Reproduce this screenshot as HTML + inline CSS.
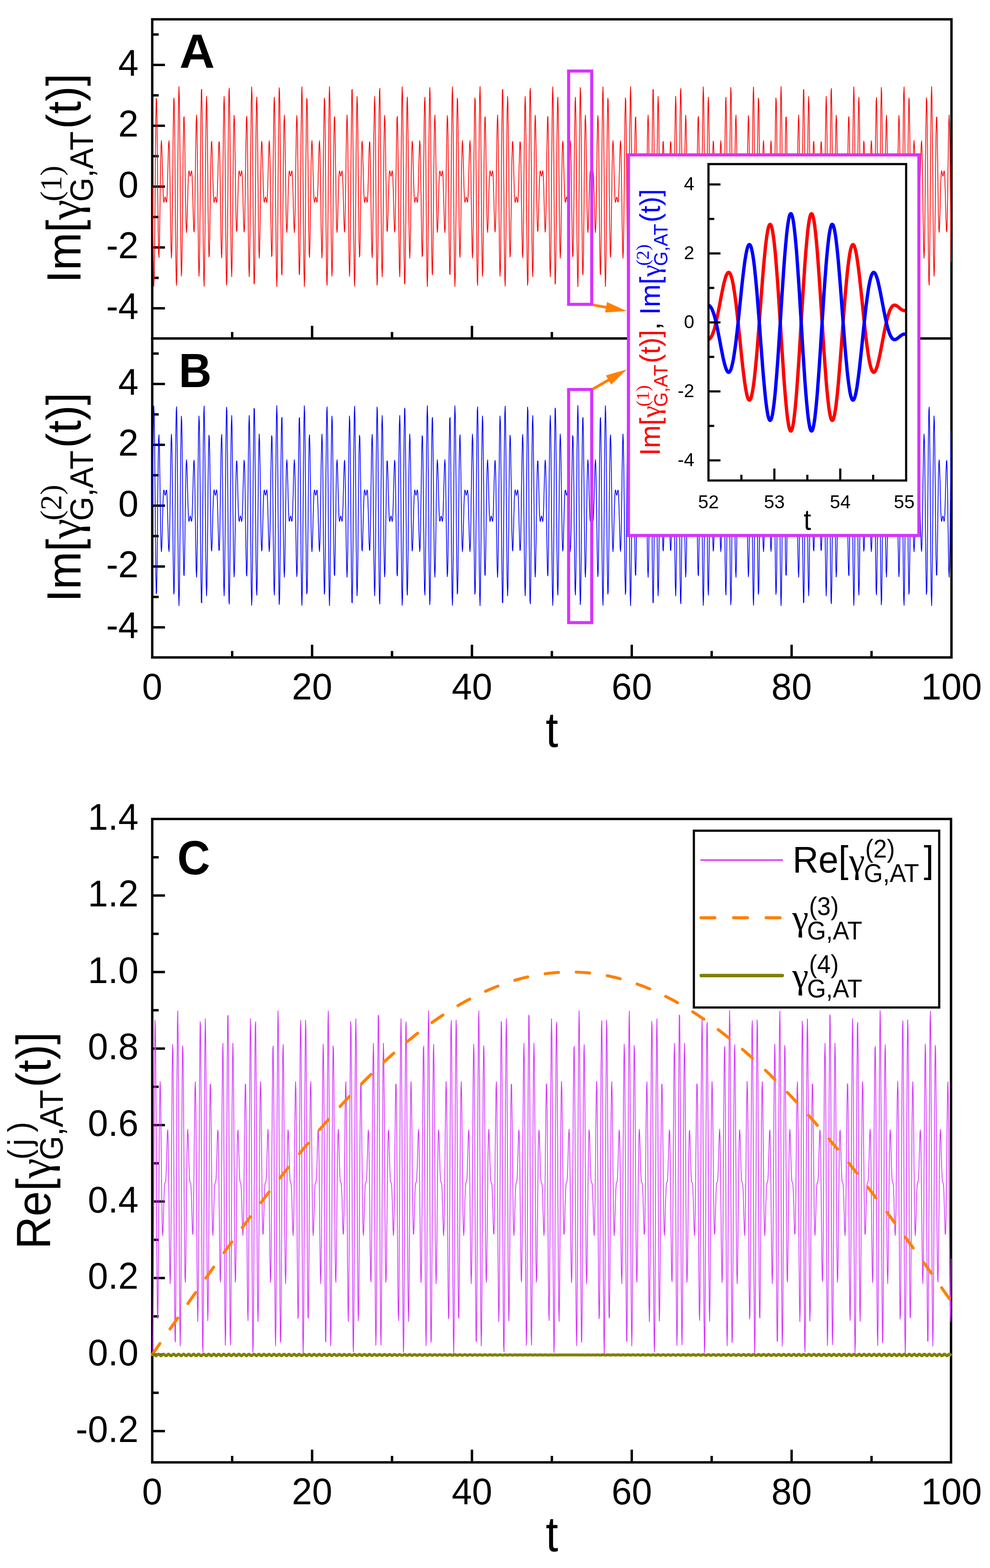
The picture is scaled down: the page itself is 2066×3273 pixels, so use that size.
<!DOCTYPE html><html><head><meta charset="utf-8"><title>figure</title><style>
html,body{margin:0;padding:0;background:#fff;width:2066px;height:3273px;overflow:hidden}
svg{display:block}
text{font-family:"Liberation Sans",Arial,Helvetica,sans-serif}
.sf{font-family:"Liberation Serif","Times New Roman",serif}
.b{font-weight:bold}
</style></head><body>
<svg width="2066" height="3273" viewBox="0 0 2066 3273">
<rect x="0" y="0" width="2066" height="3273" fill="#fff"/>
<rect x="317.7" y="40.3" width="1667.9" height="666.2" fill="none" stroke="#000" stroke-width="5.0"/>
<rect x="317.7" y="706.5" width="1667.9" height="665.8" fill="none" stroke="#000" stroke-width="5.0"/>
<path d="M317.7 643.5H344.2M317.7 1309.5H344.2M317.7 580.0H331.2M317.7 1246.0H331.2M317.7 516.5H344.2M317.7 1182.5H344.2M317.7 453.0H331.2M317.7 1119.0H331.2M317.7 389.5H344.2M317.7 1055.5H344.2M317.7 326.0H331.2M317.7 992.0H331.2M317.7 262.5H344.2M317.7 928.5H344.2M317.7 199.0H331.2M317.7 865.0H331.2M317.7 135.5H344.2M317.7 801.5H344.2M317.7 72.0H331.2M317.7 738.0H331.2M484.5 706.5V693.0M484.5 1372.3V1358.8M484.5 3052.5V3039.0M651.3 706.5V680.0M651.3 1372.3V1345.8M651.3 3052.5V3026.0M818.1 706.5V693.0M818.1 1372.3V1358.8M818.1 3052.5V3039.0M984.9 706.5V680.0M984.9 1372.3V1345.8M984.9 3052.5V3026.0M1151.7 706.5V693.0M1151.7 1372.3V1358.8M1151.7 3052.5V3039.0M1318.4 706.5V680.0M1318.4 1372.3V1345.8M1318.4 3052.5V3026.0M1485.2 706.5V693.0M1485.2 1372.3V1358.8M1485.2 3052.5V3039.0M1652.0 706.5V680.0M1652.0 1372.3V1345.8M1652.0 3052.5V3026.0M1818.8 706.5V693.0M1818.8 1372.3V1358.8M1818.8 3052.5V3039.0M317.7 2987.2H344.2M317.7 2907.3H331.2M317.7 2827.5H344.2M317.7 2747.7H331.2M317.7 2667.8H344.2M317.7 2587.9H331.2M317.7 2508.1H344.2M317.7 2428.2H331.2M317.7 2348.4H344.2M317.7 2268.6H331.2M317.7 2188.7H344.2M317.7 2108.8H331.2M317.7 2029.0H344.2M317.7 1949.2H331.2M317.7 1869.3H344.2M317.7 1789.5H331.2" stroke="#000" stroke-width="5" fill="none"/>
<polyline fill="none" stroke="#FF0000" stroke-width="1.6" stroke-linejoin="round" points="318.5,389.5 319.3,489.8 320.2,565.4 321.0,597.8 321.8,579.7 322.7,516.4 323.5,424.3 324.3,326.8 325.2,247.6 326.0,205.4 326.8,208.6 327.7,254.3 328.5,329.0 329.3,413.0 330.2,485.3 331.0,529.5 331.8,537.5 332.7,510.7 333.5,459.1 334.3,397.8 335.2,342.6 336.0,305.8 336.8,293.5 337.7,304.4 338.5,331.4 339.3,364.6 340.2,394.4 341.0,414.2 341.8,422.2 342.7,420.9 343.5,415.6 344.3,411.5 345.2,411.9 346.0,416.5 346.8,421.6 347.7,421.6 348.5,411.7 349.3,390.0 350.2,359.1 351.0,326.1 351.8,301.2 352.7,293.8 353.5,310.4 354.3,350.8 355.2,408.1 356.0,468.9 356.8,517.3 357.7,538.8 358.5,524.5 359.3,474.7 360.2,399.1 361.0,315.2 361.8,244.1 362.7,204.9 363.5,209.4 364.3,258.7 365.2,342.5 366.0,440.9 366.8,529.6 367.7,586.2 368.5,595.9 369.3,555.3 370.2,474.0 371.0,371.9 371.8,274.1 372.7,204.8 373.5,180.7 374.3,207.1 375.2,276.7 376.0,371.4 376.8,467.4 377.7,541.5 378.5,576.3 379.3,565.4 380.2,513.7 381.0,435.9 381.8,352.5 382.7,284.0 383.5,245.5 384.3,243.7 385.2,275.6 386.0,330.0 386.8,391.3 387.7,444.1 388.5,477.0 389.3,485.2 390.2,471.0 391.0,442.2 391.8,408.9 392.7,380.5 393.5,362.7 394.3,356.5 395.2,358.8 396.0,364.3 396.8,367.8 397.7,366.5 398.5,361.5 399.3,356.9 400.2,358.3 401.0,370.1 401.8,393.7 402.7,425.6 403.5,457.9 404.3,480.5 405.2,484.1 406.0,463.4 406.8,419.4 407.7,360.5 408.5,300.7 409.3,255.9 410.2,240.0 411.0,260.5 411.8,315.6 412.7,394.0 413.5,477.2 414.3,544.1 415.2,576.6 416.0,564.3 416.8,508.2 417.7,420.4 418.5,321.9 419.3,237.1 420.2,187.6 421.0,186.6 421.8,234.9 422.7,321.3 423.5,424.5 424.3,519.1 425.2,581.7 426.0,597.4 426.8,562.9 427.7,487.6 428.5,390.9 429.3,297.0 430.2,228.6 431.0,201.3 431.8,219.7 432.7,277.1 433.5,357.3 434.3,439.5 435.2,503.9 436.0,536.4 436.8,532.0 437.7,495.4 438.5,438.7 439.3,377.8 440.2,327.7 441.0,298.9 441.8,294.8 442.7,312.1 443.5,342.4 444.3,375.4 445.2,402.4 446.0,418.2 446.8,422.6 447.7,419.3 448.5,413.9 449.3,411.1 450.2,413.1 451.0,418.4 451.8,422.4 452.7,419.6 453.5,405.7 454.3,380.3 455.2,347.7 456.0,316.3 456.8,296.3 457.7,296.6 458.5,321.5 459.3,368.8 460.2,428.9 461.0,487.3 461.8,528.1 462.7,538.1 463.5,511.4 464.3,451.4 465.2,370.8 466.0,288.9 466.8,226.6 467.7,201.2 468.5,221.2 469.3,283.9 470.2,375.1 471.0,473.0 471.8,553.2 472.7,595.1 473.5,587.6 474.3,531.7 475.2,440.8 476.0,337.3 476.8,246.6 477.7,191.1 478.5,184.0 479.3,226.4 480.2,306.8 481.0,404.8 481.8,495.8 482.7,558.1 483.5,577.8 484.3,552.0 485.1,489.5 486.0,407.4 486.8,326.9 487.6,267.2 488.5,240.8 489.3,251.1 490.1,292.1 491.0,350.7 491.8,410.7 492.6,457.8 493.5,482.5 494.3,482.6 495.1,462.4 496.0,431.0 496.8,398.4 497.6,373.1 498.5,359.4 499.3,356.6 500.1,360.6 501.0,365.9 501.8,367.9 502.6,365.1 503.5,359.7 504.3,356.4 505.1,360.9 506.0,376.8 506.8,403.8 507.6,436.9 508.5,467.1 509.3,484.3 510.1,480.0 511.0,450.9 511.8,400.7 512.6,339.7 513.5,283.1 514.3,246.8 515.1,242.7 516.0,275.6 516.8,340.2 517.6,422.5 518.5,502.5 519.3,559.6 520.1,577.7 521.0,549.9 521.8,481.3 522.6,387.2 523.5,290.6 524.3,215.6 525.1,181.5 526.0,197.6 526.8,260.6 527.6,355.4 528.5,458.6 529.3,544.7 530.1,592.7 531.0,591.1 531.8,541.3 532.6,456.3 533.5,357.8 534.3,270.2 535.1,214.4 536.0,202.5 536.8,235.3 537.6,302.5 538.5,385.8 539.3,464.0 540.1,518.8 541.0,539.0 541.8,522.8 542.6,477.8 543.5,417.9 544.3,359.1 545.1,315.3 546.0,294.8 546.8,298.6 547.6,321.4 548.5,353.7 549.3,385.5 550.1,409.0 551.0,420.8 551.8,422.1 552.6,417.4 553.5,412.5 554.3,411.3 555.1,414.7 556.0,420.2 556.8,422.5 557.6,416.2 558.5,398.3 559.3,369.8 560.1,336.6 561.0,307.8 561.8,293.8 562.6,302.2 563.5,335.3 564.3,388.2 565.1,449.5 566.0,503.8 566.8,535.4 567.6,533.3 568.5,494.5 569.3,425.7 570.1,342.3 571.0,264.7 571.8,213.3 572.6,202.8 573.5,238.0 574.3,312.3 575.1,408.5 576.0,503.1 576.8,572.4 577.6,598.3 578.5,573.8 579.3,504.1 580.1,406.1 581.0,304.1 581.8,223.1 582.6,183.0 583.5,193.1 584.3,250.1 585.1,339.0 586.0,437.4 586.8,520.9 587.6,569.9 588.5,574.0 589.3,534.4 590.1,463.0 591.0,379.1 591.8,303.7 592.6,254.2 593.5,240.3 594.3,262.0 595.1,310.6 596.0,371.5 596.8,428.6 597.6,468.9 598.5,485.2 599.3,477.7 600.1,452.6 601.0,419.6 601.8,388.8 602.6,367.2 603.5,357.4 604.3,357.4 605.1,362.5 606.0,367.1 606.8,367.5 607.6,363.4 608.5,358.0 609.3,356.8 610.1,364.9 611.0,384.8 611.8,414.7 612.6,447.9 613.5,474.8 614.3,485.5 615.1,472.9 616.0,436.0 616.8,380.7 617.6,319.4 618.5,267.9 619.3,241.4 620.1,249.7 621.0,294.3 621.8,366.8 622.6,450.7 623.5,525.2 624.3,570.6 625.1,573.5 626.0,530.8 626.8,451.4 627.6,353.8 628.5,261.9 629.3,198.9 630.1,181.2 631.0,214.1 631.8,290.0 632.6,390.4 633.5,490.6 634.3,565.9 635.1,597.9 636.0,579.3 636.8,515.7 637.6,423.4 638.5,325.9 639.3,247.0 640.1,205.2 641.0,208.8 641.8,254.9 642.6,329.8 643.5,413.7 644.3,485.8 645.1,529.8 646.0,537.4 646.8,510.3 647.6,458.6 648.5,397.2 649.3,342.2 650.1,305.6 651.0,293.5 651.8,304.5 652.6,331.7 653.5,364.9 654.3,394.6 655.1,414.3 656.0,422.2 656.8,420.9 657.6,415.5 658.5,411.5 659.3,412.0 660.1,416.6 661.0,421.6 661.8,421.6 662.6,411.6 663.5,389.7 664.3,358.8 665.1,325.9 666.0,301.0 666.8,293.9 667.6,310.7 668.5,351.3 669.3,408.6 670.1,469.4 671.0,517.6 671.8,538.8 672.6,524.2 673.5,474.1 674.3,398.4 675.1,314.5 676.0,243.6 676.8,204.7 677.6,209.6 678.5,259.3 679.3,343.3 680.1,441.7 681.0,530.3 681.8,586.5 682.6,595.7 683.5,554.7 684.3,473.2 685.1,371.0 686.0,273.4 686.8,204.4 687.6,180.7 688.5,207.5 689.3,277.4 690.1,372.3 691.0,468.2 691.8,542.0 692.6,576.4 693.5,565.1 694.3,513.1 695.1,435.2 696.0,351.8 696.8,283.5 697.6,245.3 698.5,243.9 699.3,276.0 700.1,330.5 701.0,391.9 701.8,444.5 702.6,477.2 703.5,485.1 704.3,470.8 705.1,441.9 706.0,408.6 706.8,380.3 707.6,362.6 708.5,356.5 709.3,358.9 710.1,364.4 711.0,367.8 711.8,366.5 712.6,361.5 713.5,356.9 714.3,358.3 715.1,370.3 716.0,394.0 716.8,425.9 717.6,458.2 718.5,480.7 719.3,484.1 720.1,463.1 721.0,418.9 721.8,360.0 722.6,300.2 723.5,255.6 724.3,240.0 725.1,260.9 726.0,316.2 726.8,394.7 727.6,477.9 728.5,544.6 729.3,576.7 730.1,564.0 731.0,507.5 731.8,419.5 732.6,321.0 733.5,236.5 734.3,187.4 735.1,186.8 736.0,235.6 736.8,322.2 737.6,425.4 738.5,519.8 739.3,582.1 740.1,597.3 741.0,562.3 741.8,486.8 742.6,390.0 743.5,296.2 744.3,228.2 745.1,201.2 746.0,220.1 746.8,277.7 747.6,358.0 748.5,440.2 749.3,504.3 750.1,536.5 751.0,531.8 751.8,495.0 752.6,438.2 753.5,377.3 754.3,327.4 755.1,298.7 756.0,294.9 756.8,312.3 757.6,342.7 758.5,375.7 759.3,402.5 760.1,418.2 761.0,422.6 761.8,419.3 762.6,413.8 763.5,411.1 764.3,413.2 765.1,418.5 766.0,422.4 766.8,419.5 767.6,405.5 768.5,380.0 769.3,347.4 770.1,316.1 771.0,296.2 771.8,296.7 772.6,321.9 773.5,369.3 774.3,429.4 775.1,487.8 776.0,528.4 776.8,538.1 777.6,511.0 778.5,450.8 779.3,370.1 780.1,288.2 781.0,226.2 781.8,201.2 782.6,221.6 783.5,284.6 784.3,376.0 785.1,473.8 786.0,553.8 786.8,595.3 787.6,587.3 788.5,531.0 789.3,439.9 790.1,336.4 791.0,245.9 791.8,190.8 792.6,184.2 793.5,227.0 794.3,307.7 795.1,405.6 796.0,496.5 796.8,558.5 797.6,577.7 798.5,551.6 799.3,488.8 800.1,406.7 801.0,326.3 801.8,266.8 802.6,240.7 803.5,251.4 804.3,292.6 805.1,351.2 806.0,411.2 806.8,458.1 807.6,482.6 808.5,482.5 809.3,462.2 810.1,430.7 811.0,398.2 811.8,373.0 812.6,359.3 813.5,356.6 814.3,360.7 815.1,365.9 816.0,367.9 816.8,365.1 817.6,359.6 818.5,356.4 819.3,361.0 820.1,377.0 820.9,404.1 821.8,437.2 822.6,467.3 823.4,484.3 824.3,479.8 825.1,450.5 825.9,400.2 826.8,339.2 827.6,282.7 828.4,246.6 829.3,242.9 830.1,276.0 830.9,340.8 831.8,423.2 832.6,503.2 833.4,560.0 834.3,577.6 835.1,549.5 835.9,480.5 836.8,386.3 837.6,289.8 838.4,215.1 839.3,181.4 840.1,198.0 840.9,261.4 841.8,356.3 842.6,459.4 843.4,545.3 844.3,592.9 845.1,590.9 845.9,540.7 846.8,455.4 847.6,356.9 848.4,269.5 849.3,214.1 850.1,202.6 850.9,235.8 851.8,303.2 852.6,386.5 853.4,464.6 854.3,519.2 855.1,539.0 855.9,522.5 856.8,477.4 857.6,417.4 858.4,358.6 859.3,315.0 860.1,294.7 860.9,298.7 861.8,321.6 862.6,354.0 863.4,385.8 864.3,409.2 865.1,420.8 865.9,422.0 866.8,417.4 867.6,412.4 868.4,411.3 869.3,414.8 870.1,420.2 870.9,422.5 871.8,416.1 872.6,398.1 873.4,369.5 874.3,336.3 875.1,307.6 875.9,293.8 876.8,302.4 877.6,335.7 878.4,388.7 879.3,450.1 880.1,504.2 880.9,535.5 881.8,533.1 882.6,494.0 883.4,425.0 884.3,341.6 885.1,264.1 885.9,213.0 886.8,202.9 887.6,238.5 888.4,313.1 889.3,409.4 890.1,503.9 890.9,572.8 891.8,598.3 892.6,573.3 893.4,503.3 894.3,405.2 895.1,303.3 895.9,222.6 896.8,182.9 897.6,193.4 898.4,250.7 899.3,339.9 900.1,438.2 900.9,521.5 901.8,570.1 902.6,573.8 903.4,533.8 904.3,462.3 905.1,378.4 905.9,303.1 906.8,253.9 907.6,240.3 908.4,262.4 909.3,311.1 910.1,372.0 910.9,429.1 911.8,469.1 912.6,485.2 913.4,477.5 914.3,452.3 915.1,419.4 915.9,388.6 916.8,367.0 917.6,357.3 918.4,357.5 919.3,362.6 920.1,367.1 920.9,367.4 921.8,363.3 922.6,358.0 923.4,356.9 924.3,365.1 925.1,385.1 925.9,415.0 926.8,448.2 927.6,475.0 928.4,485.5 929.3,472.7 930.1,435.6 930.9,380.2 931.8,318.9 932.6,267.6 933.4,241.3 934.3,250.0 935.1,294.8 935.9,367.5 936.8,451.4 937.6,525.8 938.4,570.8 939.3,573.3 940.1,530.3 940.9,450.6 941.8,352.9 942.6,261.2 943.4,198.5 944.3,181.3 945.1,214.6 945.9,290.8 946.8,391.4 947.6,491.4 948.4,566.4 949.3,598.0 950.1,579.0 950.9,514.9 951.8,422.6 952.6,325.1 953.4,246.5 954.3,205.0 955.1,209.1 955.9,255.4 956.8,330.5 957.6,414.4 958.4,486.3 959.3,530.0 960.1,537.3 960.9,510.0 961.8,458.0 962.6,396.7 963.4,341.7 964.3,305.4 965.1,293.5 965.9,304.7 966.8,332.0 967.6,365.2 968.4,394.8 969.3,414.4 970.1,422.2 970.9,420.9 971.8,415.5 972.6,411.5 973.4,412.0 974.3,416.6 975.1,421.6 975.9,421.5 976.8,411.4 977.6,389.5 978.4,358.5 979.3,325.6 980.1,300.8 980.9,293.9 981.8,310.9 982.6,351.7 983.4,409.2 984.3,469.9 985.1,518.0 985.9,538.8 986.8,523.9 987.6,473.5 988.4,397.6 989.3,313.8 990.1,243.1 990.9,204.6 991.8,209.9 992.6,260.0 993.4,344.2 994.3,442.6 995.1,531.0 995.9,586.8 996.8,595.6 997.6,554.2 998.4,472.3 999.3,370.1 1000.1,272.6 1000.9,203.9 1001.8,180.7 1002.6,208.0 1003.4,278.2 1004.3,373.1 1005.1,469.0 1005.9,542.5 1006.8,576.6 1007.6,564.8 1008.4,512.5 1009.3,434.4 1010.1,351.1 1010.9,283.0 1011.8,245.2 1012.6,244.0 1013.4,276.4 1014.3,331.1 1015.1,392.4 1015.9,444.9 1016.8,477.4 1017.6,485.1 1018.4,470.6 1019.3,441.6 1020.1,408.3 1020.9,380.1 1021.8,362.5 1022.6,356.5 1023.4,358.9 1024.3,364.4 1025.1,367.8 1025.9,366.4 1026.8,361.4 1027.6,356.9 1028.4,358.4 1029.3,370.5 1030.1,394.3 1030.9,426.2 1031.8,458.4 1032.6,480.8 1033.4,484.0 1034.3,462.8 1035.1,418.5 1035.9,359.4 1036.8,299.7 1037.6,255.3 1038.4,240.1 1039.3,261.2 1040.1,316.8 1040.9,395.5 1041.8,478.6 1042.6,545.1 1043.4,576.8 1044.3,563.7 1045.1,506.8 1045.9,418.6 1046.8,320.2 1047.6,235.8 1048.4,187.1 1049.3,187.0 1050.1,236.2 1050.9,323.1 1051.8,426.4 1052.6,520.5 1053.4,582.4 1054.3,597.2 1055.1,561.8 1055.9,486.0 1056.8,389.1 1057.6,295.5 1058.4,227.7 1059.3,201.2 1060.1,220.4 1060.9,278.4 1061.8,358.8 1062.6,440.9 1063.4,504.8 1064.3,536.6 1065.1,531.6 1065.9,494.5 1066.8,437.6 1067.6,376.8 1068.4,327.0 1069.3,298.6 1070.1,295.0 1070.9,312.6 1071.8,343.0 1072.6,376.0 1073.4,402.7 1074.3,418.3 1075.1,422.6 1075.9,419.2 1076.8,413.8 1077.6,411.1 1078.4,413.2 1079.3,418.5 1080.1,422.5 1080.9,419.4 1081.8,405.3 1082.6,379.8 1083.4,347.2 1084.3,315.8 1085.1,296.1 1085.9,296.8 1086.8,322.2 1087.6,369.8 1088.4,430.0 1089.3,488.3 1090.1,528.6 1090.9,538.0 1091.8,510.6 1092.6,450.1 1093.4,369.3 1094.3,287.5 1095.1,225.8 1095.9,201.2 1096.8,222.0 1097.6,285.3 1098.4,376.9 1099.3,474.7 1100.1,554.3 1100.9,595.5 1101.8,587.0 1102.6,530.3 1103.4,439.0 1104.3,335.5 1105.1,245.3 1105.9,190.5 1106.8,184.4 1107.6,227.5 1108.4,308.5 1109.3,406.5 1110.1,497.2 1110.9,558.9 1111.8,577.7 1112.6,551.2 1113.4,488.1 1114.3,405.9 1115.1,325.6 1115.9,266.4 1116.8,240.6 1117.6,251.6 1118.4,293.0 1119.3,351.8 1120.1,411.7 1120.9,458.4 1121.8,482.7 1122.6,482.4 1123.4,461.9 1124.3,430.4 1125.1,397.9 1125.9,372.8 1126.8,359.2 1127.6,356.6 1128.4,360.7 1129.3,366.0 1130.1,367.9 1130.9,365.0 1131.8,359.6 1132.6,356.4 1133.4,361.1 1134.3,377.2 1135.1,404.4 1135.9,437.5 1136.8,467.6 1137.6,484.4 1138.4,479.7 1139.3,450.2 1140.1,399.6 1140.9,338.6 1141.8,282.3 1142.6,246.4 1143.4,243.0 1144.3,276.5 1145.1,341.5 1145.9,424.0 1146.8,503.8 1147.6,560.3 1148.4,577.6 1149.3,549.1 1150.1,479.7 1150.9,385.5 1151.8,289.0 1152.6,214.6 1153.4,181.4 1154.2,198.4 1155.1,262.1 1155.9,357.2 1156.7,460.3 1157.6,545.9 1158.4,593.1 1159.2,590.7 1160.1,540.0 1160.9,454.6 1161.7,356.1 1162.6,268.9 1163.4,213.7 1164.2,202.7 1165.1,236.3 1165.9,303.9 1166.7,387.3 1167.6,465.2 1168.4,519.5 1169.2,539.0 1170.1,522.3 1170.9,476.9 1171.7,416.8 1172.6,358.2 1173.4,314.8 1174.2,294.7 1175.1,298.8 1175.9,321.9 1176.7,354.3 1177.6,386.0 1178.4,409.3 1179.2,420.9 1180.1,422.0 1180.9,417.3 1181.7,412.4 1182.6,411.3 1183.4,414.8 1184.2,420.3 1185.1,422.5 1185.9,416.0 1186.7,397.9 1187.6,369.2 1188.4,336.0 1189.2,307.4 1190.1,293.7 1190.9,302.6 1191.7,336.1 1192.6,389.2 1193.4,450.6 1194.2,504.6 1195.1,535.7 1195.9,532.9 1196.7,493.5 1197.6,424.3 1198.4,340.8 1199.2,263.5 1200.1,212.7 1200.9,203.0 1201.7,239.1 1202.6,313.9 1203.4,410.3 1204.2,504.6 1205.1,573.2 1205.9,598.4 1206.7,572.9 1207.6,502.5 1208.4,404.3 1209.2,302.4 1210.1,222.0 1210.9,182.7 1211.7,193.7 1212.6,251.4 1213.4,340.7 1214.2,439.0 1215.1,522.1 1215.9,570.4 1216.7,573.6 1217.6,533.3 1218.4,461.6 1219.2,377.7 1220.1,302.6 1220.9,253.6 1221.7,240.4 1222.6,262.7 1223.4,311.6 1224.2,372.6 1225.1,429.5 1225.9,469.4 1226.7,485.3 1227.6,477.4 1228.4,452.0 1229.2,419.1 1230.1,388.3 1230.9,366.9 1231.7,357.3 1232.6,357.5 1233.4,362.6 1234.2,367.1 1235.1,367.4 1235.9,363.3 1236.7,358.0 1237.6,356.9 1238.4,365.2 1239.2,385.3 1240.1,415.2 1240.9,448.4 1241.7,475.2 1242.6,485.5 1243.4,472.5 1244.2,435.1 1245.1,379.6 1245.9,318.3 1246.7,267.2 1247.6,241.2 1248.4,250.2 1249.2,295.4 1250.1,368.2 1250.9,452.2 1251.7,526.4 1252.6,571.1 1253.4,573.1 1254.2,529.7 1255.1,449.8 1255.9,352.0 1256.7,260.5 1257.6,198.2 1258.4,181.4 1259.2,215.1 1260.1,291.6 1260.9,392.3 1261.7,492.2 1262.6,566.9 1263.4,598.0 1264.2,578.6 1265.1,514.2 1265.9,421.7 1266.7,324.3 1267.6,245.9 1268.4,204.8 1269.2,209.3 1270.1,256.0 1270.9,331.2 1271.7,415.1 1272.6,486.9 1273.4,530.2 1274.2,537.2 1275.1,509.6 1275.9,457.5 1276.7,396.2 1277.6,341.3 1278.4,305.2 1279.2,293.5 1280.1,304.9 1280.9,332.3 1281.7,365.5 1282.6,395.1 1283.4,414.6 1284.2,422.3 1285.1,420.8 1285.9,415.4 1286.7,411.5 1287.6,412.0 1288.4,416.7 1289.2,421.7 1290.1,421.5 1290.9,411.3 1291.7,389.2 1292.6,358.2 1293.4,325.3 1294.2,300.7 1295.1,294.0 1295.9,311.2 1296.7,352.2 1297.6,409.7 1298.4,470.4 1299.2,518.3 1300.1,538.9 1300.9,523.6 1301.7,473.0 1302.6,396.9 1303.4,313.1 1304.2,242.6 1305.1,204.4 1305.9,210.1 1306.7,260.6 1307.6,345.0 1308.4,443.5 1309.2,531.6 1310.1,587.1 1310.9,595.4 1311.7,553.6 1312.6,471.5 1313.4,369.1 1314.2,271.8 1315.1,203.5 1315.9,180.7 1316.7,208.4 1317.6,279.0 1318.4,374.0 1319.2,469.8 1320.1,543.0 1320.9,576.6 1321.7,564.5 1322.6,511.8 1323.4,433.7 1324.2,350.4 1325.1,282.5 1325.9,245.0 1326.7,244.2 1327.6,276.8 1328.4,331.6 1329.2,392.9 1330.1,445.3 1330.9,477.5 1331.7,485.1 1332.6,470.4 1333.4,441.3 1334.2,408.0 1335.1,379.8 1335.9,362.3 1336.7,356.5 1337.6,359.0 1338.4,364.4 1339.2,367.8 1340.1,366.4 1340.9,361.4 1341.7,356.8 1342.6,358.4 1343.4,370.6 1344.2,394.5 1345.1,426.5 1345.9,458.7 1346.7,480.9 1347.6,483.9 1348.4,462.5 1349.2,418.0 1350.1,358.9 1350.9,299.2 1351.7,255.0 1352.6,240.1 1353.4,261.6 1354.2,317.5 1355.1,396.2 1355.9,479.3 1356.7,545.5 1357.6,576.9 1358.4,563.4 1359.2,506.1 1360.1,417.8 1360.9,319.3 1361.7,235.2 1362.6,186.9 1363.4,187.2 1364.2,236.8 1365.1,324.0 1365.9,427.3 1366.7,521.3 1367.6,582.8 1368.4,597.1 1369.2,561.3 1370.1,485.2 1370.9,388.2 1371.7,294.8 1372.6,227.3 1373.4,201.2 1374.2,220.8 1375.1,279.0 1375.9,359.6 1376.7,441.5 1377.6,505.2 1378.4,536.7 1379.2,531.4 1380.1,494.1 1380.9,437.1 1381.7,376.3 1382.6,326.7 1383.4,298.5 1384.2,295.0 1385.1,312.8 1385.9,343.3 1386.7,376.3 1387.6,402.9 1388.4,418.4 1389.2,422.6 1390.1,419.2 1390.9,413.7 1391.7,411.1 1392.6,413.3 1393.4,418.6 1394.2,422.5 1395.1,419.3 1395.9,405.1 1396.7,379.5 1397.6,346.9 1398.4,315.6 1399.2,296.0 1400.1,296.9 1400.9,322.5 1401.7,370.3 1402.6,430.5 1403.4,488.7 1404.2,528.8 1405.1,537.9 1405.9,510.2 1406.7,449.5 1407.6,368.5 1408.4,286.9 1409.2,225.4 1410.1,201.1 1410.9,222.4 1411.7,286.0 1412.6,377.7 1413.4,475.5 1414.2,554.9 1415.1,595.6 1415.9,586.7 1416.7,529.7 1417.6,438.1 1418.4,334.6 1419.2,244.6 1420.1,190.3 1420.9,184.5 1421.7,228.1 1422.6,309.3 1423.4,407.4 1424.2,497.9 1425.1,559.2 1425.9,577.7 1426.7,550.8 1427.6,487.4 1428.4,405.2 1429.2,325.0 1430.1,266.0 1430.9,240.6 1431.7,251.9 1432.6,293.5 1433.4,352.3 1434.2,412.2 1435.1,458.8 1435.9,482.8 1436.7,482.3 1437.6,461.7 1438.4,430.1 1439.2,397.6 1440.1,372.6 1440.9,359.2 1441.7,356.6 1442.6,360.8 1443.4,366.0 1444.2,367.9 1445.1,365.0 1445.9,359.5 1446.7,356.4 1447.6,361.2 1448.4,377.4 1449.2,404.7 1450.1,437.8 1450.9,467.8 1451.7,484.4 1452.6,479.5 1453.4,449.8 1454.2,399.1 1455.1,338.1 1455.9,281.8 1456.7,246.2 1457.6,243.1 1458.4,276.9 1459.2,342.2 1460.1,424.7 1460.9,504.4 1461.7,560.7 1462.6,577.5 1463.4,548.6 1464.2,479.0 1465.1,384.6 1465.9,288.3 1466.7,214.1 1467.6,181.3 1468.4,198.7 1469.2,262.9 1470.1,358.1 1470.9,461.2 1471.7,546.5 1472.6,593.3 1473.4,590.4 1474.2,539.4 1475.1,453.7 1475.9,355.2 1476.7,268.2 1477.6,213.4 1478.4,202.8 1479.2,236.7 1480.1,304.6 1480.9,388.0 1481.7,465.9 1482.6,519.8 1483.4,539.0 1484.2,522.0 1485.0,476.4 1485.9,416.3 1486.7,357.7 1487.5,314.5 1488.4,294.6 1489.2,299.0 1490.0,322.1 1490.9,354.6 1491.7,386.3 1492.5,409.5 1493.4,420.9 1494.2,422.0 1495.0,417.3 1495.9,412.4 1496.7,411.3 1497.5,414.9 1498.4,420.3 1499.2,422.5 1500.0,415.9 1500.9,397.7 1501.7,369.0 1502.5,335.7 1503.4,307.2 1504.2,293.7 1505.0,302.8 1505.9,336.5 1506.7,389.8 1507.5,451.1 1508.4,505.0 1509.2,535.8 1510.0,532.7 1510.9,493.0 1511.7,423.6 1512.5,340.1 1513.4,262.9 1514.2,212.4 1515.0,203.1 1515.9,239.6 1516.7,314.7 1517.5,411.2 1518.4,505.4 1519.2,573.7 1520.0,598.3 1520.9,572.5 1521.7,501.7 1522.5,403.4 1523.4,301.6 1524.2,221.5 1525.0,182.6 1525.9,194.0 1526.7,252.1 1527.5,341.6 1528.4,439.9 1529.2,522.7 1530.0,570.6 1530.9,573.4 1531.7,532.8 1532.5,460.9 1533.4,376.9 1534.2,302.0 1535.0,253.3 1535.9,240.4 1536.7,263.0 1537.5,312.2 1538.4,373.1 1539.2,429.9 1540.0,469.6 1540.9,485.3 1541.7,477.2 1542.5,451.8 1543.4,418.8 1544.2,388.1 1545.0,366.7 1545.9,357.2 1546.7,357.5 1547.5,362.7 1548.4,367.2 1549.2,367.4 1550.0,363.2 1550.9,357.9 1551.7,356.9 1552.5,365.3 1553.4,385.5 1554.2,415.5 1555.0,448.7 1555.9,475.4 1556.7,485.5 1557.5,472.2 1558.4,434.7 1559.2,379.1 1560.0,317.8 1560.9,266.8 1561.7,241.1 1562.5,250.4 1563.4,295.9 1564.2,368.9 1565.0,452.9 1565.9,526.9 1566.7,571.3 1567.5,572.9 1568.4,529.1 1569.2,449.0 1570.0,351.2 1570.9,259.7 1571.7,197.8 1572.5,181.5 1573.4,215.6 1574.2,292.5 1575.0,393.2 1575.9,493.0 1576.7,567.4 1577.5,598.1 1578.4,578.2 1579.2,513.5 1580.0,420.8 1580.9,323.5 1581.7,245.4 1582.5,204.7 1583.4,209.6 1584.2,256.6 1585.0,332.0 1585.9,415.8 1586.7,487.4 1587.5,530.4 1588.4,537.1 1589.2,509.2 1590.0,457.0 1590.9,395.6 1591.7,340.9 1592.5,305.0 1593.4,293.5 1594.2,305.1 1595.0,332.5 1595.9,365.8 1596.7,395.3 1597.5,414.7 1598.4,422.3 1599.2,420.8 1600.0,415.4 1600.9,411.5 1601.7,412.0 1602.5,416.7 1603.4,421.7 1604.2,421.5 1605.0,411.1 1605.9,389.0 1606.7,357.9 1607.5,325.1 1608.4,300.5 1609.2,294.0 1610.0,311.4 1610.9,352.7 1611.7,410.2 1612.5,470.9 1613.4,518.6 1614.2,538.9 1615.0,523.3 1615.9,472.4 1616.7,396.2 1617.5,312.4 1618.4,242.1 1619.2,204.2 1620.0,210.4 1620.9,261.2 1621.7,345.9 1622.5,444.3 1623.4,532.3 1624.2,587.4 1625.0,595.3 1625.9,553.0 1626.7,470.6 1627.5,368.2 1628.4,271.1 1629.2,203.1 1630.0,180.7 1630.9,208.9 1631.7,279.7 1632.5,374.9 1633.4,470.6 1634.2,543.4 1635.0,576.7 1635.9,564.2 1636.7,511.2 1637.5,432.9 1638.4,349.7 1639.2,282.0 1640.0,244.8 1640.9,244.3 1641.7,277.2 1642.5,332.2 1643.4,393.4 1644.2,445.7 1645.0,477.7 1645.9,485.0 1646.7,470.1 1647.5,441.0 1648.4,407.8 1649.2,379.6 1650.0,362.2 1650.9,356.5 1651.7,359.0 1652.5,364.5 1653.4,367.8 1654.2,366.4 1655.0,361.3 1655.9,356.8 1656.7,358.5 1657.5,370.8 1658.4,394.8 1659.2,426.8 1660.0,458.9 1660.9,481.0 1661.7,483.8 1662.5,462.2 1663.4,417.5 1664.2,358.3 1665.0,298.7 1665.9,254.7 1666.7,240.1 1667.5,261.9 1668.4,318.1 1669.2,397.0 1670.0,480.0 1670.9,546.0 1671.7,577.0 1672.5,563.0 1673.4,505.5 1674.2,416.9 1675.0,318.5 1675.9,234.6 1676.7,186.7 1677.5,187.5 1678.4,237.5 1679.2,324.8 1680.0,428.2 1680.9,522.0 1681.7,583.1 1682.5,597.0 1683.4,560.8 1684.2,484.4 1685.0,387.4 1685.9,294.0 1686.7,226.9 1687.5,201.2 1688.4,221.2 1689.2,279.7 1690.0,360.3 1690.9,442.2 1691.7,505.6 1692.5,536.9 1693.4,531.2 1694.2,493.7 1695.0,436.5 1695.9,375.8 1696.7,326.3 1697.5,298.3 1698.4,295.1 1699.2,313.0 1700.0,343.6 1700.9,376.5 1701.7,403.1 1702.5,418.5 1703.4,422.6 1704.2,419.1 1705.0,413.7 1705.9,411.1 1706.7,413.3 1707.5,418.6 1708.4,422.5 1709.2,419.3 1710.0,405.0 1710.9,379.2 1711.7,346.6 1712.5,315.4 1713.4,295.9 1714.2,297.1 1715.0,322.9 1715.9,370.8 1716.7,431.1 1717.5,489.2 1718.4,529.1 1719.2,537.8 1720.0,509.8 1720.9,448.8 1721.7,367.8 1722.5,286.2 1723.4,225.0 1724.2,201.1 1725.0,222.8 1725.9,286.7 1726.7,378.6 1727.5,476.3 1728.4,555.4 1729.2,595.8 1730.0,586.4 1730.9,529.0 1731.7,437.2 1732.5,333.7 1733.4,243.9 1734.2,190.0 1735.0,184.7 1735.9,228.7 1736.7,310.1 1737.5,408.3 1738.4,498.6 1739.2,559.6 1740.0,577.6 1740.9,550.3 1741.7,486.8 1742.5,404.4 1743.4,324.4 1744.2,265.6 1745.0,240.5 1745.9,252.1 1746.7,294.0 1747.5,352.9 1748.4,412.7 1749.2,459.1 1750.0,482.9 1750.9,482.2 1751.7,461.4 1752.5,429.8 1753.4,397.4 1754.2,372.5 1755.0,359.1 1755.9,356.6 1756.7,360.8 1757.5,366.0 1758.4,367.9 1759.2,364.9 1760.0,359.5 1760.9,356.4 1761.7,361.3 1762.5,377.6 1763.4,405.0 1764.2,438.1 1765.0,468.0 1765.9,484.5 1766.7,479.4 1767.5,449.4 1768.4,398.6 1769.2,337.5 1770.0,281.4 1770.9,246.0 1771.7,243.3 1772.5,277.4 1773.4,342.9 1774.2,425.5 1775.0,505.1 1775.9,561.0 1776.7,577.5 1777.5,548.1 1778.4,478.2 1779.2,383.7 1780.0,287.5 1780.9,213.6 1781.7,181.2 1782.5,199.1 1783.4,263.6 1784.2,359.1 1785.0,462.0 1785.9,547.1 1786.7,593.5 1787.5,590.2 1788.4,538.8 1789.2,452.9 1790.0,354.3 1790.9,267.6 1791.7,213.1 1792.5,202.9 1793.4,237.2 1794.2,305.3 1795.0,388.8 1795.9,466.5 1796.7,520.2 1797.5,539.0 1798.4,521.7 1799.2,475.9 1800.0,415.7 1800.9,357.2 1801.7,314.2 1802.5,294.5 1803.4,299.1 1804.2,322.4 1805.0,354.9 1805.9,386.5 1806.7,409.6 1807.5,421.0 1808.4,422.0 1809.2,417.2 1810.0,412.3 1810.9,411.3 1811.7,414.9 1812.5,420.4 1813.4,422.5 1814.2,415.8 1815.0,397.5 1815.9,368.7 1816.7,335.4 1817.5,307.0 1818.3,293.7 1819.2,303.0 1820.0,336.9 1820.8,390.3 1821.7,451.7 1822.5,505.4 1823.3,535.9 1824.2,532.5 1825.0,492.5 1825.8,422.9 1826.7,339.4 1827.5,262.3 1828.3,212.2 1829.2,203.2 1830.0,240.1 1830.8,315.5 1831.7,412.0 1832.5,506.1 1833.3,574.1 1834.2,598.3 1835.0,572.0 1835.8,501.0 1836.7,402.4 1837.5,300.7 1838.3,220.9 1839.2,182.5 1840.0,194.4 1840.8,252.8 1841.7,342.5 1842.5,440.7 1843.3,523.3 1844.2,570.8 1845.0,573.3 1845.8,532.3 1846.7,460.1 1847.5,376.2 1848.3,301.4 1849.2,253.1 1850.0,240.5 1850.8,263.4 1851.7,312.7 1852.5,373.7 1853.3,430.4 1854.2,469.9 1855.0,485.3 1855.8,477.0 1856.7,451.5 1857.5,418.5 1858.3,387.8 1859.2,366.6 1860.0,357.2 1860.8,357.6 1861.7,362.7 1862.5,367.2 1863.3,367.4 1864.2,363.2 1865.0,357.9 1865.8,356.9 1866.7,365.4 1867.5,385.8 1868.3,415.8 1869.2,449.0 1870.0,475.5 1870.8,485.5 1871.7,472.0 1872.5,434.3 1873.3,378.5 1874.2,317.3 1875.0,266.5 1875.8,241.1 1876.7,250.7 1877.5,296.4 1878.3,369.7 1879.2,453.6 1880.0,527.5 1880.8,571.5 1881.7,572.7 1882.5,528.6 1883.3,448.1 1884.2,350.3 1885.0,259.0 1885.8,197.4 1886.7,181.5 1887.5,216.2 1888.3,293.3 1889.2,394.1 1890.0,493.9 1890.8,567.8 1891.7,598.1 1892.5,577.8 1893.3,512.8 1894.2,419.9 1895.0,322.7 1895.8,244.8 1896.7,204.5 1897.5,209.8 1898.3,257.1 1899.2,332.7 1900.0,416.6 1900.8,487.9 1901.7,530.7 1902.5,537.0 1903.3,508.8 1904.2,456.4 1905.0,395.1 1905.8,340.5 1906.7,304.8 1907.5,293.5 1908.3,305.3 1909.2,332.8 1910.0,366.1 1910.8,395.5 1911.7,414.8 1912.5,422.3 1913.3,420.7 1914.2,415.3 1915.0,411.4 1915.8,412.1 1916.7,416.8 1917.5,421.7 1918.3,421.4 1919.2,411.0 1920.0,388.7 1920.8,357.6 1921.7,324.8 1922.5,300.4 1923.3,294.0 1924.2,311.7 1925.0,353.1 1925.8,410.8 1926.7,471.4 1927.5,518.9 1928.3,538.9 1929.2,523.0 1930.0,471.8 1930.8,395.4 1931.7,311.7 1932.5,241.6 1933.3,204.1 1934.2,210.6 1935.0,261.8 1935.8,346.7 1936.7,445.2 1937.5,533.0 1938.3,587.7 1939.2,595.1 1940.0,552.4 1940.8,469.8 1941.7,367.3 1942.5,270.3 1943.3,202.7 1944.2,180.8 1945.0,209.4 1945.8,280.5 1946.7,375.8 1947.5,471.4 1948.3,543.9 1949.2,576.8 1950.0,563.9 1950.8,510.6 1951.7,432.2 1952.5,349.1 1953.3,281.6 1954.2,244.6 1955.0,244.5 1955.8,277.7 1956.7,332.7 1957.5,394.0 1958.3,446.1 1959.2,477.9 1960.0,485.0 1960.8,469.9 1961.7,440.7 1962.5,407.5 1963.3,379.4 1964.2,362.1 1965.0,356.5 1965.8,359.1 1966.7,364.5 1967.5,367.8 1968.3,366.3 1969.2,361.3 1970.0,356.8 1970.8,358.5 1971.7,371.0 1972.5,395.0 1973.3,427.1 1974.2,459.2 1975.0,481.2 1975.8,483.7 1976.7,461.9 1977.5,417.0 1978.3,357.8 1979.2,298.2 1980.0,254.5 1980.8,240.1 1981.7,262.3 1982.5,318.7 1983.3,397.7 1984.2,480.7 1985.0,546.4"/>
<polyline fill="none" stroke="#0000FF" stroke-width="1.6" stroke-linejoin="round" points="318.5,1055.5 319.3,955.2 320.2,879.6 321.0,847.2 321.8,865.3 322.7,928.6 323.5,1020.7 324.3,1118.2 325.2,1197.4 326.0,1239.6 326.8,1236.4 327.7,1190.7 328.5,1116.0 329.3,1032.0 330.2,959.7 331.0,915.5 331.8,907.5 332.7,934.3 333.5,985.9 334.3,1047.2 335.2,1102.4 336.0,1139.2 336.8,1151.5 337.7,1140.6 338.5,1113.6 339.3,1080.4 340.2,1050.6 341.0,1030.8 341.8,1022.8 342.7,1024.1 343.5,1029.4 344.3,1033.5 345.2,1033.1 346.0,1028.5 346.8,1023.4 347.7,1023.4 348.5,1033.3 349.3,1055.0 350.2,1085.9 351.0,1118.9 351.8,1143.8 352.7,1151.2 353.5,1134.6 354.3,1094.2 355.2,1036.9 356.0,976.1 356.8,927.7 357.7,906.2 358.5,920.5 359.3,970.3 360.2,1045.9 361.0,1129.8 361.8,1200.9 362.7,1240.1 363.5,1235.6 364.3,1186.3 365.2,1102.5 366.0,1004.1 366.8,915.4 367.7,858.8 368.5,849.1 369.3,889.7 370.2,971.0 371.0,1073.1 371.8,1170.9 372.7,1240.2 373.5,1264.3 374.3,1237.9 375.2,1168.3 376.0,1073.6 376.8,977.6 377.7,903.5 378.5,868.7 379.3,879.6 380.2,931.3 381.0,1009.1 381.8,1092.5 382.7,1161.0 383.5,1199.5 384.3,1201.3 385.2,1169.4 386.0,1115.0 386.8,1053.7 387.7,1000.9 388.5,968.0 389.3,959.8 390.2,974.0 391.0,1002.8 391.8,1036.1 392.7,1064.5 393.5,1082.3 394.3,1088.5 395.2,1086.2 396.0,1080.7 396.8,1077.2 397.7,1078.5 398.5,1083.5 399.3,1088.1 400.2,1086.7 401.0,1074.9 401.8,1051.3 402.7,1019.4 403.5,987.1 404.3,964.5 405.2,960.9 406.0,981.6 406.8,1025.6 407.7,1084.5 408.5,1144.3 409.3,1189.1 410.2,1205.0 411.0,1184.5 411.8,1129.4 412.7,1051.0 413.5,967.8 414.3,900.9 415.2,868.4 416.0,880.7 416.8,936.8 417.7,1024.6 418.5,1123.1 419.3,1207.9 420.2,1257.4 421.0,1258.4 421.8,1210.1 422.7,1123.7 423.5,1020.5 424.3,925.9 425.2,863.3 426.0,847.6 426.8,882.1 427.7,957.4 428.5,1054.1 429.3,1148.0 430.2,1216.4 431.0,1243.7 431.8,1225.3 432.7,1167.9 433.5,1087.7 434.3,1005.5 435.2,941.1 436.0,908.6 436.8,913.0 437.7,949.6 438.5,1006.3 439.3,1067.2 440.2,1117.3 441.0,1146.1 441.8,1150.2 442.7,1132.9 443.5,1102.6 444.3,1069.6 445.2,1042.6 446.0,1026.8 446.8,1022.4 447.7,1025.7 448.5,1031.1 449.3,1033.9 450.2,1031.9 451.0,1026.6 451.8,1022.6 452.7,1025.4 453.5,1039.3 454.3,1064.7 455.2,1097.3 456.0,1128.7 456.8,1148.7 457.7,1148.4 458.5,1123.5 459.3,1076.2 460.2,1016.1 461.0,957.7 461.8,916.9 462.7,906.9 463.5,933.6 464.3,993.6 465.2,1074.2 466.0,1156.1 466.8,1218.4 467.7,1243.8 468.5,1223.8 469.3,1161.1 470.2,1069.9 471.0,972.0 471.8,891.8 472.7,849.9 473.5,857.4 474.3,913.3 475.2,1004.2 476.0,1107.7 476.8,1198.4 477.7,1253.9 478.5,1261.0 479.3,1218.6 480.2,1138.2 481.0,1040.2 481.8,949.2 482.7,886.9 483.5,867.2 484.3,893.0 485.1,955.5 486.0,1037.6 486.8,1118.1 487.6,1177.8 488.5,1204.2 489.3,1193.9 490.1,1152.9 491.0,1094.3 491.8,1034.3 492.6,987.2 493.5,962.5 494.3,962.4 495.1,982.6 496.0,1014.0 496.8,1046.6 497.6,1071.9 498.5,1085.6 499.3,1088.4 500.1,1084.4 501.0,1079.1 501.8,1077.1 502.6,1079.9 503.5,1085.3 504.3,1088.6 505.1,1084.1 506.0,1068.2 506.8,1041.2 507.6,1008.1 508.5,977.9 509.3,960.7 510.1,965.0 511.0,994.1 511.8,1044.3 512.6,1105.3 513.5,1161.9 514.3,1198.2 515.1,1202.3 516.0,1169.4 516.8,1104.8 517.6,1022.5 518.5,942.5 519.3,885.4 520.1,867.3 521.0,895.1 521.8,963.7 522.6,1057.8 523.5,1154.4 524.3,1229.4 525.1,1263.5 526.0,1247.4 526.8,1184.4 527.6,1089.6 528.5,986.4 529.3,900.3 530.1,852.3 531.0,853.9 531.8,903.7 532.6,988.7 533.5,1087.2 534.3,1174.8 535.1,1230.6 536.0,1242.5 536.8,1209.7 537.6,1142.5 538.5,1059.2 539.3,981.0 540.1,926.2 541.0,906.0 541.8,922.2 542.6,967.2 543.5,1027.1 544.3,1085.9 545.1,1129.7 546.0,1150.2 546.8,1146.4 547.6,1123.6 548.5,1091.3 549.3,1059.5 550.1,1036.0 551.0,1024.2 551.8,1022.9 552.6,1027.6 553.5,1032.5 554.3,1033.7 555.1,1030.3 556.0,1024.8 556.8,1022.5 557.6,1028.8 558.5,1046.7 559.3,1075.2 560.1,1108.4 561.0,1137.2 561.8,1151.2 562.6,1142.8 563.5,1109.7 564.3,1056.8 565.1,995.5 566.0,941.2 566.8,909.6 567.6,911.7 568.5,950.5 569.3,1019.3 570.1,1102.7 571.0,1180.3 571.8,1231.7 572.6,1242.2 573.5,1207.0 574.3,1132.7 575.1,1036.5 576.0,941.9 576.8,872.6 577.6,846.7 578.5,871.2 579.3,940.9 580.1,1038.9 581.0,1140.9 581.8,1221.9 582.6,1262.0 583.5,1251.9 584.3,1194.9 585.1,1106.0 586.0,1007.6 586.8,924.1 587.6,875.1 588.5,871.0 589.3,910.6 590.1,982.0 591.0,1065.9 591.8,1141.3 592.6,1190.8 593.5,1204.7 594.3,1183.0 595.1,1134.4 596.0,1073.5 596.8,1016.4 597.6,976.1 598.5,959.8 599.3,967.3 600.1,992.4 601.0,1025.4 601.8,1056.2 602.6,1077.8 603.5,1087.6 604.3,1087.6 605.1,1082.5 606.0,1077.9 606.8,1077.5 607.6,1081.6 608.5,1087.0 609.3,1088.2 610.1,1080.1 611.0,1060.2 611.8,1030.3 612.6,997.1 613.5,970.2 614.3,959.5 615.1,972.1 616.0,1009.0 616.8,1064.3 617.6,1125.6 618.5,1177.1 619.3,1203.6 620.1,1195.3 621.0,1150.7 621.8,1078.2 622.6,994.3 623.5,919.8 624.3,874.4 625.1,871.5 626.0,914.2 626.8,993.6 627.6,1091.2 628.5,1183.1 629.3,1246.1 630.1,1263.8 631.0,1230.9 631.8,1155.0 632.6,1054.6 633.5,954.4 634.3,879.1 635.1,847.1 636.0,865.7 636.8,929.3 637.6,1021.6 638.5,1119.1 639.3,1198.0 640.1,1239.8 641.0,1236.2 641.8,1190.1 642.6,1115.2 643.5,1031.3 644.3,959.2 645.1,915.2 646.0,907.6 646.8,934.7 647.6,986.4 648.5,1047.8 649.3,1102.8 650.1,1139.4 651.0,1151.5 651.8,1140.5 652.6,1113.3 653.5,1080.1 654.3,1050.4 655.1,1030.7 656.0,1022.8 656.8,1024.1 657.6,1029.5 658.5,1033.5 659.3,1033.0 660.1,1028.4 661.0,1023.4 661.8,1023.4 662.6,1033.4 663.5,1055.3 664.3,1086.2 665.1,1119.1 666.0,1144.0 666.8,1151.1 667.6,1134.3 668.5,1093.7 669.3,1036.4 670.1,975.6 671.0,927.4 671.8,906.2 672.6,920.8 673.5,970.9 674.3,1046.6 675.1,1130.5 676.0,1201.4 676.8,1240.3 677.6,1235.4 678.5,1185.7 679.3,1101.7 680.1,1003.3 681.0,914.7 681.8,858.5 682.6,849.3 683.5,890.3 684.3,971.8 685.1,1074.0 686.0,1171.6 686.8,1240.6 687.6,1264.3 688.5,1237.5 689.3,1167.6 690.1,1072.7 691.0,976.8 691.8,903.0 692.6,868.6 693.5,879.9 694.3,931.9 695.1,1009.8 696.0,1093.2 696.8,1161.5 697.6,1199.7 698.5,1201.1 699.3,1169.0 700.1,1114.5 701.0,1053.1 701.8,1000.5 702.6,967.8 703.5,959.9 704.3,974.2 705.1,1003.1 706.0,1036.4 706.8,1064.7 707.6,1082.4 708.5,1088.5 709.3,1086.1 710.1,1080.6 711.0,1077.2 711.8,1078.5 712.6,1083.5 713.5,1088.1 714.3,1086.7 715.1,1074.7 716.0,1051.0 716.8,1019.1 717.6,986.8 718.5,964.3 719.3,960.9 720.1,981.9 721.0,1026.1 721.8,1085.0 722.6,1144.8 723.5,1189.4 724.3,1205.0 725.1,1184.1 726.0,1128.8 726.8,1050.3 727.6,967.1 728.5,900.4 729.3,868.3 730.1,881.0 731.0,937.5 731.8,1025.5 732.6,1124.0 733.5,1208.5 734.3,1257.6 735.1,1258.2 736.0,1209.4 736.8,1122.8 737.6,1019.6 738.5,925.2 739.3,862.9 740.1,847.7 741.0,882.7 741.8,958.2 742.6,1055.0 743.5,1148.8 744.3,1216.8 745.1,1243.8 746.0,1224.9 746.8,1167.3 747.6,1087.0 748.5,1004.8 749.3,940.7 750.1,908.5 751.0,913.2 751.8,950.0 752.6,1006.8 753.5,1067.7 754.3,1117.6 755.1,1146.3 756.0,1150.1 756.8,1132.7 757.6,1102.3 758.5,1069.3 759.3,1042.5 760.1,1026.8 761.0,1022.4 761.8,1025.7 762.6,1031.2 763.5,1033.9 764.3,1031.8 765.1,1026.5 766.0,1022.6 766.8,1025.5 767.6,1039.5 768.5,1065.0 769.3,1097.6 770.1,1128.9 771.0,1148.8 771.8,1148.3 772.6,1123.1 773.5,1075.7 774.3,1015.6 775.1,957.2 776.0,916.6 776.8,906.9 777.6,934.0 778.5,994.2 779.3,1074.9 780.1,1156.8 781.0,1218.8 781.8,1243.8 782.6,1223.4 783.5,1160.4 784.3,1069.0 785.1,971.2 786.0,891.2 786.8,849.7 787.6,857.7 788.5,914.0 789.3,1005.1 790.1,1108.6 791.0,1199.1 791.8,1254.2 792.6,1260.8 793.5,1218.0 794.3,1137.3 795.1,1039.4 796.0,948.5 796.8,886.5 797.6,867.3 798.5,893.4 799.3,956.2 800.1,1038.3 801.0,1118.7 801.8,1178.2 802.6,1204.3 803.5,1193.6 804.3,1152.4 805.1,1093.8 806.0,1033.8 806.8,986.9 807.6,962.4 808.5,962.5 809.3,982.8 810.1,1014.3 811.0,1046.8 811.8,1072.0 812.6,1085.7 813.5,1088.4 814.3,1084.3 815.1,1079.1 816.0,1077.1 816.8,1079.9 817.6,1085.4 818.5,1088.6 819.3,1084.0 820.1,1068.0 820.9,1040.9 821.8,1007.8 822.6,977.7 823.4,960.7 824.3,965.2 825.1,994.5 825.9,1044.8 826.8,1105.8 827.6,1162.3 828.4,1198.4 829.3,1202.1 830.1,1169.0 830.9,1104.2 831.8,1021.8 832.6,941.8 833.4,885.0 834.3,867.4 835.1,895.5 835.9,964.5 836.8,1058.7 837.6,1155.2 838.4,1229.9 839.3,1263.6 840.1,1247.0 840.9,1183.6 841.8,1088.7 842.6,985.6 843.4,899.7 844.3,852.1 845.1,854.1 845.9,904.3 846.8,989.6 847.6,1088.1 848.4,1175.5 849.3,1230.9 850.1,1242.4 850.9,1209.2 851.8,1141.8 852.6,1058.5 853.4,980.4 854.3,925.8 855.1,906.0 855.9,922.5 856.8,967.6 857.6,1027.6 858.4,1086.4 859.3,1130.0 860.1,1150.3 860.9,1146.3 861.8,1123.4 862.6,1091.0 863.4,1059.2 864.3,1035.8 865.1,1024.2 865.9,1023.0 866.8,1027.6 867.6,1032.6 868.4,1033.7 869.3,1030.2 870.1,1024.8 870.9,1022.5 871.8,1028.9 872.6,1046.9 873.4,1075.5 874.3,1108.7 875.1,1137.4 875.9,1151.2 876.8,1142.6 877.6,1109.3 878.4,1056.3 879.3,994.9 880.1,940.8 880.9,909.5 881.8,911.9 882.6,951.0 883.4,1020.0 884.3,1103.4 885.1,1180.9 885.9,1232.0 886.8,1242.1 887.6,1206.5 888.4,1131.9 889.3,1035.6 890.1,941.1 890.9,872.2 891.8,846.7 892.6,871.7 893.4,941.7 894.3,1039.8 895.1,1141.7 895.9,1222.4 896.8,1262.1 897.6,1251.6 898.4,1194.3 899.3,1105.1 900.1,1006.8 900.9,923.5 901.8,874.9 902.6,871.2 903.4,911.2 904.3,982.7 905.1,1066.6 905.9,1141.9 906.8,1191.1 907.6,1204.7 908.4,1182.6 909.3,1133.9 910.1,1073.0 910.9,1015.9 911.8,975.9 912.6,959.8 913.4,967.5 914.3,992.7 915.1,1025.6 915.9,1056.4 916.8,1078.0 917.6,1087.7 918.4,1087.5 919.3,1082.4 920.1,1077.9 920.9,1077.6 921.8,1081.7 922.6,1087.0 923.4,1088.1 924.3,1079.9 925.1,1059.9 925.9,1030.0 926.8,996.8 927.6,970.0 928.4,959.5 929.3,972.3 930.1,1009.4 930.9,1064.8 931.8,1126.1 932.6,1177.4 933.4,1203.7 934.3,1195.0 935.1,1150.2 935.9,1077.5 936.8,993.6 937.6,919.2 938.4,874.2 939.3,871.7 940.1,914.7 940.9,994.4 941.8,1092.1 942.6,1183.8 943.4,1246.5 944.3,1263.7 945.1,1230.4 945.9,1154.2 946.8,1053.6 947.6,953.6 948.4,878.6 949.3,847.0 950.1,866.0 950.9,930.1 951.8,1022.4 952.6,1119.9 953.4,1198.5 954.3,1240.0 955.1,1235.9 955.9,1189.6 956.8,1114.5 957.6,1030.6 958.4,958.7 959.3,915.0 960.1,907.7 960.9,935.0 961.8,987.0 962.6,1048.3 963.4,1103.3 964.3,1139.6 965.1,1151.5 965.9,1140.3 966.8,1113.0 967.6,1079.8 968.4,1050.2 969.3,1030.6 970.1,1022.8 970.9,1024.1 971.8,1029.5 972.6,1033.5 973.4,1033.0 974.3,1028.4 975.1,1023.4 975.9,1023.5 976.8,1033.6 977.6,1055.5 978.4,1086.5 979.3,1119.4 980.1,1144.2 980.9,1151.1 981.8,1134.1 982.6,1093.3 983.4,1035.8 984.3,975.1 985.1,927.0 985.9,906.2 986.8,921.1 987.6,971.5 988.4,1047.4 989.3,1131.2 990.1,1201.9 990.9,1240.4 991.8,1235.1 992.6,1185.0 993.4,1100.8 994.3,1002.4 995.1,914.0 995.9,858.2 996.8,849.4 997.6,890.8 998.4,972.7 999.3,1074.9 1000.1,1172.4 1000.9,1241.1 1001.8,1264.3 1002.6,1237.0 1003.4,1166.8 1004.3,1071.9 1005.1,976.0 1005.9,902.5 1006.8,868.4 1007.6,880.2 1008.4,932.5 1009.3,1010.6 1010.1,1093.9 1010.9,1162.0 1011.8,1199.8 1012.6,1201.0 1013.4,1168.6 1014.3,1113.9 1015.1,1052.6 1015.9,1000.1 1016.8,967.6 1017.6,959.9 1018.4,974.4 1019.3,1003.4 1020.1,1036.7 1020.9,1064.9 1021.8,1082.5 1022.6,1088.5 1023.4,1086.1 1024.3,1080.6 1025.1,1077.2 1025.9,1078.6 1026.8,1083.6 1027.6,1088.1 1028.4,1086.6 1029.3,1074.5 1030.1,1050.7 1030.9,1018.8 1031.8,986.6 1032.6,964.2 1033.4,961.0 1034.3,982.2 1035.1,1026.5 1035.9,1085.6 1036.8,1145.3 1037.6,1189.7 1038.4,1204.9 1039.3,1183.8 1040.1,1128.2 1040.9,1049.5 1041.8,966.4 1042.6,899.9 1043.4,868.2 1044.3,881.3 1045.1,938.2 1045.9,1026.4 1046.8,1124.8 1047.6,1209.2 1048.4,1257.9 1049.3,1258.0 1050.1,1208.8 1050.9,1121.9 1051.8,1018.6 1052.6,924.5 1053.4,862.6 1054.3,847.8 1055.1,883.2 1055.9,959.0 1056.8,1055.9 1057.6,1149.5 1058.4,1217.3 1059.3,1243.8 1060.1,1224.6 1060.9,1166.6 1061.8,1086.2 1062.6,1004.1 1063.4,940.2 1064.3,908.4 1065.1,913.4 1065.9,950.5 1066.8,1007.4 1067.6,1068.2 1068.4,1118.0 1069.3,1146.4 1070.1,1150.0 1070.9,1132.4 1071.8,1102.0 1072.6,1069.0 1073.4,1042.3 1074.3,1026.7 1075.1,1022.4 1075.9,1025.8 1076.8,1031.2 1077.6,1033.9 1078.4,1031.8 1079.3,1026.5 1080.1,1022.5 1080.9,1025.6 1081.8,1039.7 1082.6,1065.2 1083.4,1097.8 1084.3,1129.2 1085.1,1148.9 1085.9,1148.2 1086.8,1122.8 1087.6,1075.2 1088.4,1015.0 1089.3,956.7 1090.1,916.4 1090.9,907.0 1091.8,934.4 1092.6,994.9 1093.4,1075.7 1094.3,1157.5 1095.1,1219.2 1095.9,1243.8 1096.8,1223.0 1097.6,1159.7 1098.4,1068.1 1099.3,970.3 1100.1,890.7 1100.9,849.5 1101.8,858.0 1102.6,914.7 1103.4,1006.0 1104.3,1109.5 1105.1,1199.7 1105.9,1254.5 1106.8,1260.6 1107.6,1217.5 1108.4,1136.5 1109.3,1038.5 1110.1,947.8 1110.9,886.1 1111.8,867.3 1112.6,893.8 1113.4,956.9 1114.3,1039.1 1115.1,1119.4 1115.9,1178.6 1116.8,1204.4 1117.6,1193.4 1118.4,1152.0 1119.3,1093.2 1120.1,1033.3 1120.9,986.6 1121.8,962.3 1122.6,962.6 1123.4,983.1 1124.3,1014.6 1125.1,1047.1 1125.9,1072.2 1126.8,1085.8 1127.6,1088.4 1128.4,1084.3 1129.3,1079.0 1130.1,1077.1 1130.9,1080.0 1131.8,1085.4 1132.6,1088.6 1133.4,1083.9 1134.3,1067.8 1135.1,1040.6 1135.9,1007.5 1136.8,977.4 1137.6,960.6 1138.4,965.3 1139.3,994.8 1140.1,1045.4 1140.9,1106.4 1141.8,1162.7 1142.6,1198.6 1143.4,1202.0 1144.3,1168.5 1145.1,1103.5 1145.9,1021.0 1146.8,941.2 1147.6,884.7 1148.4,867.4 1149.3,895.9 1150.1,965.3 1150.9,1059.5 1151.8,1156.0 1152.6,1230.4 1153.4,1263.6 1154.2,1246.6 1155.1,1182.9 1155.9,1087.8 1156.7,984.7 1157.6,899.1 1158.4,851.9 1159.2,854.3 1160.1,905.0 1160.9,990.4 1161.7,1088.9 1162.6,1176.1 1163.4,1231.3 1164.2,1242.3 1165.1,1208.7 1165.9,1141.1 1166.7,1057.7 1167.6,979.8 1168.4,925.5 1169.2,906.0 1170.1,922.7 1170.9,968.1 1171.7,1028.2 1172.6,1086.8 1173.4,1130.2 1174.2,1150.3 1175.1,1146.2 1175.9,1123.1 1176.7,1090.7 1177.6,1059.0 1178.4,1035.7 1179.2,1024.1 1180.1,1023.0 1180.9,1027.7 1181.7,1032.6 1182.6,1033.7 1183.4,1030.2 1184.2,1024.7 1185.1,1022.5 1185.9,1029.0 1186.7,1047.1 1187.6,1075.8 1188.4,1109.0 1189.2,1137.6 1190.1,1151.3 1190.9,1142.4 1191.7,1108.9 1192.6,1055.8 1193.4,994.4 1194.2,940.4 1195.1,909.3 1195.9,912.1 1196.7,951.5 1197.6,1020.7 1198.4,1104.2 1199.2,1181.5 1200.1,1232.3 1200.9,1242.0 1201.7,1205.9 1202.6,1131.1 1203.4,1034.7 1204.2,940.4 1205.1,871.8 1205.9,846.6 1206.7,872.1 1207.6,942.5 1208.4,1040.7 1209.2,1142.6 1210.1,1223.0 1210.9,1262.3 1211.7,1251.3 1212.6,1193.6 1213.4,1104.3 1214.2,1006.0 1215.1,922.9 1215.9,874.6 1216.7,871.4 1217.6,911.7 1218.4,983.4 1219.2,1067.3 1220.1,1142.4 1220.9,1191.4 1221.7,1204.6 1222.6,1182.3 1223.4,1133.4 1224.2,1072.4 1225.1,1015.5 1225.9,975.6 1226.7,959.7 1227.6,967.6 1228.4,993.0 1229.2,1025.9 1230.1,1056.7 1230.9,1078.1 1231.7,1087.7 1232.6,1087.5 1233.4,1082.4 1234.2,1077.9 1235.1,1077.6 1235.9,1081.7 1236.7,1087.0 1237.6,1088.1 1238.4,1079.8 1239.2,1059.7 1240.1,1029.8 1240.9,996.6 1241.7,969.8 1242.6,959.5 1243.4,972.5 1244.2,1009.9 1245.1,1065.4 1245.9,1126.7 1246.7,1177.8 1247.6,1203.8 1248.4,1194.8 1249.2,1149.6 1250.1,1076.8 1250.9,992.8 1251.7,918.6 1252.6,873.9 1253.4,871.9 1254.2,915.3 1255.1,995.2 1255.9,1093.0 1256.7,1184.5 1257.6,1246.8 1258.4,1263.6 1259.2,1229.9 1260.1,1153.4 1260.9,1052.7 1261.7,952.8 1262.6,878.1 1263.4,847.0 1264.2,866.4 1265.1,930.8 1265.9,1023.3 1266.7,1120.7 1267.6,1199.1 1268.4,1240.2 1269.2,1235.7 1270.1,1189.0 1270.9,1113.8 1271.7,1029.9 1272.6,958.1 1273.4,914.8 1274.2,907.8 1275.1,935.4 1275.9,987.5 1276.7,1048.8 1277.6,1103.7 1278.4,1139.8 1279.2,1151.5 1280.1,1140.1 1280.9,1112.7 1281.7,1079.5 1282.6,1049.9 1283.4,1030.4 1284.2,1022.7 1285.1,1024.2 1285.9,1029.6 1286.7,1033.5 1287.6,1033.0 1288.4,1028.3 1289.2,1023.3 1290.1,1023.5 1290.9,1033.7 1291.7,1055.8 1292.6,1086.8 1293.4,1119.7 1294.2,1144.3 1295.1,1151.0 1295.9,1133.8 1296.7,1092.8 1297.6,1035.3 1298.4,974.6 1299.2,926.7 1300.1,906.1 1300.9,921.4 1301.7,972.0 1302.6,1048.1 1303.4,1131.9 1304.2,1202.4 1305.1,1240.6 1305.9,1234.9 1306.7,1184.4 1307.6,1100.0 1308.4,1001.5 1309.2,913.4 1310.1,857.9 1310.9,849.6 1311.7,891.4 1312.6,973.5 1313.4,1075.9 1314.2,1173.2 1315.1,1241.5 1315.9,1264.3 1316.7,1236.6 1317.6,1166.0 1318.4,1071.0 1319.2,975.2 1320.1,902.0 1320.9,868.4 1321.7,880.5 1322.6,933.2 1323.4,1011.3 1324.2,1094.6 1325.1,1162.5 1325.9,1200.0 1326.7,1200.8 1327.6,1168.2 1328.4,1113.4 1329.2,1052.1 1330.1,999.7 1330.9,967.5 1331.7,959.9 1332.6,974.6 1333.4,1003.7 1334.2,1037.0 1335.1,1065.2 1335.9,1082.7 1336.7,1088.5 1337.6,1086.0 1338.4,1080.6 1339.2,1077.2 1340.1,1078.6 1340.9,1083.6 1341.7,1088.2 1342.6,1086.6 1343.4,1074.4 1344.2,1050.5 1345.1,1018.5 1345.9,986.3 1346.7,964.1 1347.6,961.1 1348.4,982.5 1349.2,1027.0 1350.1,1086.1 1350.9,1145.8 1351.7,1190.0 1352.6,1204.9 1353.4,1183.4 1354.2,1127.5 1355.1,1048.8 1355.9,965.7 1356.7,899.5 1357.6,868.1 1358.4,881.6 1359.2,938.9 1360.1,1027.2 1360.9,1125.7 1361.7,1209.8 1362.6,1258.1 1363.4,1257.8 1364.2,1208.2 1365.1,1121.0 1365.9,1017.7 1366.7,923.7 1367.6,862.2 1368.4,847.9 1369.2,883.7 1370.1,959.8 1370.9,1056.8 1371.7,1150.2 1372.6,1217.7 1373.4,1243.8 1374.2,1224.2 1375.1,1166.0 1375.9,1085.4 1376.7,1003.5 1377.6,939.8 1378.4,908.3 1379.2,913.6 1380.1,950.9 1380.9,1007.9 1381.7,1068.7 1382.6,1118.3 1383.4,1146.5 1384.2,1150.0 1385.1,1132.2 1385.9,1101.7 1386.7,1068.7 1387.6,1042.1 1388.4,1026.6 1389.2,1022.4 1390.1,1025.8 1390.9,1031.3 1391.7,1033.9 1392.6,1031.7 1393.4,1026.4 1394.2,1022.5 1395.1,1025.7 1395.9,1039.9 1396.7,1065.5 1397.6,1098.1 1398.4,1129.4 1399.2,1149.0 1400.1,1148.1 1400.9,1122.5 1401.7,1074.7 1402.6,1014.5 1403.4,956.3 1404.2,916.2 1405.1,907.1 1405.9,934.8 1406.7,995.5 1407.6,1076.5 1408.4,1158.1 1409.2,1219.6 1410.1,1243.9 1410.9,1222.6 1411.7,1159.0 1412.6,1067.3 1413.4,969.5 1414.2,890.1 1415.1,849.4 1415.9,858.3 1416.7,915.3 1417.6,1006.9 1418.4,1110.4 1419.2,1200.4 1420.1,1254.7 1420.9,1260.5 1421.7,1216.9 1422.6,1135.7 1423.4,1037.6 1424.2,947.1 1425.1,885.8 1425.9,867.3 1426.7,894.2 1427.6,957.6 1428.4,1039.8 1429.2,1120.0 1430.1,1179.0 1430.9,1204.4 1431.7,1193.1 1432.6,1151.5 1433.4,1092.7 1434.2,1032.8 1435.1,986.2 1435.9,962.2 1436.7,962.7 1437.6,983.3 1438.4,1014.9 1439.2,1047.4 1440.1,1072.4 1440.9,1085.8 1441.7,1088.4 1442.6,1084.2 1443.4,1079.0 1444.2,1077.1 1445.1,1080.0 1445.9,1085.5 1446.7,1088.6 1447.6,1083.8 1448.4,1067.6 1449.2,1040.3 1450.1,1007.2 1450.9,977.2 1451.7,960.6 1452.6,965.5 1453.4,995.2 1454.2,1045.9 1455.1,1106.9 1455.9,1163.2 1456.7,1198.8 1457.6,1201.9 1458.4,1168.1 1459.2,1102.8 1460.1,1020.3 1460.9,940.6 1461.7,884.3 1462.6,867.5 1463.4,896.4 1464.2,966.0 1465.1,1060.4 1465.9,1156.7 1466.7,1230.9 1467.6,1263.7 1468.4,1246.3 1469.2,1182.1 1470.1,1086.9 1470.9,983.8 1471.7,898.5 1472.6,851.7 1473.4,854.6 1474.2,905.6 1475.1,991.3 1475.9,1089.8 1476.7,1176.8 1477.6,1231.6 1478.4,1242.2 1479.2,1208.3 1480.1,1140.4 1480.9,1057.0 1481.7,979.1 1482.6,925.2 1483.4,906.0 1484.2,923.0 1485.0,968.6 1485.9,1028.7 1486.7,1087.3 1487.5,1130.5 1488.4,1150.4 1489.2,1146.0 1490.0,1122.9 1490.9,1090.4 1491.7,1058.7 1492.5,1035.5 1493.4,1024.1 1494.2,1023.0 1495.0,1027.7 1495.9,1032.6 1496.7,1033.7 1497.5,1030.1 1498.4,1024.7 1499.2,1022.5 1500.0,1029.1 1500.9,1047.3 1501.7,1076.0 1502.5,1109.3 1503.4,1137.8 1504.2,1151.3 1505.0,1142.2 1505.9,1108.5 1506.7,1055.2 1507.5,993.9 1508.4,940.0 1509.2,909.2 1510.0,912.3 1510.9,952.0 1511.7,1021.4 1512.5,1104.9 1513.4,1182.1 1514.2,1232.6 1515.0,1241.9 1515.9,1205.4 1516.7,1130.3 1517.5,1033.8 1518.4,939.6 1519.2,871.3 1520.0,846.7 1520.9,872.5 1521.7,943.3 1522.5,1041.6 1523.4,1143.4 1524.2,1223.5 1525.0,1262.4 1525.9,1251.0 1526.7,1192.9 1527.5,1103.4 1528.4,1005.1 1529.2,922.3 1530.0,874.4 1530.9,871.6 1531.7,912.2 1532.5,984.1 1533.4,1068.1 1534.2,1143.0 1535.0,1191.7 1535.9,1204.6 1536.7,1182.0 1537.5,1132.8 1538.4,1071.9 1539.2,1015.1 1540.0,975.4 1540.9,959.7 1541.7,967.8 1542.5,993.2 1543.4,1026.2 1544.2,1056.9 1545.0,1078.3 1545.9,1087.8 1546.7,1087.5 1547.5,1082.3 1548.4,1077.8 1549.2,1077.6 1550.0,1081.8 1550.9,1087.1 1551.7,1088.1 1552.5,1079.7 1553.4,1059.5 1554.2,1029.5 1555.0,996.3 1555.9,969.6 1556.7,959.5 1557.5,972.8 1558.4,1010.3 1559.2,1065.9 1560.0,1127.2 1560.9,1178.2 1561.7,1203.9 1562.5,1194.6 1563.4,1149.1 1564.2,1076.1 1565.0,992.1 1565.9,918.1 1566.7,873.7 1567.5,872.1 1568.4,915.9 1569.2,996.0 1570.0,1093.8 1570.9,1185.3 1571.7,1247.2 1572.5,1263.5 1573.4,1229.4 1574.2,1152.5 1575.0,1051.8 1575.9,952.0 1576.7,877.6 1577.5,846.9 1578.4,866.8 1579.2,931.5 1580.0,1024.2 1580.9,1121.5 1581.7,1199.6 1582.5,1240.3 1583.4,1235.4 1584.2,1188.4 1585.0,1113.0 1585.9,1029.2 1586.7,957.6 1587.5,914.6 1588.4,907.9 1589.2,935.8 1590.0,988.0 1590.9,1049.4 1591.7,1104.1 1592.5,1140.0 1593.4,1151.5 1594.2,1139.9 1595.0,1112.5 1595.9,1079.2 1596.7,1049.7 1597.5,1030.3 1598.4,1022.7 1599.2,1024.2 1600.0,1029.6 1600.9,1033.5 1601.7,1033.0 1602.5,1028.3 1603.4,1023.3 1604.2,1023.5 1605.0,1033.9 1605.9,1056.0 1606.7,1087.1 1607.5,1119.9 1608.4,1144.5 1609.2,1151.0 1610.0,1133.6 1610.9,1092.3 1611.7,1034.8 1612.5,974.1 1613.4,926.4 1614.2,906.1 1615.0,921.7 1615.9,972.6 1616.7,1048.8 1617.5,1132.6 1618.4,1202.9 1619.2,1240.8 1620.0,1234.6 1620.9,1183.8 1621.7,1099.1 1622.5,1000.7 1623.4,912.7 1624.2,857.6 1625.0,849.7 1625.9,892.0 1626.7,974.4 1627.5,1076.8 1628.4,1173.9 1629.2,1241.9 1630.0,1264.3 1630.9,1236.1 1631.7,1165.3 1632.5,1070.1 1633.4,974.4 1634.2,901.6 1635.0,868.3 1635.9,880.8 1636.7,933.8 1637.5,1012.1 1638.4,1095.3 1639.2,1163.0 1640.0,1200.2 1640.9,1200.7 1641.7,1167.8 1642.5,1112.8 1643.4,1051.6 1644.2,999.3 1645.0,967.3 1645.9,960.0 1646.7,974.9 1647.5,1004.0 1648.4,1037.2 1649.2,1065.4 1650.0,1082.8 1650.9,1088.5 1651.7,1086.0 1652.5,1080.5 1653.4,1077.2 1654.2,1078.6 1655.0,1083.7 1655.9,1088.2 1656.7,1086.5 1657.5,1074.2 1658.4,1050.2 1659.2,1018.2 1660.0,986.1 1660.9,964.0 1661.7,961.2 1662.5,982.8 1663.4,1027.5 1664.2,1086.7 1665.0,1146.3 1665.9,1190.3 1666.7,1204.9 1667.5,1183.1 1668.4,1126.9 1669.2,1048.0 1670.0,965.0 1670.9,899.0 1671.7,868.0 1672.5,882.0 1673.4,939.5 1674.2,1028.1 1675.0,1126.5 1675.9,1210.4 1676.7,1258.3 1677.5,1257.5 1678.4,1207.5 1679.2,1120.2 1680.0,1016.8 1680.9,923.0 1681.7,861.9 1682.5,848.0 1683.4,884.2 1684.2,960.6 1685.0,1057.6 1685.9,1151.0 1686.7,1218.1 1687.5,1243.8 1688.4,1223.8 1689.2,1165.3 1690.0,1084.7 1690.9,1002.8 1691.7,939.4 1692.5,908.1 1693.4,913.8 1694.2,951.3 1695.0,1008.5 1695.9,1069.2 1696.7,1118.7 1697.5,1146.7 1698.4,1149.9 1699.2,1132.0 1700.0,1101.4 1700.9,1068.5 1701.7,1041.9 1702.5,1026.5 1703.4,1022.4 1704.2,1025.9 1705.0,1031.3 1705.9,1033.9 1706.7,1031.7 1707.5,1026.4 1708.4,1022.5 1709.2,1025.7 1710.0,1040.0 1710.9,1065.8 1711.7,1098.4 1712.5,1129.6 1713.4,1149.1 1714.2,1147.9 1715.0,1122.1 1715.9,1074.2 1716.7,1013.9 1717.5,955.8 1718.4,915.9 1719.2,907.2 1720.0,935.2 1720.9,996.2 1721.7,1077.2 1722.5,1158.8 1723.4,1220.0 1724.2,1243.9 1725.0,1222.2 1725.9,1158.3 1726.7,1066.4 1727.5,968.7 1728.4,889.6 1729.2,849.2 1730.0,858.6 1730.9,916.0 1731.7,1007.8 1732.5,1111.3 1733.4,1201.1 1734.2,1255.0 1735.0,1260.3 1735.9,1216.3 1736.7,1134.9 1737.5,1036.7 1738.4,946.4 1739.2,885.4 1740.0,867.4 1740.9,894.7 1741.7,958.2 1742.5,1040.6 1743.4,1120.6 1744.2,1179.4 1745.0,1204.5 1745.9,1192.9 1746.7,1151.0 1747.5,1092.1 1748.4,1032.3 1749.2,985.9 1750.0,962.1 1750.9,962.8 1751.7,983.6 1752.5,1015.2 1753.4,1047.6 1754.2,1072.5 1755.0,1085.9 1755.9,1088.4 1756.7,1084.2 1757.5,1079.0 1758.4,1077.1 1759.2,1080.1 1760.0,1085.5 1760.9,1088.6 1761.7,1083.7 1762.5,1067.4 1763.4,1040.0 1764.2,1006.9 1765.0,977.0 1765.9,960.5 1766.7,965.6 1767.5,995.6 1768.4,1046.4 1769.2,1107.5 1770.0,1163.6 1770.9,1199.0 1771.7,1201.7 1772.5,1167.6 1773.4,1102.1 1774.2,1019.5 1775.0,939.9 1775.9,884.0 1776.7,867.5 1777.5,896.9 1778.4,966.8 1779.2,1061.3 1780.0,1157.5 1780.9,1231.4 1781.7,1263.8 1782.5,1245.9 1783.4,1181.4 1784.2,1085.9 1785.0,983.0 1785.9,897.9 1786.7,851.5 1787.5,854.8 1788.4,906.2 1789.2,992.1 1790.0,1090.7 1790.9,1177.4 1791.7,1231.9 1792.5,1242.1 1793.4,1207.8 1794.2,1139.7 1795.0,1056.2 1795.9,978.5 1796.7,924.8 1797.5,906.0 1798.4,923.3 1799.2,969.1 1800.0,1029.3 1800.9,1087.8 1801.7,1130.8 1802.5,1150.5 1803.4,1145.9 1804.2,1122.6 1805.0,1090.1 1805.9,1058.5 1806.7,1035.4 1807.5,1024.0 1808.4,1023.0 1809.2,1027.8 1810.0,1032.7 1810.9,1033.7 1811.7,1030.1 1812.5,1024.6 1813.4,1022.5 1814.2,1029.2 1815.0,1047.5 1815.9,1076.3 1816.7,1109.6 1817.5,1138.0 1818.3,1151.3 1819.2,1142.0 1820.0,1108.1 1820.8,1054.7 1821.7,993.3 1822.5,939.6 1823.3,909.1 1824.2,912.5 1825.0,952.5 1825.8,1022.1 1826.7,1105.6 1827.5,1182.7 1828.3,1232.8 1829.2,1241.8 1830.0,1204.9 1830.8,1129.5 1831.7,1033.0 1832.5,938.9 1833.3,870.9 1834.2,846.7 1835.0,873.0 1835.8,944.0 1836.7,1042.6 1837.5,1144.3 1838.3,1224.1 1839.2,1262.5 1840.0,1250.6 1840.8,1192.2 1841.7,1102.5 1842.5,1004.3 1843.3,921.7 1844.2,874.2 1845.0,871.7 1845.8,912.7 1846.7,984.9 1847.5,1068.8 1848.3,1143.6 1849.2,1191.9 1850.0,1204.5 1850.8,1181.6 1851.7,1132.3 1852.5,1071.3 1853.3,1014.6 1854.2,975.1 1855.0,959.7 1855.8,968.0 1856.7,993.5 1857.5,1026.5 1858.3,1057.2 1859.2,1078.4 1860.0,1087.8 1860.8,1087.4 1861.7,1082.3 1862.5,1077.8 1863.3,1077.6 1864.2,1081.8 1865.0,1087.1 1865.8,1088.1 1866.7,1079.6 1867.5,1059.2 1868.3,1029.2 1869.2,996.0 1870.0,969.5 1870.8,959.5 1871.7,973.0 1872.5,1010.7 1873.3,1066.5 1874.2,1127.7 1875.0,1178.5 1875.8,1203.9 1876.7,1194.3 1877.5,1148.6 1878.3,1075.3 1879.2,991.4 1880.0,917.5 1880.8,873.5 1881.7,872.3 1882.5,916.4 1883.3,996.9 1884.2,1094.7 1885.0,1186.0 1885.8,1247.6 1886.7,1263.5 1887.5,1228.8 1888.3,1151.7 1889.2,1050.9 1890.0,951.1 1890.8,877.2 1891.7,846.9 1892.5,867.2 1893.3,932.2 1894.2,1025.1 1895.0,1122.3 1895.8,1200.2 1896.7,1240.5 1897.5,1235.2 1898.3,1187.9 1899.2,1112.3 1900.0,1028.4 1900.8,957.1 1901.7,914.3 1902.5,908.0 1903.3,936.2 1904.2,988.6 1905.0,1049.9 1905.8,1104.5 1906.7,1140.2 1907.5,1151.5 1908.3,1139.7 1909.2,1112.2 1910.0,1078.9 1910.8,1049.5 1911.7,1030.2 1912.5,1022.7 1913.3,1024.3 1914.2,1029.7 1915.0,1033.6 1915.8,1032.9 1916.7,1028.2 1917.5,1023.3 1918.3,1023.6 1919.2,1034.0 1920.0,1056.3 1920.8,1087.4 1921.7,1120.2 1922.5,1144.6 1923.3,1151.0 1924.2,1133.3 1925.0,1091.9 1925.8,1034.2 1926.7,973.6 1927.5,926.1 1928.3,906.1 1929.2,922.0 1930.0,973.2 1930.8,1049.6 1931.7,1133.3 1932.5,1203.4 1933.3,1240.9 1934.2,1234.4 1935.0,1183.2 1935.8,1098.3 1936.7,999.8 1937.5,912.0 1938.3,857.3 1939.2,849.9 1940.0,892.6 1940.8,975.2 1941.7,1077.7 1942.5,1174.7 1943.3,1242.3 1944.2,1264.2 1945.0,1235.6 1945.8,1164.5 1946.7,1069.2 1947.5,973.6 1948.3,901.1 1949.2,868.2 1950.0,881.1 1950.8,934.4 1951.7,1012.8 1952.5,1095.9 1953.3,1163.4 1954.2,1200.4 1955.0,1200.5 1955.8,1167.3 1956.7,1112.3 1957.5,1051.0 1958.3,998.9 1959.2,967.1 1960.0,960.0 1960.8,975.1 1961.7,1004.3 1962.5,1037.5 1963.3,1065.6 1964.2,1082.9 1965.0,1088.5 1965.8,1085.9 1966.7,1080.5 1967.5,1077.2 1968.3,1078.7 1969.2,1083.7 1970.0,1088.2 1970.8,1086.5 1971.7,1074.0 1972.5,1050.0 1973.3,1017.9 1974.2,985.8 1975.0,963.8 1975.8,961.3 1976.7,983.1 1977.5,1028.0 1978.3,1087.2 1979.2,1146.8 1980.0,1190.5 1980.8,1204.9 1981.7,1182.7 1982.5,1126.3 1983.3,1047.3 1984.2,964.3 1985.0,898.6"/>
<text transform="translate(289.0,158.0) scale(1,1.020)" font-size="76.0" text-anchor="end">4</text>
<text transform="translate(289.0,824.0) scale(1,1.020)" font-size="76.0" text-anchor="end">4</text>
<text transform="translate(289.0,285.0) scale(1,1.020)" font-size="76.0" text-anchor="end">2</text>
<text transform="translate(289.0,951.0) scale(1,1.020)" font-size="76.0" text-anchor="end">2</text>
<text transform="translate(289.0,412.0) scale(1,1.020)" font-size="76.0" text-anchor="end">0</text>
<text transform="translate(289.0,1078.0) scale(1,1.020)" font-size="76.0" text-anchor="end">0</text>
<text transform="translate(289.0,539.0) scale(1,1.020)" font-size="76.0" text-anchor="end">-2</text>
<text transform="translate(289.0,1205.0) scale(1,1.020)" font-size="76.0" text-anchor="end">-2</text>
<text transform="translate(289.0,666.0) scale(1,1.020)" font-size="76.0" text-anchor="end">-4</text>
<text transform="translate(289.0,1332.0) scale(1,1.020)" font-size="76.0" text-anchor="end">-4</text>
<text transform="translate(289.0,3009.7) scale(1,1.020)" font-size="76.0" text-anchor="end">-0.2</text>
<text transform="translate(289.0,2850.0) scale(1,1.020)" font-size="76.0" text-anchor="end">0.0</text>
<text transform="translate(289.0,2690.3) scale(1,1.020)" font-size="76.0" text-anchor="end">0.2</text>
<text transform="translate(289.0,2530.6) scale(1,1.020)" font-size="76.0" text-anchor="end">0.4</text>
<text transform="translate(289.0,2370.9) scale(1,1.020)" font-size="76.0" text-anchor="end">0.6</text>
<text transform="translate(289.0,2211.2) scale(1,1.020)" font-size="76.0" text-anchor="end">0.8</text>
<text transform="translate(289.0,2051.5) scale(1,1.020)" font-size="76.0" text-anchor="end">1.0</text>
<text transform="translate(289.0,1891.8) scale(1,1.020)" font-size="76.0" text-anchor="end">1.2</text>
<text transform="translate(289.0,1732.1) scale(1,1.020)" font-size="76.0" text-anchor="end">1.4</text>
<text transform="translate(317.7,1459.7) scale(1,1.020)" font-size="76.0" text-anchor="middle">0</text>
<text transform="translate(317.7,3139.9) scale(1,1.020)" font-size="76.0" text-anchor="middle">0</text>
<text transform="translate(651.3,1459.7) scale(1,1.020)" font-size="76.0" text-anchor="middle">20</text>
<text transform="translate(651.3,3139.9) scale(1,1.020)" font-size="76.0" text-anchor="middle">20</text>
<text transform="translate(984.9,1459.7) scale(1,1.020)" font-size="76.0" text-anchor="middle">40</text>
<text transform="translate(984.9,3139.9) scale(1,1.020)" font-size="76.0" text-anchor="middle">40</text>
<text transform="translate(1318.4,1459.7) scale(1,1.020)" font-size="76.0" text-anchor="middle">60</text>
<text transform="translate(1318.4,3139.9) scale(1,1.020)" font-size="76.0" text-anchor="middle">60</text>
<text transform="translate(1652.0,1459.7) scale(1,1.020)" font-size="76.0" text-anchor="middle">80</text>
<text transform="translate(1652.0,3139.9) scale(1,1.020)" font-size="76.0" text-anchor="middle">80</text>
<text transform="translate(1985.6,1459.7) scale(1,1.020)" font-size="76.0" text-anchor="middle">100</text>
<text transform="translate(1985.6,3139.9) scale(1,1.020)" font-size="76.0" text-anchor="middle">100</text>
<text transform="translate(1151.7,1558.6) scale(1,1.105)" font-size="94.0" text-anchor="middle">t</text>
<text transform="translate(1151.7,3238.2) scale(1,1.105)" font-size="94.0" text-anchor="middle">t</text>
<text transform="translate(374.5,141.7) scale(1.075,1.045)" font-size="95" class="b">A</text>
<text transform="translate(373.0,807.5) scale(1,1.045)" font-size="95.0" class="b">B</text>
<text transform="translate(370.0,1824.8) scale(1,1.045)" font-size="95.0" class="b">C</text>
<g transform="translate(167.7,590.7) rotate(-90)">
<text transform="translate(0.0,0.0) scale(1,1.045)" font-size="95.0">Im[</text>
<text x="131.9" y="0.0" font-size="95.0" class="sf">&#947;</text>
<text x="170.3" y="-39.5" font-size="64.0" class="sf">(1)</text>
<text transform="translate(169.5,25.9) scale(1,1.045)" font-size="65.0">G,AT</text>
<text transform="translate(321.2,0.0) scale(1,1.045)" font-size="95.0">(t)]</text>
</g>
<g transform="translate(167.7,1256.7) rotate(-90)">
<text transform="translate(0.0,0.0) scale(1,1.045)" font-size="95.0">Im[</text>
<text x="131.9" y="0.0" font-size="95.0" class="sf">&#947;</text>
<text x="170.3" y="-39.5" font-size="64.0" class="sf">(2)</text>
<text transform="translate(169.5,25.9) scale(1,1.045)" font-size="65.0">G,AT</text>
<text transform="translate(321.2,0.0) scale(1,1.045)" font-size="95.0">(t)]</text>
</g>
<g transform="translate(104.7,2607.6) rotate(-90)">
<text transform="translate(0.0,0.0) scale(1,1.045)" font-size="95.0">Re[</text>
<text x="147.8" y="0.0" font-size="95.0" class="sf">&#947;</text>
<text transform="translate(186.9,-39.6) scale(1,1.045)" font-size="65.0">(</text>
<text transform="translate(216.0,-39.6) scale(1,1.045)" font-size="65.0">j</text>
<text transform="translate(244.4,-39.6) scale(1,1.045)" font-size="65.0">)</text>
<text transform="translate(186.0,25.9) scale(1,1.045)" font-size="65.0">G,AT</text>
<text transform="translate(337.5,0.0) scale(1,1.045)" font-size="95.0">(t)]</text>
</g>
<rect x="1186.6" y="148.3" width="48.2" height="487" fill="none" stroke="#D633FF" stroke-width="6.4"/>
<rect x="1186.6" y="813" width="48.2" height="486.6" fill="none" stroke="#D633FF" stroke-width="6.4"/>
<line x1="1237.5" y1="636.5" x2="1266.7" y2="641.8" stroke="#FF8000" stroke-width="5.6"/>
<polygon fill="#FF8000" points="1308.0,649.3 1262.7,652.3 1266.7,630.6"/>
<line x1="1236.5" y1="812.5" x2="1271.6" y2="792.3" stroke="#FF8000" stroke-width="5.6"/>
<polygon fill="#FF8000" points="1308.0,771.3 1275.4,802.8 1264.4,783.7"/>
<rect x="1311.5" y="323.3" width="606.1" height="794.4" fill="#fff" stroke="#D633FF" stroke-width="6.5"/>
<clipPath id="ci"><rect x="1478.5" y="342.5" width="412.5" height="660.5"/></clipPath>
<g clip-path="url(#ci)" fill="none" stroke-width="7" stroke-linejoin="round">
<polyline stroke="#FF0000" points="1478.5,708.7 1479.2,708.4 1479.9,708.1 1480.6,707.6 1481.3,707.0 1481.9,706.4 1482.6,705.6 1483.3,704.7 1484.0,703.6 1484.7,702.5 1485.4,701.2 1486.1,699.7 1486.8,698.2 1487.4,696.5 1488.1,694.7 1488.8,692.8 1489.5,690.7 1490.2,688.5 1490.9,686.2 1491.6,683.7 1492.3,681.1 1492.9,678.5 1493.6,675.7 1494.3,672.8 1495.0,669.7 1495.7,666.6 1496.4,663.5 1497.1,660.2 1497.8,656.8 1498.4,653.4 1499.1,649.9 1499.8,646.4 1500.5,642.8 1501.2,639.2 1501.9,635.6 1502.6,631.9 1503.2,628.3 1503.9,624.7 1504.6,621.0 1505.3,617.5 1506.0,613.9 1506.7,610.4 1507.4,607.0 1508.1,603.6 1508.7,600.4 1509.4,597.2 1510.1,594.1 1510.8,591.2 1511.5,588.4 1512.2,585.7 1512.9,583.2 1513.6,580.9 1514.2,578.7 1514.9,576.7 1515.6,575.0 1516.3,573.4 1517.0,572.0 1517.7,570.9 1518.4,569.9 1519.1,569.3 1519.7,568.8 1520.4,568.6 1521.1,568.7 1521.8,569.0 1522.5,569.6 1523.2,570.5 1523.9,571.6 1524.6,573.0 1525.3,574.7 1525.9,576.6 1526.6,578.9 1527.3,581.3 1528.0,584.1 1528.7,587.2 1529.4,590.5 1530.1,594.0 1530.8,597.8 1531.4,601.9 1532.1,606.2 1532.8,610.8 1533.5,615.5 1534.2,620.5 1534.9,625.7 1535.6,631.1 1536.3,636.7 1536.9,642.5 1537.6,648.4 1538.3,654.5 1539.0,660.7 1539.7,667.0 1540.4,673.5 1541.1,680.0 1541.8,686.6 1542.4,693.2 1543.1,699.9 1543.8,706.7 1544.5,713.4 1545.2,720.1 1545.9,726.8 1546.6,733.5 1547.2,740.0 1547.9,746.5 1548.6,752.9 1549.3,759.2 1550.0,765.4 1550.7,771.4 1551.4,777.2 1552.1,782.8 1552.8,788.2 1553.4,793.5 1554.1,798.4 1554.8,803.1 1555.5,807.6 1556.2,811.7 1556.9,815.6 1557.6,819.2 1558.2,822.4 1558.9,825.3 1559.6,827.8 1560.3,830.0 1561.0,831.8 1561.7,833.3 1562.4,834.3 1563.1,835.0 1563.7,835.3 1564.4,835.2 1565.1,834.7 1565.8,833.7 1566.5,832.4 1567.2,830.6 1567.9,828.5 1568.6,825.9 1569.2,823.0 1569.9,819.6 1570.6,815.8 1571.3,811.7 1572.0,807.2 1572.7,802.3 1573.4,797.0 1574.1,791.4 1574.8,785.4 1575.4,779.1 1576.1,772.5 1576.8,765.6 1577.5,758.4 1578.2,750.9 1578.9,743.2 1579.6,735.3 1580.3,727.1 1580.9,718.7 1581.6,710.1 1582.3,701.4 1583.0,692.6 1583.7,683.6 1584.4,674.5 1585.1,665.4 1585.8,656.2 1586.4,647.0 1587.1,637.8 1587.8,628.6 1588.5,619.5 1589.2,610.4 1589.9,601.4 1590.6,592.6 1591.2,583.8 1591.9,575.3 1592.6,566.9 1593.3,558.7 1594.0,550.8 1594.7,543.1 1595.4,535.7 1596.1,528.5 1596.8,521.7 1597.4,515.3 1598.1,509.1 1598.8,503.4 1599.5,498.0 1600.2,493.0 1600.9,488.5 1601.6,484.4 1602.2,480.7 1602.9,477.5 1603.6,474.7 1604.3,472.5 1605.0,470.7 1605.7,469.4 1606.4,468.6 1607.1,468.3 1607.7,468.5 1608.4,469.2 1609.1,470.4 1609.8,472.1 1610.5,474.3 1611.2,477.1 1611.9,480.3 1612.6,484.0 1613.2,488.2 1613.9,492.9 1614.6,498.1 1615.3,503.7 1616.0,509.7 1616.7,516.2 1617.4,523.1 1618.1,530.4 1618.8,538.1 1619.4,546.1 1620.1,554.5 1620.8,563.2 1621.5,572.3 1622.2,581.6 1622.9,591.1 1623.6,600.9 1624.3,611.0 1624.9,621.2 1625.6,631.5 1626.3,642.1 1627.0,652.7 1627.7,663.4 1628.4,674.2 1629.1,685.0 1629.8,695.8 1630.4,706.6 1631.1,717.3 1631.8,728.0 1632.5,738.5 1633.2,748.9 1633.9,759.2 1634.6,769.3 1635.2,779.2 1635.9,788.8 1636.6,798.2 1637.3,807.3 1638.0,816.0 1638.7,824.5 1639.4,832.6 1640.1,840.3 1640.8,847.6 1641.4,854.5 1642.1,861.0 1642.8,867.0 1643.5,872.6 1644.2,877.6 1644.9,882.2 1645.6,886.3 1646.2,889.8 1646.9,892.9 1647.6,895.3 1648.3,897.3 1649.0,898.7 1649.7,899.5 1650.4,899.8 1651.1,899.5 1651.7,898.6 1652.4,897.2 1653.1,895.2 1653.8,892.7 1654.5,889.6 1655.2,886.0 1655.9,881.9 1656.6,877.2 1657.2,872.0 1657.9,866.4 1658.6,860.2 1659.3,853.6 1660.0,846.5 1660.7,839.0 1661.4,831.1 1662.1,822.8 1662.8,814.1 1663.4,805.0 1664.1,795.6 1664.8,785.9 1665.5,775.9 1666.2,765.7 1666.9,755.2 1667.6,744.5 1668.3,733.7 1668.9,722.7 1669.6,711.5 1670.3,700.3 1671.0,689.0 1671.7,677.6 1672.4,666.3 1673.1,654.9 1673.8,643.6 1674.4,632.4 1675.1,621.3 1675.8,610.3 1676.5,599.4 1677.2,588.8 1677.9,578.4 1678.6,568.2 1679.2,558.2 1679.9,548.6 1680.6,539.2 1681.3,530.2 1682.0,521.6 1682.7,513.3 1683.4,505.5 1684.1,498.0 1684.8,491.0 1685.4,484.5 1686.1,478.4 1686.8,472.8 1687.5,467.7 1688.2,463.2 1688.9,459.1 1689.6,455.6 1690.2,452.6 1690.9,450.2 1691.6,448.3 1692.3,447.0 1693.0,446.3 1693.7,446.1 1694.4,446.4 1695.1,447.3 1695.7,448.8 1696.4,450.8 1697.1,453.4 1697.8,456.5 1698.5,460.2 1699.2,464.3 1699.9,469.0 1700.6,474.1 1701.2,479.8 1701.9,485.9 1702.6,492.4 1703.3,499.4 1704.0,506.8 1704.7,514.6 1705.4,522.7 1706.1,531.2 1706.7,540.1 1707.4,549.2 1708.1,558.6 1708.8,568.3 1709.5,578.2 1710.2,588.3 1710.9,598.6 1711.6,609.1 1712.3,619.6 1712.9,630.3 1713.6,641.1 1714.3,651.9 1715.0,662.7 1715.7,673.5 1716.4,684.2 1717.1,694.9 1717.8,705.5 1718.4,716.0 1719.1,726.4 1719.8,736.6 1720.5,746.5 1721.2,756.3 1721.9,765.8 1722.6,775.1 1723.3,784.1 1723.9,792.7 1724.6,801.1 1725.3,809.0 1726.0,816.7 1726.7,823.9 1727.4,830.7 1728.1,837.1 1728.8,843.1 1729.4,848.6 1730.1,853.7 1730.8,858.3 1731.5,862.4 1732.2,866.1 1732.9,869.2 1733.6,871.9 1734.2,874.0 1734.9,875.7 1735.6,876.8 1736.3,877.4 1737.0,877.5 1737.7,877.1 1738.4,876.3 1739.1,874.9 1739.7,873.0 1740.4,870.6 1741.1,867.8 1741.8,864.5 1742.5,860.7 1743.2,856.6 1743.9,851.9 1744.6,846.9 1745.2,841.5 1745.9,835.6 1746.6,829.5 1747.3,822.9 1748.0,816.1 1748.7,808.9 1749.4,801.4 1750.1,793.7 1750.7,785.7 1751.4,777.5 1752.1,769.1 1752.8,760.5 1753.5,751.7 1754.2,742.9 1754.9,733.9 1755.6,724.8 1756.3,715.6 1756.9,706.4 1757.6,697.2 1758.3,688.0 1759.0,678.8 1759.7,669.7 1760.4,660.7 1761.1,651.7 1761.8,642.9 1762.4,634.2 1763.1,625.7 1763.8,617.3 1764.5,609.2 1765.2,601.3 1765.9,593.6 1766.6,586.1 1767.3,579.0 1767.9,572.1 1768.6,565.6 1769.3,559.3 1770.0,553.4 1770.7,547.9 1771.4,542.7 1772.1,537.8 1772.8,533.4 1773.4,529.3 1774.1,525.6 1774.8,522.3 1775.5,519.4 1776.2,516.9 1776.9,514.8 1777.6,513.2 1778.2,511.9 1778.9,511.0 1779.6,510.6 1780.3,510.5 1781.0,510.9 1781.7,511.6 1782.4,512.7 1783.1,514.2 1783.7,516.1 1784.4,518.4 1785.1,521.0 1785.8,523.9 1786.5,527.2 1787.2,530.8 1787.9,534.7 1788.6,539.0 1789.2,543.5 1789.9,548.2 1790.6,553.2 1791.3,558.5 1792.0,563.9 1792.7,569.6 1793.4,575.4 1794.1,581.5 1794.7,587.6 1795.4,593.9 1796.1,600.4 1796.8,606.9 1797.5,613.5 1798.2,620.1 1798.9,626.8 1799.6,633.5 1800.3,640.3 1800.9,647.0 1801.6,653.7 1802.3,660.3 1803.0,666.9 1803.7,673.4 1804.4,679.9 1805.1,686.2 1805.8,692.4 1806.4,698.4 1807.1,704.3 1807.8,710.0 1808.5,715.6 1809.2,721.0 1809.9,726.1 1810.6,731.1 1811.3,735.8 1811.9,740.3 1812.6,744.6 1813.3,748.6 1814.0,752.4 1814.7,755.9 1815.4,759.2 1816.1,762.2 1816.8,764.9 1817.4,767.3 1818.1,769.5 1818.8,771.4 1819.5,773.1 1820.2,774.4 1820.9,775.5 1821.6,776.3 1822.2,776.9 1822.9,777.1 1823.6,777.2 1824.3,776.9 1825.0,776.4 1825.7,775.7 1826.4,774.8 1827.1,773.6 1827.7,772.2 1828.4,770.6 1829.1,768.7 1829.8,766.7 1830.5,764.5 1831.2,762.2 1831.9,759.6 1832.6,756.9 1833.2,754.1 1833.9,751.1 1834.6,748.1 1835.3,744.9 1836.0,741.6 1836.7,738.2 1837.4,734.8 1838.1,731.3 1838.7,727.7 1839.4,724.1 1840.1,720.5 1840.8,716.9 1841.5,713.2 1842.2,709.6 1842.9,706.0 1843.6,702.4 1844.2,698.8 1844.9,695.3 1845.6,691.8 1846.3,688.4 1847.0,685.1 1847.7,681.8 1848.4,678.6 1849.1,675.5 1849.8,672.5 1850.4,669.7 1851.1,666.9 1851.8,664.2 1852.5,661.7 1853.2,659.2 1853.9,656.9 1854.6,654.8 1855.3,652.7 1855.9,650.8 1856.6,649.0 1857.3,647.3 1858.0,645.8 1858.7,644.4 1859.4,643.1 1860.1,642.0 1860.8,641.0 1861.4,640.1 1862.1,639.3 1862.8,638.7 1863.5,638.1 1864.2,637.7 1864.9,637.3 1865.6,637.1 1866.2,637.0 1866.9,636.9 1867.6,637.0 1868.3,637.1 1869.0,637.3 1869.7,637.5 1870.4,637.9 1871.1,638.2 1871.8,638.7 1872.4,639.1 1873.1,639.6 1873.8,640.1 1874.5,640.7 1875.2,641.2 1875.9,641.8 1876.6,642.4 1877.2,643.0 1877.9,643.6 1878.6,644.1 1879.3,644.7 1880.0,645.2 1880.7,645.7 1881.4,646.1 1882.1,646.6 1882.7,647.0 1883.4,647.3 1884.1,647.6 1884.8,647.9 1885.5,648.1 1886.2,648.2 1886.9,648.4 1887.6,648.4 1888.2,648.4 1888.9,648.4 1889.6,648.3 1890.3,648.1 1891.0,647.9"/>
<polyline stroke="#0000FF" points="1478.5,637.1 1479.2,637.4 1479.9,637.7 1480.6,638.2 1481.3,638.8 1481.9,639.4 1482.6,640.2 1483.3,641.1 1484.0,642.2 1484.7,643.3 1485.4,644.6 1486.1,646.1 1486.8,647.6 1487.4,649.3 1488.1,651.1 1488.8,653.0 1489.5,655.1 1490.2,657.3 1490.9,659.6 1491.6,662.1 1492.3,664.7 1492.9,667.3 1493.6,670.1 1494.3,673.0 1495.0,676.1 1495.7,679.2 1496.4,682.3 1497.1,685.6 1497.8,689.0 1498.4,692.4 1499.1,695.9 1499.8,699.4 1500.5,703.0 1501.2,706.6 1501.9,710.2 1502.6,713.9 1503.2,717.5 1503.9,721.1 1504.6,724.8 1505.3,728.3 1506.0,731.9 1506.7,735.4 1507.4,738.8 1508.1,742.2 1508.7,745.4 1509.4,748.6 1510.1,751.7 1510.8,754.6 1511.5,757.4 1512.2,760.1 1512.9,762.6 1513.6,764.9 1514.2,767.1 1514.9,769.1 1515.6,770.8 1516.3,772.4 1517.0,773.8 1517.7,774.9 1518.4,775.9 1519.1,776.5 1519.7,777.0 1520.4,777.2 1521.1,777.1 1521.8,776.8 1522.5,776.2 1523.2,775.3 1523.9,774.2 1524.6,772.8 1525.3,771.1 1525.9,769.2 1526.6,766.9 1527.3,764.5 1528.0,761.7 1528.7,758.6 1529.4,755.3 1530.1,751.8 1530.8,748.0 1531.4,743.9 1532.1,739.6 1532.8,735.0 1533.5,730.3 1534.2,725.3 1534.9,720.1 1535.6,714.7 1536.3,709.1 1536.9,703.3 1537.6,697.4 1538.3,691.3 1539.0,685.1 1539.7,678.8 1540.4,672.3 1541.1,665.8 1541.8,659.2 1542.4,652.6 1543.1,645.9 1543.8,639.1 1544.5,632.4 1545.2,625.7 1545.9,619.0 1546.6,612.3 1547.2,605.8 1547.9,599.3 1548.6,592.9 1549.3,586.6 1550.0,580.4 1550.7,574.4 1551.4,568.6 1552.1,563.0 1552.8,557.6 1553.4,552.3 1554.1,547.4 1554.8,542.7 1555.5,538.2 1556.2,534.1 1556.9,530.2 1557.6,526.6 1558.2,523.4 1558.9,520.5 1559.6,518.0 1560.3,515.8 1561.0,514.0 1561.7,512.5 1562.4,511.5 1563.1,510.8 1563.7,510.5 1564.4,510.6 1565.1,511.1 1565.8,512.1 1566.5,513.4 1567.2,515.2 1567.9,517.3 1568.6,519.9 1569.2,522.8 1569.9,526.2 1570.6,530.0 1571.3,534.1 1572.0,538.6 1572.7,543.5 1573.4,548.8 1574.1,554.4 1574.8,560.4 1575.4,566.7 1576.1,573.3 1576.8,580.2 1577.5,587.4 1578.2,594.9 1578.9,602.6 1579.6,610.5 1580.3,618.7 1580.9,627.1 1581.6,635.7 1582.3,644.4 1583.0,653.2 1583.7,662.2 1584.4,671.3 1585.1,680.4 1585.8,689.6 1586.4,698.8 1587.1,708.0 1587.8,717.2 1588.5,726.3 1589.2,735.4 1589.9,744.4 1590.6,753.2 1591.2,762.0 1591.9,770.5 1592.6,778.9 1593.3,787.1 1594.0,795.0 1594.7,802.7 1595.4,810.1 1596.1,817.3 1596.8,824.1 1597.4,830.5 1598.1,836.7 1598.8,842.4 1599.5,847.8 1600.2,852.8 1600.9,857.3 1601.6,861.4 1602.2,865.1 1602.9,868.3 1603.6,871.1 1604.3,873.3 1605.0,875.1 1605.7,876.4 1606.4,877.2 1607.1,877.5 1607.7,877.3 1608.4,876.6 1609.1,875.4 1609.8,873.7 1610.5,871.5 1611.2,868.7 1611.9,865.5 1612.6,861.8 1613.2,857.6 1613.9,852.9 1614.6,847.7 1615.3,842.1 1616.0,836.1 1616.7,829.6 1617.4,822.7 1618.1,815.4 1618.8,807.7 1619.4,799.7 1620.1,791.3 1620.8,782.6 1621.5,773.5 1622.2,764.2 1622.9,754.7 1623.6,744.9 1624.3,734.8 1624.9,724.6 1625.6,714.3 1626.3,703.7 1627.0,693.1 1627.7,682.4 1628.4,671.6 1629.1,660.8 1629.8,650.0 1630.4,639.2 1631.1,628.5 1631.8,617.8 1632.5,607.3 1633.2,596.9 1633.9,586.6 1634.6,576.5 1635.2,566.6 1635.9,557.0 1636.6,547.6 1637.3,538.5 1638.0,529.8 1638.7,521.3 1639.4,513.2 1640.1,505.5 1640.8,498.2 1641.4,491.3 1642.1,484.8 1642.8,478.8 1643.5,473.2 1644.2,468.2 1644.9,463.6 1645.6,459.5 1646.2,456.0 1646.9,452.9 1647.6,450.5 1648.3,448.5 1649.0,447.1 1649.7,446.3 1650.4,446.0 1651.1,446.3 1651.7,447.2 1652.4,448.6 1653.1,450.6 1653.8,453.1 1654.5,456.2 1655.2,459.8 1655.9,463.9 1656.6,468.6 1657.2,473.8 1657.9,479.4 1658.6,485.6 1659.3,492.2 1660.0,499.3 1660.7,506.8 1661.4,514.7 1662.1,523.0 1662.8,531.7 1663.4,540.8 1664.1,550.2 1664.8,559.9 1665.5,569.9 1666.2,580.1 1666.9,590.6 1667.6,601.3 1668.3,612.1 1668.9,623.1 1669.6,634.3 1670.3,645.5 1671.0,656.8 1671.7,668.2 1672.4,679.5 1673.1,690.9 1673.8,702.2 1674.4,713.4 1675.1,724.5 1675.8,735.5 1676.5,746.4 1677.2,757.0 1677.9,767.4 1678.6,777.6 1679.2,787.6 1679.9,797.2 1680.6,806.6 1681.3,815.6 1682.0,824.2 1682.7,832.5 1683.4,840.3 1684.1,847.8 1684.8,854.8 1685.4,861.3 1686.1,867.4 1686.8,873.0 1687.5,878.1 1688.2,882.6 1688.9,886.7 1689.6,890.2 1690.2,893.2 1690.9,895.6 1691.6,897.5 1692.3,898.8 1693.0,899.5 1693.7,899.7 1694.4,899.4 1695.1,898.5 1695.7,897.0 1696.4,895.0 1697.1,892.4 1697.8,889.3 1698.5,885.6 1699.2,881.5 1699.9,876.8 1700.6,871.7 1701.2,866.0 1701.9,859.9 1702.6,853.4 1703.3,846.4 1704.0,839.0 1704.7,831.2 1705.4,823.1 1706.1,814.6 1706.7,805.7 1707.4,796.6 1708.1,787.2 1708.8,777.5 1709.5,767.6 1710.2,757.5 1710.9,747.2 1711.6,736.7 1712.3,726.2 1712.9,715.5 1713.6,704.7 1714.3,693.9 1715.0,683.1 1715.7,672.3 1716.4,661.6 1717.1,650.9 1717.8,640.3 1718.4,629.8 1719.1,619.4 1719.8,609.2 1720.5,599.3 1721.2,589.5 1721.9,580.0 1722.6,570.7 1723.3,561.7 1723.9,553.1 1724.6,544.7 1725.3,536.8 1726.0,529.1 1726.7,521.9 1727.4,515.1 1728.1,508.7 1728.8,502.7 1729.4,497.2 1730.1,492.1 1730.8,487.5 1731.5,483.4 1732.2,479.7 1732.9,476.6 1733.6,473.9 1734.2,471.8 1734.9,470.1 1735.6,469.0 1736.3,468.4 1737.0,468.3 1737.7,468.7 1738.4,469.5 1739.1,470.9 1739.7,472.8 1740.4,475.2 1741.1,478.0 1741.8,481.3 1742.5,485.1 1743.2,489.2 1743.9,493.9 1744.6,498.9 1745.2,504.3 1745.9,510.2 1746.6,516.3 1747.3,522.9 1748.0,529.7 1748.7,536.9 1749.4,544.4 1750.1,552.1 1750.7,560.1 1751.4,568.3 1752.1,576.7 1752.8,585.3 1753.5,594.1 1754.2,602.9 1754.9,611.9 1755.6,621.0 1756.3,630.2 1756.9,639.4 1757.6,648.6 1758.3,657.8 1759.0,667.0 1759.7,676.1 1760.4,685.1 1761.1,694.1 1761.8,702.9 1762.4,711.6 1763.1,720.1 1763.8,728.5 1764.5,736.6 1765.2,744.5 1765.9,752.2 1766.6,759.7 1767.3,766.8 1767.9,773.7 1768.6,780.2 1769.3,786.5 1770.0,792.4 1770.7,797.9 1771.4,803.1 1772.1,808.0 1772.8,812.4 1773.4,816.5 1774.1,820.2 1774.8,823.5 1775.5,826.4 1776.2,828.9 1776.9,831.0 1777.6,832.6 1778.2,833.9 1778.9,834.8 1779.6,835.2 1780.3,835.3 1781.0,834.9 1781.7,834.2 1782.4,833.1 1783.1,831.6 1783.7,829.7 1784.4,827.4 1785.1,824.8 1785.8,821.9 1786.5,818.6 1787.2,815.0 1787.9,811.1 1788.6,806.8 1789.2,802.3 1789.9,797.6 1790.6,792.6 1791.3,787.3 1792.0,781.9 1792.7,776.2 1793.4,770.4 1794.1,764.3 1794.7,758.2 1795.4,751.9 1796.1,745.4 1796.8,738.9 1797.5,732.3 1798.2,725.7 1798.9,719.0 1799.6,712.3 1800.3,705.5 1800.9,698.8 1801.6,692.1 1802.3,685.5 1803.0,678.9 1803.7,672.4 1804.4,665.9 1805.1,659.6 1805.8,653.4 1806.4,647.4 1807.1,641.5 1807.8,635.8 1808.5,630.2 1809.2,624.8 1809.9,619.7 1810.6,614.7 1811.3,610.0 1811.9,605.5 1812.6,601.2 1813.3,597.2 1814.0,593.4 1814.7,589.9 1815.4,586.6 1816.1,583.6 1816.8,580.9 1817.4,578.5 1818.1,576.3 1818.8,574.4 1819.5,572.7 1820.2,571.4 1820.9,570.3 1821.6,569.5 1822.2,568.9 1822.9,568.7 1823.6,568.6 1824.3,568.9 1825.0,569.4 1825.7,570.1 1826.4,571.0 1827.1,572.2 1827.7,573.6 1828.4,575.2 1829.1,577.1 1829.8,579.1 1830.5,581.3 1831.2,583.6 1831.9,586.2 1832.6,588.9 1833.2,591.7 1833.9,594.7 1834.6,597.7 1835.3,600.9 1836.0,604.2 1836.7,607.6 1837.4,611.0 1838.1,614.5 1838.7,618.1 1839.4,621.7 1840.1,625.3 1840.8,628.9 1841.5,632.6 1842.2,636.2 1842.9,639.8 1843.6,643.4 1844.2,647.0 1844.9,650.5 1845.6,654.0 1846.3,657.4 1847.0,660.7 1847.7,664.0 1848.4,667.2 1849.1,670.3 1849.8,673.3 1850.4,676.1 1851.1,678.9 1851.8,681.6 1852.5,684.1 1853.2,686.6 1853.9,688.9 1854.6,691.0 1855.3,693.1 1855.9,695.0 1856.6,696.8 1857.3,698.5 1858.0,700.0 1858.7,701.4 1859.4,702.7 1860.1,703.8 1860.8,704.8 1861.4,705.7 1862.1,706.5 1862.8,707.1 1863.5,707.7 1864.2,708.1 1864.9,708.5 1865.6,708.7 1866.2,708.8 1866.9,708.9 1867.6,708.8 1868.3,708.7 1869.0,708.5 1869.7,708.3 1870.4,707.9 1871.1,707.6 1871.8,707.1 1872.4,706.7 1873.1,706.2 1873.8,705.7 1874.5,705.1 1875.2,704.6 1875.9,704.0 1876.6,703.4 1877.2,702.8 1877.9,702.2 1878.6,701.7 1879.3,701.1 1880.0,700.6 1880.7,700.1 1881.4,699.7 1882.1,699.2 1882.7,698.8 1883.4,698.5 1884.1,698.2 1884.8,697.9 1885.5,697.7 1886.2,697.6 1886.9,697.4 1887.6,697.4 1888.2,697.4 1888.9,697.4 1889.6,697.5 1890.3,697.7 1891.0,697.9"/>
</g>
<rect x="1478.5" y="342.5" width="412.5" height="660.5" fill="none" stroke="#000" stroke-width="4.5"/>
<path d="M1478.5 960.9H1503.5M1478.5 888.9H1490.5M1478.5 816.9H1503.5M1478.5 744.9H1490.5M1478.5 672.9H1503.5M1478.5 600.9H1490.5M1478.5 528.9H1503.5M1478.5 456.9H1490.5M1478.5 384.9H1503.5M1547.2 1003.0V991.0M1616.0 1003.0V978.0M1684.8 1003.0V991.0M1753.5 1003.0V978.0M1822.2 1003.0V991.0" stroke="#000" stroke-width="4.5" fill="none"/>
<text x="1449.0" y="397.2" font-size="39.0" text-anchor="end">4</text>
<text x="1449.0" y="541.2" font-size="39.0" text-anchor="end">2</text>
<text x="1449.0" y="685.2" font-size="39.0" text-anchor="end">0</text>
<text x="1449.0" y="829.2" font-size="39.0" text-anchor="end">-2</text>
<text x="1449.0" y="973.2" font-size="39.0" text-anchor="end">-4</text>
<text x="1478.5" y="1061.0" font-size="39.0" text-anchor="middle">52</text>
<text x="1616.0" y="1061.0" font-size="39.0" text-anchor="middle">53</text>
<text x="1753.5" y="1061.0" font-size="39.0" text-anchor="middle">54</text>
<text x="1887.0" y="1061.0" font-size="39.0" text-anchor="middle">55</text>
<text transform="translate(1684.8,1106.0) scale(1,1.105)" font-size="56.0" text-anchor="middle">t</text>
<g transform="translate(1377.4,951.0) rotate(-90)">
<g transform="translate(0.0,0)" fill="#FF0000">
<text transform="translate(0.0,0.0) scale(1,1.045)" font-size="57.0">Im[</text>
<text x="79.1" y="0.0" font-size="57.0" class="sf">&#947;</text>
<text x="102.2" y="-23.7" font-size="38.4" class="sf">(1)</text>
<text transform="translate(101.7,15.5) scale(1,1.045)" font-size="39.0">G,AT</text>
<text transform="translate(192.7,0.0) scale(1,1.045)" font-size="57.0">(t)]</text>
</g>
<text transform="translate(262.4,0.0) scale(1,1.045)" font-size="57.0" fill="#000">,</text>
<g transform="translate(294.1,0)" fill="#0000FF">
<text transform="translate(0.0,0.0) scale(1,1.045)" font-size="57.0">Im[</text>
<text x="79.1" y="0.0" font-size="57.0" class="sf">&#947;</text>
<text x="102.2" y="-23.7" font-size="38.4" class="sf">(2)</text>
<text transform="translate(101.7,15.5) scale(1,1.045)" font-size="39.0">G,AT</text>
<text transform="translate(192.7,0.0) scale(1,1.045)" font-size="57.0">(t)]</text>
</g>
</g>
<rect x="317.7" y="1709.5" width="1667.0" height="1343.0" fill="none" stroke="#000" stroke-width="5.0"/>
<polyline fill="none" stroke="#D633FF" stroke-width="1.6" stroke-linejoin="round" points="318.5,2827.5 319.3,2784.0 320.2,2664.4 321.0,2498.7 321.8,2328.1 322.7,2194.6 323.5,2129.8 324.3,2147.8 325.2,2241.3 326.0,2384.7 326.8,2541.1 327.7,2672.0 328.5,2747.3 329.3,2752.2 330.2,2690.6 331.0,2582.3 331.8,2457.3 332.7,2347.0 333.5,2276.3 334.3,2257.6 335.2,2288.8 336.0,2355.7 336.8,2436.9 337.7,2510.4 338.5,2560.1 339.3,2579.0 340.2,2569.9 341.0,2543.2 341.8,2511.6 342.7,2486.2 343.5,2472.2 344.3,2468.3 345.2,2467.9 346.0,2462.6 346.8,2446.7 347.7,2419.6 348.5,2388.0 349.3,2363.3 350.2,2358.4 351.0,2382.5 351.8,2437.0 352.7,2513.1 353.5,2593.5 354.3,2655.8 355.2,2679.4 356.0,2651.7 356.8,2573.1 357.7,2458.3 358.5,2333.8 359.3,2231.4 360.2,2180.0 361.0,2197.0 361.8,2283.1 362.7,2420.8 363.5,2577.8 364.3,2715.2 365.2,2797.3 366.0,2801.3 366.8,2723.5 367.7,2581.1 368.5,2408.3 369.3,2247.6 370.2,2139.2 371.0,2110.1 371.8,2167.8 372.7,2297.7 373.5,2467.2 374.3,2634.3 375.2,2758.1 376.0,2809.4 376.8,2777.7 377.7,2673.6 378.5,2525.2 379.3,2370.5 380.2,2247.2 381.0,2183.2 381.8,2190.2 382.7,2261.5 383.5,2374.8 384.3,2499.5 385.2,2604.6 386.0,2667.0 386.8,2676.8 387.7,2638.2 388.5,2567.3 389.3,2486.0 390.2,2415.6 391.0,2370.9 391.8,2357.2 392.7,2370.0 393.5,2398.5 394.3,2429.7 395.2,2453.4 396.0,2465.4 396.8,2468.2 397.7,2468.8 398.5,2475.5 399.3,2493.6 400.2,2522.0 401.0,2553.4 401.8,2575.6 402.7,2576.1 403.5,2546.7 404.3,2487.7 405.2,2409.4 406.0,2330.5 406.8,2273.4 407.7,2257.9 408.5,2294.6 409.3,2380.7 410.2,2499.2 411.0,2622.2 411.8,2717.8 412.7,2758.5 413.5,2729.4 414.3,2633.0 415.2,2489.5 416.0,2333.0 416.8,2202.6 417.7,2132.5 418.5,2142.6 419.3,2233.1 420.2,2383.3 421.0,2557.1 421.8,2711.6 422.7,2808.1 423.5,2822.5 424.3,2751.1 425.2,2611.9 426.0,2439.7 426.8,2277.2 427.7,2164.0 428.5,2126.6 429.3,2171.7 430.2,2285.6 431.0,2437.8 431.8,2589.7 432.7,2704.6 433.5,2757.0 434.3,2738.2 435.2,2658.0 436.0,2540.5 436.8,2417.1 437.7,2317.9 438.5,2264.0 439.3,2263.0 440.2,2308.3 441.0,2382.6 441.8,2463.4 442.7,2530.3 443.5,2569.9 444.3,2578.7 445.2,2562.3 446.0,2532.5 446.8,2502.0 447.7,2480.1 448.5,2470.0 449.3,2468.2 450.2,2467.0 451.0,2458.6 451.8,2438.6 452.7,2409.0 453.5,2378.3 454.3,2358.9 455.2,2363.0 456.0,2397.7 456.8,2460.9 457.7,2540.8 458.5,2617.6 459.3,2668.9 460.2,2676.1 461.0,2630.5 461.8,2537.4 462.7,2416.0 463.5,2295.3 464.3,2207.3 465.2,2177.7 466.0,2218.8 466.8,2325.0 467.7,2473.3 468.5,2628.1 469.3,2750.5 470.2,2808.0 471.0,2783.8 471.8,2681.4 472.7,2524.3 473.5,2350.8 474.3,2203.6 475.2,2119.7 476.0,2120.1 476.8,2204.7 477.7,2352.2 478.5,2525.9 479.3,2682.6 480.2,2784.4 481.0,2807.9 481.8,2749.6 482.7,2626.8 483.5,2471.9 484.3,2323.8 485.1,2218.1 486.0,2177.6 486.8,2207.8 487.6,2296.3 488.5,2417.1 489.3,2538.4 490.1,2631.1 491.0,2676.2 491.8,2668.6 492.6,2617.0 493.5,2540.0 494.3,2460.2 495.1,2397.2 496.0,2362.9 496.8,2359.0 497.6,2378.5 498.5,2409.3 499.3,2438.8 500.1,2458.7 501.0,2467.1 501.8,2468.2 502.6,2470.0 503.5,2480.2 504.3,2502.2 505.1,2532.7 506.0,2562.5 506.8,2578.7 507.6,2569.7 508.5,2529.8 509.3,2462.7 510.1,2381.9 511.0,2307.8 511.8,2262.8 512.6,2264.2 513.5,2318.6 514.3,2418.1 515.1,2541.6 516.0,2658.9 516.8,2738.7 517.6,2756.8 518.5,2703.9 519.3,2588.5 520.1,2436.4 521.0,2284.4 521.8,2171.0 522.6,2126.5 523.5,2164.7 524.3,2278.5 525.1,2441.2 526.0,2613.3 526.8,2752.1 527.6,2822.7 528.5,2807.6 529.3,2710.4 530.1,2555.6 531.0,2381.8 531.8,2232.0 532.6,2142.2 533.5,2132.8 534.3,2203.6 535.1,2334.4 536.0,2490.9 536.8,2634.1 537.6,2730.0 538.5,2758.5 539.3,2717.1 540.1,2621.2 541.0,2498.0 541.8,2379.7 542.6,2294.0 543.5,2257.8 544.3,2273.8 545.1,2331.1 546.0,2410.1 546.8,2488.3 547.6,2547.1 548.5,2576.2 549.3,2575.5 550.1,2553.1 551.0,2521.7 551.8,2493.3 552.6,2475.4 553.5,2468.8 554.3,2468.1 555.1,2465.3 556.0,2453.2 556.8,2429.4 557.6,2398.2 558.5,2369.8 559.3,2357.1 560.1,2371.2 561.0,2416.1 561.8,2486.7 562.6,2568.1 563.5,2638.8 564.3,2676.9 565.1,2666.7 566.0,2603.8 566.8,2498.4 567.6,2373.7 568.5,2260.6 569.3,2189.8 570.1,2183.5 571.0,2248.0 571.8,2371.8 572.6,2526.6 573.5,2674.7 574.3,2778.3 575.1,2809.3 576.0,2757.3 576.8,2633.0 577.6,2465.7 578.5,2296.3 579.3,2166.9 580.1,2110.0 581.0,2139.8 581.8,2248.9 582.6,2409.8 583.5,2582.5 584.3,2724.5 585.1,2801.6 586.0,2796.9 586.8,2714.2 587.6,2576.4 588.5,2419.4 589.3,2282.1 590.1,2196.5 591.0,2180.2 591.8,2232.2 592.6,2334.9 593.5,2459.4 594.3,2574.0 595.1,2652.2 596.0,2679.4 596.8,2655.4 597.6,2592.8 598.5,2512.4 599.3,2436.4 600.1,2382.2 601.0,2358.3 601.8,2363.5 602.6,2388.3 603.5,2419.9 604.3,2446.9 605.1,2462.7 606.0,2467.9 606.8,2468.3 607.6,2472.2 608.5,2486.3 609.3,2511.9 610.1,2543.5 611.0,2570.1 611.8,2578.9 612.6,2559.8 613.5,2509.8 614.3,2436.2 615.1,2355.0 616.0,2288.4 616.8,2257.5 617.6,2276.7 618.5,2347.8 619.3,2458.3 620.1,2583.4 621.0,2691.4 621.8,2752.5 622.6,2746.9 623.5,2671.1 624.3,2539.8 625.1,2383.3 626.0,2240.2 626.8,2147.2 627.6,2130.0 628.5,2195.5 629.3,2329.5 630.1,2500.2 631.0,2665.7 631.8,2784.7 632.6,2827.5 633.5,2783.2 634.3,2663.0 635.1,2497.1 636.0,2326.7 636.8,2193.7 637.6,2129.6 638.5,2148.3 639.3,2242.4 640.1,2386.1 641.0,2542.4 641.8,2673.0 642.6,2747.6 643.5,2751.9 644.3,2689.8 645.1,2581.2 646.0,2456.2 646.8,2346.1 647.6,2275.9 648.5,2257.6 649.3,2289.3 650.1,2356.4 651.0,2437.6 651.8,2511.0 652.6,2560.4 653.5,2579.0 654.3,2569.8 655.1,2542.9 656.0,2511.3 656.8,2486.0 657.6,2472.1 658.5,2468.3 659.3,2467.9 660.1,2462.6 661.0,2446.5 661.8,2419.4 662.6,2387.7 663.5,2363.2 664.3,2358.5 665.1,2382.9 666.0,2437.6 666.8,2513.9 667.6,2594.2 668.5,2656.2 669.3,2679.4 670.1,2651.2 671.0,2572.2 671.8,2457.2 672.6,2332.7 673.5,2230.7 674.3,2179.8 675.1,2197.5 676.0,2284.1 676.8,2422.1 677.6,2579.1 678.5,2716.2 679.3,2797.7 680.1,2801.0 681.0,2722.4 681.8,2579.6 682.6,2406.7 683.5,2246.4 684.3,2138.5 685.1,2110.2 686.0,2168.6 686.8,2299.0 687.6,2468.8 688.5,2635.7 689.3,2758.9 690.1,2809.4 691.0,2777.0 691.8,2672.4 692.6,2523.8 693.5,2369.2 694.3,2246.3 695.1,2183.0 696.0,2190.6 696.8,2262.3 697.6,2375.9 698.5,2500.5 699.3,2605.3 700.1,2667.3 701.0,2676.6 701.8,2637.7 702.6,2566.6 703.5,2485.3 704.3,2415.1 705.1,2370.6 706.0,2357.2 706.8,2370.2 707.6,2398.8 708.5,2429.9 709.3,2453.6 710.1,2465.5 711.0,2468.2 711.8,2468.8 712.6,2475.7 713.5,2493.8 714.3,2522.3 715.1,2553.6 716.0,2575.7 716.8,2575.9 717.6,2546.3 718.5,2487.1 719.3,2408.7 720.1,2329.9 721.0,2273.1 721.8,2258.0 722.6,2295.1 723.5,2381.6 724.3,2500.3 725.1,2623.2 726.0,2718.4 726.8,2758.6 727.6,2728.9 728.5,2631.9 729.3,2488.1 730.1,2331.7 731.0,2201.7 731.8,2132.2 732.6,2143.1 733.5,2234.2 734.3,2384.8 735.1,2558.6 736.0,2712.7 736.8,2808.6 737.6,2822.2 738.5,2750.1 739.3,2610.4 740.1,2438.1 741.0,2275.9 741.8,2163.3 742.6,2126.6 743.5,2172.5 744.3,2286.8 745.1,2439.2 746.0,2591.0 746.8,2705.4 747.6,2757.1 748.5,2737.7 749.3,2657.1 750.1,2539.4 751.0,2416.0 751.8,2317.2 752.6,2263.7 753.5,2263.2 754.3,2308.9 755.1,2383.3 756.0,2464.1 756.8,2530.8 757.6,2570.1 758.5,2578.6 759.3,2562.1 760.1,2532.2 761.0,2501.7 761.8,2480.0 762.6,2469.9 763.5,2468.2 764.3,2467.0 765.1,2458.5 766.0,2438.4 766.8,2408.7 767.6,2378.0 768.5,2358.8 769.3,2363.2 770.1,2398.1 771.0,2461.5 771.8,2541.5 772.6,2618.2 773.5,2669.2 774.3,2675.9 775.1,2629.8 776.0,2536.4 776.8,2414.8 777.6,2294.4 778.5,2206.7 779.3,2177.7 780.1,2219.4 781.0,2326.2 781.8,2474.7 782.6,2629.4 783.5,2751.3 784.3,2808.2 785.1,2783.2 786.0,2680.2 786.8,2522.8 787.6,2349.3 788.5,2202.6 789.3,2119.3 790.1,2120.5 791.0,2205.8 791.8,2353.7 792.6,2527.4 793.5,2683.8 794.3,2785.0 795.1,2807.7 796.0,2748.8 796.8,2625.5 797.6,2470.5 798.5,2322.7 799.3,2217.4 800.1,2177.6 801.0,2208.4 801.8,2297.3 802.6,2418.2 803.5,2539.4 804.3,2631.7 805.1,2676.4 806.0,2668.3 806.8,2616.4 807.6,2539.3 808.5,2459.6 809.3,2396.8 810.1,2362.7 811.0,2359.0 811.8,2378.7 812.6,2409.6 813.5,2439.1 814.3,2458.9 815.1,2467.1 816.0,2468.2 816.8,2470.1 817.6,2480.4 818.5,2502.4 819.3,2533.0 820.1,2562.7 820.9,2578.7 821.8,2569.5 822.6,2529.3 823.4,2462.1 824.3,2381.1 825.1,2307.2 825.9,2262.6 826.8,2264.5 827.6,2319.3 828.4,2419.1 829.3,2542.7 830.1,2659.8 830.9,2739.1 831.8,2756.7 832.6,2703.1 833.4,2587.3 834.3,2435.0 835.1,2283.1 835.9,2170.2 836.8,2126.5 837.6,2165.4 838.4,2279.8 839.3,2442.8 840.1,2614.8 840.9,2753.0 841.8,2823.0 842.6,2807.1 843.4,2709.2 844.3,2554.1 845.1,2380.3 845.9,2230.9 846.8,2141.7 847.6,2133.1 848.4,2204.5 849.3,2335.7 850.1,2492.3 850.9,2635.2 851.8,2730.6 852.6,2758.4 853.4,2716.5 854.3,2620.1 855.1,2496.9 855.9,2378.8 856.8,2293.4 857.6,2257.7 858.4,2274.1 859.3,2331.8 860.1,2410.9 860.9,2489.0 861.8,2547.5 862.6,2576.3 863.4,2575.3 864.3,2552.8 865.1,2521.4 865.9,2493.1 866.8,2475.3 867.6,2468.8 868.4,2468.1 869.3,2465.3 870.1,2453.1 870.9,2429.2 871.8,2397.9 872.6,2369.6 873.4,2357.1 874.3,2371.4 875.1,2416.7 875.9,2487.4 876.8,2568.8 877.6,2639.3 878.4,2677.1 879.3,2666.3 880.1,2603.0 880.9,2497.3 881.8,2372.6 882.6,2259.7 883.4,2189.5 884.3,2183.7 885.1,2248.9 885.9,2373.1 886.8,2528.0 887.6,2675.9 888.4,2778.9 889.3,2809.2 890.1,2756.5 890.9,2631.6 891.8,2464.1 892.6,2294.9 893.4,2166.0 894.3,2109.9 895.1,2140.5 895.9,2250.1 896.8,2411.4 897.6,2584.0 898.4,2725.5 899.3,2802.0 900.1,2796.5 900.9,2713.1 901.8,2575.0 902.6,2418.0 903.4,2281.1 904.3,2196.1 905.1,2180.3 905.9,2232.9 906.8,2335.9 907.6,2460.5 908.4,2574.8 909.3,2652.6 910.1,2679.4 910.9,2655.0 911.8,2592.1 912.6,2511.7 913.4,2435.8 914.3,2381.8 915.1,2358.3 915.9,2363.6 916.8,2388.5 917.6,2420.2 918.4,2447.0 919.3,2462.8 920.1,2467.9 920.9,2468.3 921.8,2472.3 922.6,2486.5 923.4,2512.1 924.3,2543.7 925.1,2570.3 925.9,2578.9 926.8,2559.5 927.6,2509.3 928.4,2435.4 929.3,2354.4 930.1,2287.9 930.9,2257.4 931.8,2277.1 932.6,2348.6 933.4,2459.4 934.3,2584.5 935.1,2692.2 935.9,2752.7 936.8,2746.5 937.6,2670.1 938.4,2538.4 939.3,2381.9 940.1,2239.1 940.9,2146.7 941.8,2130.3 942.6,2196.4 943.4,2330.9 944.3,2501.8 945.1,2667.0 945.9,2785.5 946.8,2827.5 947.6,2782.5 948.4,2661.7 949.3,2495.5 950.1,2325.3 950.9,2192.8 951.8,2129.4 952.6,2148.8 953.4,2243.5 954.3,2387.5 955.1,2543.8 955.9,2673.9 956.8,2748.0 957.6,2751.7 958.4,2689.0 959.3,2580.1 960.1,2455.1 960.9,2345.3 961.8,2275.5 962.6,2257.7 963.4,2289.8 964.3,2357.1 965.1,2438.3 965.9,2511.5 966.8,2560.7 967.6,2579.0 968.4,2569.6 969.3,2542.6 970.1,2511.1 970.9,2485.8 971.8,2472.0 972.6,2468.3 973.4,2467.9 974.3,2462.5 975.1,2446.3 975.9,2419.1 976.8,2387.5 977.6,2363.0 978.4,2358.6 979.3,2383.2 980.1,2438.2 980.9,2514.6 981.8,2594.8 982.6,2656.6 983.4,2679.3 984.3,2650.7 985.1,2571.3 985.9,2456.1 986.8,2331.7 987.6,2230.0 988.4,2179.7 989.3,2198.0 990.1,2285.2 990.9,2423.5 991.8,2580.5 992.6,2717.2 993.4,2798.1 994.3,2800.6 995.1,2721.4 995.9,2578.2 996.8,2405.2 997.6,2245.1 998.4,2137.9 999.3,2110.4 1000.1,2169.5 1000.9,2300.4 1001.8,2470.3 1002.6,2637.0 1003.4,2759.7 1004.3,2809.5 1005.1,2776.4 1005.9,2671.2 1006.8,2522.4 1007.6,2367.9 1008.4,2245.5 1009.3,2182.7 1010.1,2191.0 1010.9,2263.2 1011.8,2377.0 1012.6,2501.6 1013.4,2606.1 1014.3,2667.6 1015.1,2676.5 1015.9,2637.2 1016.8,2565.9 1017.6,2484.6 1018.4,2414.6 1019.3,2370.4 1020.1,2357.2 1020.9,2370.4 1021.8,2399.1 1022.6,2430.2 1023.4,2453.7 1024.3,2465.5 1025.1,2468.2 1025.9,2468.8 1026.8,2475.8 1027.6,2494.0 1028.4,2522.6 1029.3,2553.9 1030.1,2575.8 1030.9,2575.8 1031.8,2545.9 1032.6,2486.4 1033.4,2408.0 1034.3,2329.2 1035.1,2272.7 1035.9,2258.1 1036.8,2295.7 1037.6,2382.5 1038.4,2501.4 1039.3,2624.2 1040.1,2719.1 1040.9,2758.6 1041.8,2728.3 1042.6,2630.7 1043.4,2486.7 1044.3,2330.4 1045.1,2200.8 1045.9,2132.0 1046.8,2143.6 1047.6,2235.3 1048.4,2386.3 1049.3,2560.1 1050.1,2713.9 1050.9,2809.1 1051.8,2821.9 1052.6,2749.1 1053.4,2609.0 1054.3,2436.6 1055.1,2274.7 1055.9,2162.6 1056.8,2126.6 1057.6,2173.2 1058.4,2288.1 1059.3,2440.6 1060.1,2592.2 1060.9,2706.2 1061.8,2757.2 1062.6,2737.3 1063.4,2656.2 1064.3,2538.3 1065.1,2415.0 1065.9,2316.5 1066.8,2263.5 1067.6,2263.4 1068.4,2309.5 1069.3,2384.0 1070.1,2464.8 1070.9,2531.3 1071.8,2570.3 1072.6,2578.6 1073.4,2561.8 1074.3,2531.9 1075.1,2501.5 1075.9,2479.8 1076.8,2469.9 1077.6,2468.2 1078.4,2467.0 1079.3,2458.4 1080.1,2438.2 1080.9,2408.4 1081.8,2377.8 1082.6,2358.7 1083.4,2363.4 1084.3,2398.6 1085.1,2462.2 1085.9,2542.2 1086.8,2618.8 1087.6,2669.4 1088.4,2675.7 1089.3,2629.2 1090.1,2535.4 1090.9,2413.7 1091.8,2293.4 1092.6,2206.2 1093.4,2177.8 1094.3,2220.1 1095.1,2327.4 1095.9,2476.1 1096.8,2630.7 1097.6,2752.1 1098.4,2808.3 1099.3,2782.6 1100.1,2679.0 1100.9,2521.3 1101.8,2347.8 1102.6,2201.5 1103.4,2119.0 1104.3,2120.9 1105.1,2206.9 1105.9,2355.2 1106.8,2528.9 1107.6,2684.9 1108.4,2785.5 1109.3,2807.5 1110.1,2747.9 1110.9,2624.2 1111.8,2469.1 1112.6,2321.5 1113.4,2216.8 1114.3,2177.5 1115.1,2209.0 1115.9,2298.3 1116.8,2419.3 1117.6,2540.3 1118.4,2632.4 1119.3,2676.5 1120.1,2668.0 1120.9,2615.8 1121.8,2538.6 1122.6,2458.9 1123.4,2396.4 1124.3,2362.5 1125.1,2359.1 1125.9,2379.0 1126.8,2409.9 1127.6,2439.3 1128.4,2459.0 1129.3,2467.1 1130.1,2468.2 1130.9,2470.1 1131.8,2480.5 1132.6,2502.7 1133.4,2533.3 1134.3,2563.0 1135.1,2578.8 1135.9,2569.3 1136.8,2528.9 1137.6,2461.4 1138.4,2380.4 1139.3,2306.7 1140.1,2262.4 1140.9,2264.7 1141.8,2320.0 1142.6,2420.2 1143.4,2543.8 1144.3,2660.8 1145.1,2739.6 1145.9,2756.5 1146.8,2702.3 1147.6,2586.0 1148.4,2433.6 1149.3,2281.9 1150.1,2169.5 1150.9,2126.5 1151.8,2166.1 1152.6,2281.0 1153.4,2444.3 1154.2,2616.2 1155.1,2754.0 1155.9,2823.2 1156.7,2806.5 1157.6,2708.0 1158.4,2552.5 1159.2,2378.8 1160.1,2229.8 1160.9,2141.3 1161.7,2133.4 1162.6,2205.5 1163.4,2337.0 1164.2,2493.7 1165.1,2636.3 1165.9,2731.1 1166.7,2758.3 1167.6,2715.8 1168.4,2619.1 1169.2,2495.8 1170.1,2377.8 1170.9,2292.9 1171.7,2257.6 1172.6,2274.5 1173.4,2332.4 1174.2,2411.6 1175.1,2489.6 1175.9,2547.9 1176.7,2576.4 1177.6,2575.2 1178.4,2552.6 1179.2,2521.1 1180.1,2492.9 1180.9,2475.2 1181.7,2468.7 1182.6,2468.1 1183.4,2465.2 1184.2,2452.9 1185.1,2428.9 1185.9,2397.6 1186.7,2369.4 1187.6,2357.1 1188.4,2371.7 1189.2,2417.2 1190.1,2488.2 1190.9,2569.5 1191.7,2639.8 1192.6,2677.2 1193.4,2666.0 1194.2,2602.2 1195.1,2496.3 1195.9,2371.5 1196.7,2258.9 1197.6,2189.1 1198.4,2184.0 1199.2,2249.8 1200.1,2374.3 1200.9,2529.4 1201.7,2677.1 1202.6,2779.5 1203.4,2809.1 1204.2,2755.7 1205.1,2630.3 1205.9,2462.5 1206.7,2293.5 1207.6,2165.2 1208.4,2109.7 1209.2,2141.1 1210.1,2251.4 1210.9,2412.9 1211.7,2585.4 1212.6,2726.5 1213.4,2802.3 1214.2,2796.1 1215.1,2712.1 1215.9,2573.7 1216.7,2416.7 1217.6,2280.0 1218.4,2195.6 1219.2,2180.5 1220.1,2233.6 1220.9,2337.0 1221.7,2461.6 1222.6,2575.7 1223.4,2653.1 1224.2,2679.4 1225.1,2654.6 1225.9,2591.5 1226.7,2511.0 1227.6,2435.2 1228.4,2381.5 1229.2,2358.2 1230.1,2363.8 1230.9,2388.8 1231.7,2420.4 1232.6,2447.2 1233.4,2462.9 1234.2,2467.9 1235.1,2468.3 1235.9,2472.4 1236.7,2486.7 1237.6,2512.4 1238.4,2544.0 1239.2,2570.5 1240.1,2578.9 1240.9,2559.1 1241.7,2508.7 1242.6,2434.7 1243.4,2353.7 1244.2,2287.4 1245.1,2257.4 1245.9,2277.5 1246.7,2349.5 1247.6,2460.5 1248.4,2585.5 1249.2,2692.9 1250.1,2753.0 1250.9,2746.1 1251.7,2669.1 1252.6,2537.1 1253.4,2380.5 1254.2,2238.0 1255.1,2146.2 1255.9,2130.5 1256.7,2197.3 1257.6,2332.4 1258.4,2503.3 1259.2,2668.3 1260.1,2786.2 1260.9,2827.5 1261.7,2781.7 1262.6,2660.4 1263.4,2494.0 1264.2,2323.9 1265.1,2191.9 1265.9,2129.2 1266.7,2149.4 1267.6,2244.6 1268.4,2388.9 1269.2,2545.1 1270.1,2674.8 1270.9,2748.3 1271.7,2751.4 1272.6,2688.2 1273.4,2579.0 1274.2,2454.0 1275.1,2344.5 1275.9,2275.1 1276.7,2257.8 1277.6,2290.2 1278.4,2357.8 1279.2,2439.0 1280.1,2512.1 1280.9,2561.0 1281.7,2579.1 1282.6,2569.4 1283.4,2542.3 1284.2,2510.8 1285.1,2485.6 1285.9,2472.0 1286.7,2468.3 1287.6,2467.8 1288.4,2462.4 1289.2,2446.1 1290.1,2418.8 1290.9,2387.2 1291.7,2362.9 1292.6,2358.7 1293.4,2383.6 1294.2,2438.8 1295.1,2515.3 1295.9,2595.5 1296.7,2657.0 1297.6,2679.3 1298.4,2650.2 1299.2,2570.4 1300.1,2455.0 1300.9,2330.6 1301.7,2229.3 1302.6,2179.5 1303.4,2198.4 1304.2,2286.2 1305.1,2424.9 1305.9,2581.9 1306.7,2718.2 1307.6,2798.5 1308.4,2800.2 1309.2,2720.4 1310.1,2576.7 1310.9,2403.7 1311.7,2243.9 1312.6,2137.3 1313.4,2110.5 1314.2,2170.4 1315.1,2301.8 1315.9,2471.9 1316.7,2638.3 1317.6,2760.5 1318.4,2809.6 1319.2,2775.7 1320.1,2670.0 1320.9,2521.0 1321.7,2366.6 1322.6,2244.6 1323.4,2182.5 1324.2,2191.3 1325.1,2264.1 1325.9,2378.1 1326.7,2502.7 1327.6,2606.8 1328.4,2667.9 1329.2,2676.3 1330.1,2636.7 1330.9,2565.2 1331.7,2483.9 1332.6,2414.0 1333.4,2370.1 1334.2,2357.2 1335.1,2370.6 1335.9,2399.3 1336.7,2430.4 1337.6,2453.9 1338.4,2465.6 1339.2,2468.2 1340.1,2468.9 1340.9,2475.9 1341.7,2494.2 1342.6,2522.8 1343.4,2554.1 1344.2,2575.9 1345.1,2575.7 1345.9,2545.5 1346.7,2485.8 1347.6,2407.2 1348.4,2328.6 1349.2,2272.4 1350.1,2258.2 1350.9,2296.3 1351.7,2383.5 1352.6,2502.5 1353.4,2625.2 1354.2,2719.7 1355.1,2758.7 1355.9,2727.7 1356.7,2629.6 1357.6,2485.4 1358.4,2329.1 1359.2,2199.9 1360.1,2131.7 1360.9,2144.1 1361.7,2236.4 1362.6,2387.8 1363.4,2561.7 1364.2,2715.0 1365.1,2809.6 1365.9,2821.7 1366.7,2748.1 1367.6,2607.5 1368.4,2435.0 1369.2,2273.4 1370.1,2162.0 1370.9,2126.7 1371.7,2174.0 1372.6,2289.3 1373.4,2442.1 1374.2,2593.4 1375.1,2706.9 1375.9,2757.4 1376.7,2736.8 1377.6,2655.2 1378.4,2537.1 1379.2,2414.0 1380.1,2315.8 1380.9,2263.3 1381.7,2263.7 1382.6,2310.0 1383.4,2384.7 1384.2,2465.5 1385.1,2531.8 1385.9,2570.5 1386.7,2578.5 1387.6,2561.6 1388.4,2531.6 1389.2,2501.2 1390.1,2479.7 1390.9,2469.9 1391.7,2468.2 1392.6,2466.9 1393.4,2458.2 1394.2,2437.9 1395.1,2408.1 1395.9,2377.5 1396.7,2358.6 1397.6,2363.5 1398.4,2399.0 1399.2,2462.9 1400.1,2542.9 1400.9,2619.4 1401.7,2669.7 1402.6,2675.5 1403.4,2628.6 1404.2,2534.4 1405.1,2412.6 1405.9,2292.4 1406.7,2205.6 1407.6,2177.8 1408.4,2220.8 1409.2,2328.6 1410.1,2477.5 1410.9,2632.0 1411.7,2753.0 1412.6,2808.5 1413.4,2782.0 1414.2,2677.7 1415.1,2519.7 1415.9,2346.3 1416.7,2200.4 1417.6,2118.6 1418.4,2121.3 1419.2,2208.0 1420.1,2356.7 1420.9,2530.4 1421.7,2686.1 1422.6,2786.1 1423.4,2807.3 1424.2,2747.1 1425.1,2622.9 1425.9,2467.7 1426.7,2320.3 1427.6,2216.1 1428.4,2177.5 1429.2,2209.5 1430.1,2299.2 1430.9,2420.5 1431.7,2541.3 1432.6,2633.0 1433.4,2676.7 1434.2,2667.7 1435.1,2615.2 1435.9,2537.8 1436.7,2458.3 1437.6,2395.9 1438.4,2362.4 1439.2,2359.2 1440.1,2379.2 1440.9,2410.1 1441.7,2439.5 1442.6,2459.1 1443.4,2467.2 1444.2,2468.2 1445.1,2470.2 1445.9,2480.7 1446.7,2502.9 1447.6,2533.6 1448.4,2563.2 1449.2,2578.8 1450.1,2569.0 1450.9,2528.4 1451.7,2460.7 1452.6,2379.7 1453.4,2306.1 1454.2,2262.2 1455.1,2265.0 1455.9,2320.7 1456.7,2421.2 1457.6,2545.0 1458.4,2661.7 1459.2,2740.0 1460.1,2756.3 1460.9,2701.5 1461.7,2584.8 1462.6,2432.2 1463.4,2280.7 1464.2,2168.8 1465.1,2126.4 1465.9,2166.8 1466.7,2282.3 1467.6,2445.9 1468.4,2617.6 1469.2,2755.0 1470.1,2823.5 1470.9,2806.0 1471.7,2706.9 1472.6,2551.0 1473.4,2377.3 1474.2,2228.7 1475.1,2140.8 1475.9,2133.7 1476.7,2206.4 1477.6,2338.4 1478.4,2495.1 1479.2,2637.4 1480.1,2731.7 1480.9,2758.2 1481.7,2715.2 1482.6,2618.1 1483.4,2494.7 1484.2,2376.9 1485.0,2292.3 1485.9,2257.6 1486.7,2274.8 1487.5,2333.1 1488.4,2412.3 1489.2,2490.2 1490.0,2548.3 1490.9,2576.5 1491.7,2575.1 1492.5,2552.3 1493.4,2520.9 1494.2,2492.7 1495.0,2475.1 1495.9,2468.7 1496.7,2468.1 1497.5,2465.2 1498.4,2452.7 1499.2,2428.7 1500.0,2397.4 1500.9,2369.2 1501.7,2357.1 1502.5,2372.0 1503.4,2417.7 1504.2,2488.9 1505.0,2570.2 1505.9,2640.3 1506.7,2677.3 1507.5,2665.7 1508.4,2601.5 1509.2,2495.2 1510.0,2370.4 1510.9,2258.0 1511.7,2188.8 1512.5,2184.3 1513.4,2250.7 1514.2,2375.6 1515.0,2530.8 1515.9,2678.2 1516.7,2780.1 1517.5,2809.0 1518.4,2754.8 1519.2,2628.9 1520.0,2461.0 1520.9,2292.1 1521.7,2164.3 1522.5,2109.6 1523.4,2141.8 1524.2,2252.7 1525.0,2414.5 1525.9,2586.9 1526.7,2727.5 1527.5,2802.6 1528.4,2795.7 1529.2,2711.1 1530.0,2572.3 1530.9,2415.3 1531.7,2279.0 1532.5,2195.2 1533.4,2180.7 1534.2,2234.3 1535.0,2338.0 1535.9,2462.7 1536.7,2576.6 1537.5,2653.6 1538.4,2679.4 1539.2,2654.1 1540.0,2590.8 1540.9,2510.2 1541.7,2434.6 1542.5,2381.1 1543.4,2358.1 1544.2,2363.9 1545.0,2389.1 1545.9,2420.7 1546.7,2447.4 1547.5,2463.0 1548.4,2467.9 1549.2,2468.3 1550.0,2472.5 1550.9,2486.9 1551.7,2512.7 1552.5,2544.3 1553.4,2570.6 1554.2,2578.8 1555.0,2558.8 1555.9,2508.1 1556.7,2434.0 1557.5,2353.0 1558.4,2287.0 1559.2,2257.3 1560.0,2277.9 1560.9,2350.3 1561.7,2461.6 1562.5,2586.6 1563.4,2693.7 1564.2,2753.2 1565.0,2745.8 1565.9,2668.2 1566.7,2535.8 1567.5,2379.1 1568.4,2236.9 1569.2,2145.7 1570.0,2130.7 1570.9,2198.3 1571.7,2333.8 1572.5,2504.9 1573.4,2669.6 1574.2,2787.0 1575.0,2827.4 1575.9,2780.9 1576.7,2659.0 1577.5,2492.4 1578.4,2322.5 1579.2,2191.0 1580.0,2129.0 1580.9,2149.9 1581.7,2245.7 1582.5,2390.3 1583.4,2546.4 1584.2,2675.8 1585.0,2748.7 1585.9,2751.1 1586.7,2687.4 1587.5,2577.9 1588.4,2452.9 1589.2,2343.7 1590.0,2274.7 1590.9,2257.9 1591.7,2290.7 1592.5,2358.5 1593.4,2439.7 1594.2,2512.6 1595.0,2561.3 1595.9,2579.1 1596.7,2569.2 1597.5,2542.1 1598.4,2510.5 1599.2,2485.5 1600.0,2471.9 1600.9,2468.3 1601.7,2467.8 1602.5,2462.3 1603.4,2445.9 1604.2,2418.5 1605.0,2386.9 1605.9,2362.7 1606.7,2358.7 1607.5,2384.0 1608.4,2439.4 1609.2,2516.0 1610.0,2596.1 1610.9,2657.4 1611.7,2679.3 1612.5,2649.7 1613.4,2569.5 1614.2,2453.9 1615.0,2329.6 1615.9,2228.6 1616.7,2179.4 1617.5,2198.9 1618.4,2287.3 1619.2,2426.2 1620.0,2583.2 1620.9,2719.2 1621.7,2798.9 1622.5,2799.9 1623.4,2719.3 1624.2,2575.2 1625.0,2402.1 1625.9,2242.7 1626.7,2136.7 1627.5,2110.7 1628.4,2171.3 1629.2,2303.2 1630.0,2473.5 1630.9,2639.7 1631.7,2761.3 1632.5,2809.6 1633.4,2775.1 1634.2,2668.8 1635.0,2519.6 1635.9,2365.4 1636.7,2243.8 1637.5,2182.2 1638.4,2191.7 1639.2,2264.9 1640.0,2379.2 1640.9,2503.7 1641.7,2607.6 1642.5,2668.3 1643.4,2676.2 1644.2,2636.2 1645.0,2564.5 1645.9,2483.2 1646.7,2413.5 1647.5,2369.9 1648.4,2357.2 1649.2,2370.8 1650.0,2399.6 1650.9,2430.7 1651.7,2454.0 1652.5,2465.6 1653.4,2468.2 1654.2,2468.9 1655.0,2476.0 1655.9,2494.4 1656.7,2523.1 1657.5,2554.4 1658.4,2576.0 1659.2,2575.6 1660.0,2545.1 1660.9,2485.2 1661.7,2406.5 1662.5,2328.0 1663.4,2272.1 1664.2,2258.3 1665.0,2296.8 1665.9,2384.4 1666.7,2503.6 1667.5,2626.2 1668.4,2720.3 1669.2,2758.7 1670.0,2727.1 1670.9,2628.5 1671.7,2484.0 1672.5,2327.7 1673.4,2199.0 1674.2,2131.4 1675.0,2144.5 1675.9,2237.6 1676.7,2389.3 1677.5,2563.2 1678.4,2716.2 1679.2,2810.1 1680.0,2821.4 1680.9,2747.1 1681.7,2606.1 1682.5,2433.5 1683.4,2272.1 1684.2,2161.3 1685.0,2126.8 1685.9,2174.7 1686.7,2290.6 1687.5,2443.5 1688.4,2594.6 1689.2,2707.7 1690.0,2757.5 1690.9,2736.3 1691.7,2654.3 1692.5,2536.0 1693.4,2413.0 1694.2,2315.1 1695.0,2263.0 1695.9,2263.9 1696.7,2310.6 1697.5,2385.5 1698.4,2466.1 1699.2,2532.3 1700.0,2570.7 1700.9,2578.4 1701.7,2561.4 1702.5,2531.3 1703.4,2501.0 1704.2,2479.5 1705.0,2469.8 1705.9,2468.2 1706.7,2466.9 1707.5,2458.1 1708.4,2437.7 1709.2,2407.9 1710.0,2377.3 1710.9,2358.6 1711.7,2363.7 1712.5,2399.5 1713.4,2463.5 1714.2,2543.7 1715.0,2620.0 1715.9,2670.0 1716.7,2675.4 1717.5,2627.9 1718.4,2533.4 1719.2,2411.5 1720.0,2291.5 1720.9,2205.1 1721.7,2177.9 1722.5,2221.5 1723.4,2329.7 1724.2,2478.9 1725.0,2633.2 1725.9,2753.8 1726.7,2808.6 1727.5,2781.4 1728.4,2676.5 1729.2,2518.2 1730.0,2344.8 1730.9,2199.4 1731.7,2118.2 1732.5,2121.7 1733.4,2209.0 1734.2,2358.2 1735.0,2532.0 1735.9,2687.3 1736.7,2786.6 1737.5,2807.1 1738.4,2746.2 1739.2,2621.6 1740.0,2466.3 1740.9,2319.2 1741.7,2215.4 1742.5,2177.5 1743.4,2210.1 1744.2,2300.2 1745.0,2421.6 1745.9,2542.3 1746.7,2633.6 1747.5,2676.8 1748.4,2667.4 1749.2,2614.5 1750.0,2537.1 1750.9,2457.6 1751.7,2395.5 1752.5,2362.2 1753.4,2359.3 1754.2,2379.5 1755.0,2410.4 1755.9,2439.7 1756.7,2459.2 1757.5,2467.2 1758.4,2468.2 1759.2,2470.2 1760.0,2480.8 1760.9,2503.2 1761.7,2533.9 1762.5,2563.4 1763.4,2578.9 1764.2,2568.8 1765.0,2527.9 1765.9,2460.0 1766.7,2379.0 1767.5,2305.5 1768.4,2262.0 1769.2,2265.2 1770.0,2321.4 1770.9,2422.2 1771.7,2546.1 1772.5,2662.6 1773.4,2740.5 1774.2,2756.2 1775.0,2700.7 1775.9,2583.5 1776.7,2430.8 1777.5,2279.5 1778.4,2168.1 1779.2,2126.4 1780.0,2167.6 1780.9,2283.6 1781.7,2447.4 1782.5,2619.1 1783.4,2755.9 1784.2,2823.7 1785.0,2805.4 1785.9,2705.7 1786.7,2549.5 1787.5,2375.8 1788.4,2227.6 1789.2,2140.4 1790.0,2134.0 1790.9,2207.4 1791.7,2339.7 1792.5,2496.5 1793.4,2638.5 1794.2,2732.3 1795.0,2758.2 1795.9,2714.5 1796.7,2617.1 1797.5,2493.6 1798.4,2376.0 1799.2,2291.8 1800.0,2257.5 1800.9,2275.2 1801.7,2333.7 1802.5,2413.1 1803.4,2490.8 1804.2,2548.6 1805.0,2576.6 1805.9,2575.0 1806.7,2552.1 1807.5,2520.6 1808.4,2492.5 1809.2,2475.0 1810.0,2468.7 1810.9,2468.1 1811.7,2465.1 1812.5,2452.6 1813.4,2428.4 1814.2,2397.1 1815.0,2369.0 1815.9,2357.1 1816.7,2372.2 1817.5,2418.3 1818.3,2489.6 1819.2,2570.9 1820.0,2640.8 1820.8,2677.4 1821.7,2665.3 1822.5,2600.7 1823.3,2494.1 1824.2,2369.3 1825.0,2257.2 1825.8,2188.4 1826.7,2184.6 1827.5,2251.5 1828.3,2376.9 1829.2,2532.2 1830.0,2679.4 1830.8,2780.8 1831.7,2808.8 1832.5,2754.0 1833.3,2627.5 1834.2,2459.4 1835.0,2290.8 1835.8,2163.5 1836.7,2109.5 1837.5,2142.4 1838.3,2253.9 1839.2,2416.0 1840.0,2588.3 1840.8,2728.5 1841.7,2802.9 1842.5,2795.2 1843.3,2710.0 1844.2,2570.9 1845.0,2414.0 1845.8,2278.0 1846.7,2194.7 1847.5,2180.9 1848.3,2235.1 1849.2,2339.1 1850.0,2463.8 1850.8,2577.5 1851.7,2654.0 1852.5,2679.4 1853.3,2653.7 1854.2,2590.1 1855.0,2509.5 1855.8,2434.0 1856.7,2380.8 1857.5,2358.1 1858.3,2364.1 1859.2,2389.3 1860.0,2421.0 1860.8,2447.6 1861.7,2463.1 1862.5,2467.9 1863.3,2468.3 1864.2,2472.5 1865.0,2487.1 1865.8,2512.9 1866.7,2544.6 1867.5,2570.8 1868.3,2578.8 1869.2,2558.5 1870.0,2507.6 1870.8,2433.3 1871.7,2352.3 1872.5,2286.5 1873.3,2257.3 1874.2,2278.3 1875.0,2351.2 1875.8,2462.7 1876.7,2587.7 1877.5,2694.5 1878.3,2753.5 1879.2,2745.4 1880.0,2667.2 1880.8,2534.4 1881.7,2377.8 1882.5,2235.8 1883.3,2145.2 1884.2,2131.0 1885.0,2199.2 1885.8,2335.2 1886.7,2506.4 1887.5,2670.9 1888.3,2787.7 1889.2,2827.4 1890.0,2780.1 1890.8,2657.7 1891.7,2490.9 1892.5,2321.1 1893.3,2190.1 1894.2,2128.9 1895.0,2150.4 1895.8,2246.8 1896.7,2391.7 1897.5,2547.7 1898.3,2676.7 1899.2,2749.0 1900.0,2750.8 1900.8,2686.6 1901.7,2576.8 1902.5,2451.8 1903.3,2342.8 1904.2,2274.3 1905.0,2258.0 1905.8,2291.2 1906.7,2359.2 1907.5,2440.4 1908.3,2513.2 1909.2,2561.6 1910.0,2579.1 1910.8,2569.0 1911.7,2541.8 1912.5,2510.3 1913.3,2485.3 1914.2,2471.8 1915.0,2468.3 1915.8,2467.8 1916.7,2462.2 1917.5,2445.7 1918.3,2418.2 1919.2,2386.6 1920.0,2362.6 1920.8,2358.8 1921.7,2384.3 1922.5,2440.0 1923.3,2516.8 1924.2,2596.8 1925.0,2657.8 1925.8,2679.3 1926.7,2649.2 1927.5,2568.6 1928.3,2452.7 1929.2,2328.6 1930.0,2227.9 1930.8,2179.2 1931.7,2199.4 1932.5,2288.3 1933.3,2427.6 1934.2,2584.6 1935.0,2720.2 1935.8,2799.3 1936.7,2799.5 1937.5,2718.3 1938.3,2573.8 1939.2,2400.6 1940.0,2241.5 1940.8,2136.1 1941.7,2110.9 1942.5,2172.2 1943.3,2304.6 1944.2,2475.0 1945.0,2641.0 1945.8,2762.1 1946.7,2809.7 1947.5,2774.4 1948.3,2667.6 1949.2,2518.1 1950.0,2364.1 1950.8,2242.9 1951.7,2182.0 1952.5,2192.1 1953.3,2265.8 1954.2,2380.3 1955.0,2504.8 1955.8,2608.4 1956.7,2668.6 1957.5,2676.0 1958.3,2635.6 1959.2,2563.8 1960.0,2482.5 1960.8,2413.0 1961.7,2369.6 1962.5,2357.2 1963.3,2371.0 1964.2,2399.9 1965.0,2430.9 1965.8,2454.2 1966.7,2465.7 1967.5,2468.2 1968.3,2468.9 1969.2,2476.1 1970.0,2494.6 1970.8,2523.4 1971.7,2554.6 1972.5,2576.1 1973.3,2575.4 1974.2,2544.6 1975.0,2484.5 1975.8,2405.8 1976.7,2327.3 1977.5,2271.7 1978.3,2258.4 1979.2,2297.4 1980.0,2385.4 1980.8,2504.8 1981.7,2627.2 1982.5,2720.9 1983.3,2758.8 1984.2,2726.5 1985.0,2627.4"/>
<polyline fill="none" stroke="#FF8000" stroke-width="6.2" stroke-linecap="round" stroke-dasharray="28 37" stroke-dashoffset="0" points="317.7,2827.5 326.0,2815.5 334.4,2803.5 342.7,2791.5 351.1,2779.6 359.4,2767.6 367.7,2755.7 376.1,2743.7 384.4,2731.8 392.8,2719.9 401.1,2708.1 409.4,2696.2 417.8,2684.4 426.1,2672.6 434.5,2660.9 442.8,2649.2 451.1,2637.5 459.5,2625.9 467.8,2614.3 476.2,2602.8 484.5,2591.3 492.8,2579.9 501.2,2568.5 509.5,2557.2 517.8,2545.9 526.2,2534.8 534.5,2523.6 542.9,2512.6 551.2,2501.6 559.5,2490.7 567.9,2479.9 576.2,2469.1 584.6,2458.4 592.9,2447.8 601.2,2437.3 609.6,2426.9 617.9,2416.6 626.3,2406.4 634.6,2396.2 642.9,2386.2 651.3,2376.2 659.6,2366.4 668.0,2356.7 676.3,2347.0 684.6,2337.5 693.0,2328.1 701.3,2318.8 709.7,2309.6 718.0,2300.5 726.3,2291.6 734.7,2282.8 743.0,2274.1 751.4,2265.5 759.7,2257.0 768.0,2248.7 776.4,2240.5 784.7,2232.5 793.1,2224.5 801.4,2216.7 809.7,2209.1 818.1,2201.6 826.4,2194.2 834.7,2187.0 843.1,2179.9 851.4,2172.9 859.8,2166.1 868.1,2159.5 876.4,2153.0 884.8,2146.7 893.1,2140.5 901.5,2134.4 909.8,2128.6 918.1,2122.9 926.5,2117.3 934.8,2111.9 943.2,2106.7 951.5,2101.6 959.8,2096.7 968.2,2091.9 976.5,2087.3 984.9,2082.9 993.2,2078.7 1001.5,2074.6 1009.9,2070.7 1018.2,2066.9 1026.6,2063.4 1034.9,2060.0 1043.2,2056.8 1051.6,2053.7 1059.9,2050.8 1068.3,2048.1 1076.6,2045.6 1084.9,2043.3 1093.3,2041.1 1101.6,2039.1 1110.0,2037.3 1118.3,2035.7 1126.6,2034.2 1135.0,2032.9 1143.3,2031.8 1151.7,2030.9 1160.0,2030.2 1168.3,2029.6 1176.7,2029.2 1185.0,2029.0 1193.3,2029.0 1201.7,2029.2 1210.0,2029.5 1218.4,2030.0 1226.7,2030.7 1235.0,2031.6 1243.4,2032.7 1251.7,2033.9 1260.1,2035.3 1268.4,2036.9 1276.7,2038.7 1285.1,2040.6 1293.4,2042.8 1301.8,2045.1 1310.1,2047.6 1318.4,2050.2 1326.8,2053.0 1335.1,2056.1 1343.5,2059.2 1351.8,2062.6 1360.1,2066.1 1368.5,2069.8 1376.8,2073.7 1385.2,2077.7 1393.5,2081.9 1401.8,2086.3 1410.2,2090.8 1418.5,2095.6 1426.9,2100.4 1435.2,2105.5 1443.5,2110.7 1451.9,2116.0 1460.2,2121.6 1468.6,2127.2 1476.9,2133.1 1485.2,2139.1 1493.6,2145.2 1501.9,2151.5 1510.2,2158.0 1518.6,2164.6 1526.9,2171.4 1535.3,2178.3 1543.6,2185.3 1551.9,2192.5 1560.3,2199.9 1568.6,2207.3 1577.0,2215.0 1585.3,2222.7 1593.6,2230.6 1602.0,2238.6 1610.3,2246.8 1618.7,2255.1 1627.0,2263.5 1635.3,2272.1 1643.7,2280.8 1652.0,2289.6 1660.4,2298.5 1668.7,2307.5 1677.0,2316.7 1685.4,2325.9 1693.7,2335.3 1702.1,2344.8 1710.4,2354.4 1718.7,2364.1 1727.1,2374.0 1735.4,2383.9 1743.8,2393.9 1752.1,2404.0 1760.4,2414.2 1768.8,2424.5 1777.1,2434.9 1785.5,2445.4 1793.8,2456.0 1802.1,2466.6 1810.5,2477.4 1818.8,2488.2 1827.1,2499.1 1835.5,2510.0 1843.8,2521.1 1852.2,2532.2 1860.5,2543.4 1868.8,2554.6 1877.2,2565.9 1885.5,2577.2 1893.9,2588.7 1902.2,2600.1 1910.5,2611.6 1918.9,2623.2 1927.2,2634.8 1935.6,2646.5 1943.9,2658.2 1952.2,2669.9 1960.6,2681.7 1968.9,2693.5 1977.3,2705.3 1985.6,2717.2"/>
<polyline fill="none" stroke="#808000" stroke-width="6" stroke-linejoin="round" points="317.7,2828.3 318.5,2827.5 319.4,2826.8 320.2,2826.5 321.0,2826.7 321.9,2827.2 322.7,2828.1 323.5,2828.9 324.4,2829.6 325.2,2830.0 326.0,2830.0 326.9,2829.5 327.7,2828.8 328.5,2827.9 329.4,2827.1 330.2,2826.7 331.0,2826.6 331.9,2826.9 332.7,2827.6 333.5,2828.4 334.4,2829.3 335.2,2829.8 336.0,2830.1 336.9,2829.8 337.7,2829.2 338.5,2828.4 339.4,2827.6 340.2,2826.9 341.1,2826.6 341.9,2826.7 342.7,2827.2 343.6,2827.9 344.4,2828.8 345.2,2829.5 346.1,2830.0 346.9,2830.0 347.7,2829.6 348.6,2828.9 349.4,2828.0 350.2,2827.2 351.1,2826.7 351.9,2826.6 352.7,2826.8 353.6,2827.5 354.4,2828.3 355.2,2829.2 356.1,2829.8 356.9,2830.0 357.7,2829.9 358.6,2829.3 359.4,2828.5 360.2,2827.7 361.1,2827.0 361.9,2826.6 362.7,2826.6 363.6,2827.1 364.4,2827.8 365.2,2828.7 366.1,2829.5 366.9,2829.9 367.7,2830.0 368.6,2829.7 369.4,2829.0 370.2,2828.2 371.1,2827.3 371.9,2826.8 372.7,2826.6 373.6,2826.8 374.4,2827.4 375.2,2828.2 376.1,2829.0 376.9,2829.7 377.7,2830.0 378.6,2829.9 379.4,2829.4 380.2,2828.6 381.1,2827.8 381.9,2827.0 382.7,2826.6 383.6,2826.6 384.4,2827.0 385.2,2827.7 386.1,2828.6 386.9,2829.4 387.8,2829.9 388.6,2830.0 389.4,2829.7 390.3,2829.1 391.1,2828.3 391.9,2827.4 392.8,2826.8 393.6,2826.6 394.4,2826.7 395.3,2827.3 396.1,2828.1 396.9,2828.9 397.8,2829.6 398.6,2830.0 399.4,2830.0 400.3,2829.5 401.1,2828.8 401.9,2827.9 402.8,2827.1 403.6,2826.7 404.4,2826.6 405.3,2826.9 406.1,2827.6 406.9,2828.5 407.8,2829.3 408.6,2829.8 409.4,2830.0 410.3,2829.8 411.1,2829.2 411.9,2828.4 412.8,2827.5 413.6,2826.9 414.4,2826.6 415.3,2826.7 416.1,2827.2 416.9,2828.0 417.8,2828.8 418.6,2829.6 419.4,2830.0 420.3,2830.0 421.1,2829.6 421.9,2828.9 422.8,2828.0 423.6,2827.2 424.4,2826.7 425.3,2826.6 426.1,2826.9 426.9,2827.5 427.8,2828.3 428.6,2829.2 429.4,2829.8 430.3,2830.0 431.1,2829.8 432.0,2829.3 432.8,2828.5 433.6,2827.7 434.5,2827.0 435.3,2826.6 436.1,2826.7 437.0,2827.1 437.8,2827.9 438.6,2828.7 439.5,2829.5 440.3,2829.9 441.1,2830.0 442.0,2829.6 442.8,2829.0 443.6,2828.1 444.5,2827.3 445.3,2826.8 446.1,2826.6 447.0,2826.8 447.8,2827.4 448.6,2828.2 449.5,2829.1 450.3,2829.7 451.1,2830.0 452.0,2829.9 452.8,2829.4 453.6,2828.6 454.5,2827.8 455.3,2827.1 456.1,2826.7 457.0,2826.7 457.8,2827.1 458.6,2827.8 459.5,2828.6 460.3,2829.4 461.1,2829.9 462.0,2830.0 462.8,2829.7 463.6,2829.1 464.5,2828.2 465.3,2827.4 466.1,2826.8 467.0,2826.6 467.8,2826.8 468.6,2827.3 469.5,2828.1 470.3,2828.9 471.1,2829.6 472.0,2830.0 472.8,2829.9 473.6,2829.4 474.5,2828.7 475.3,2827.9 476.2,2827.1 477.0,2826.7 477.8,2826.6 478.7,2827.0 479.5,2827.7 480.3,2828.5 481.2,2829.3 482.0,2829.8 482.8,2830.0 483.7,2829.7 484.5,2829.1 485.3,2828.4 486.2,2827.5 487.0,2826.9 487.8,2826.6 488.7,2826.8 489.5,2827.3 490.3,2828.0 491.2,2828.8 492.0,2829.5 492.8,2829.9 493.7,2829.9 494.5,2829.5 495.3,2828.8 496.2,2828.0 497.0,2827.2 497.8,2826.8 498.7,2826.6 499.5,2826.9 500.3,2827.6 501.2,2828.4 502.0,2829.2 502.8,2829.7 503.7,2830.0 504.5,2829.8 505.3,2829.2 506.2,2828.5 507.0,2827.7 507.8,2827.0 508.7,2826.7 509.5,2826.7 510.3,2827.2 511.2,2827.9 512.0,2828.7 512.8,2829.4 513.7,2829.9 514.5,2829.9 515.3,2829.6 516.2,2828.9 517.0,2828.1 517.8,2827.3 518.7,2826.8 519.5,2826.7 520.3,2826.9 521.2,2827.5 522.0,2828.3 522.9,2829.1 523.7,2829.7 524.5,2829.9 525.4,2829.8 526.2,2829.3 527.0,2828.6 527.9,2827.8 528.7,2827.1 529.5,2826.7 530.4,2826.7 531.2,2827.1 532.0,2827.8 532.9,2828.6 533.7,2829.3 534.5,2829.8 535.4,2829.9 536.2,2829.6 537.0,2829.0 537.9,2828.2 538.7,2827.4 539.5,2826.9 540.4,2826.7 541.2,2826.9 542.0,2827.4 542.9,2828.2 543.7,2828.9 544.5,2829.6 545.4,2829.9 546.2,2829.8 547.0,2829.4 547.9,2828.7 548.7,2827.9 549.5,2827.2 550.4,2826.8 551.2,2826.7 552.0,2827.1 552.9,2827.7 553.7,2828.5 554.5,2829.2 555.4,2829.7 556.2,2829.9 557.0,2829.7 557.9,2829.1 558.7,2828.3 559.5,2827.6 560.4,2827.0 561.2,2826.7 562.0,2826.8 562.9,2827.3 563.7,2828.1 564.5,2828.8 565.4,2829.5 566.2,2829.8 567.1,2829.8 567.9,2829.4 568.7,2828.8 569.6,2828.0 570.4,2827.3 571.2,2826.8 572.1,2826.7 572.9,2827.0 573.7,2827.6 574.6,2828.4 575.4,2829.1 576.2,2829.7 577.1,2829.9 577.9,2829.7 578.7,2829.2 579.6,2828.4 580.4,2827.7 581.2,2827.1 582.1,2826.8 582.9,2826.8 583.7,2827.3 584.6,2828.0 585.4,2828.7 586.2,2829.4 587.1,2829.8 587.9,2829.8 588.7,2829.5 589.6,2828.9 590.4,2828.1 591.2,2827.4 592.1,2826.9 592.9,2826.8 593.7,2827.0 594.6,2827.6 595.4,2828.3 596.2,2829.0 597.1,2829.6 597.9,2829.8 598.7,2829.7 599.6,2829.2 600.4,2828.5 601.2,2827.8 602.1,2827.1 602.9,2826.8 603.7,2826.8 604.6,2827.2 605.4,2827.9 606.2,2828.6 607.1,2829.3 607.9,2829.7 608.7,2829.8 609.6,2829.5 610.4,2828.9 611.3,2828.2 612.1,2827.5 612.9,2827.0 613.8,2826.8 614.6,2827.0 615.4,2827.5 616.3,2828.2 617.1,2828.9 617.9,2829.5 618.8,2829.8 619.6,2829.7 620.4,2829.3 621.3,2828.6 622.1,2827.9 622.9,2827.2 623.8,2826.9 624.6,2826.8 625.4,2827.2 626.3,2827.8 627.1,2828.5 627.9,2829.2 628.8,2829.7 629.6,2829.8 630.4,2829.5 631.3,2829.0 632.1,2828.3 632.9,2827.6 633.8,2827.1 634.6,2826.8 635.4,2827.0 636.3,2827.4 637.1,2828.1 637.9,2828.8 638.8,2829.4 639.6,2829.7 640.4,2829.7 641.3,2829.3 642.1,2828.7 642.9,2828.0 643.8,2827.3 644.6,2826.9 645.4,2826.9 646.3,2827.1 647.1,2827.7 647.9,2828.4 648.8,2829.1 649.6,2829.6 650.4,2829.8 651.3,2829.6 652.1,2829.1 652.9,2828.4 653.8,2827.7 654.6,2827.1 655.4,2826.9 656.3,2827.0 657.1,2827.4 658.0,2828.0 658.8,2828.7 659.6,2829.3 660.5,2829.7 661.3,2829.7 662.1,2829.4 663.0,2828.8 663.8,2828.1 664.6,2827.4 665.5,2827.0 666.3,2826.9 667.1,2827.1 668.0,2827.6 668.8,2828.3 669.6,2829.0 670.5,2829.5 671.3,2829.7 672.1,2829.6 673.0,2829.1 673.8,2828.5 674.6,2827.8 675.5,2827.2 676.3,2826.9 677.1,2827.0 678.0,2827.3 678.8,2827.9 679.6,2828.6 680.5,2829.2 681.3,2829.6 682.1,2829.7 683.0,2829.4 683.8,2828.9 684.6,2828.2 685.5,2827.5 686.3,2827.1 687.1,2826.9 688.0,2827.1 688.8,2827.6 689.6,2828.2 690.5,2828.9 691.3,2829.4 692.1,2829.7 693.0,2829.6 693.8,2829.2 694.6,2828.6 695.5,2827.9 696.3,2827.3 697.1,2827.0 698.0,2827.0 698.8,2827.3 699.6,2827.9 700.5,2828.5 701.3,2829.1 702.2,2829.5 703.0,2829.6 703.8,2829.4 704.7,2828.9 705.5,2828.3 706.3,2827.6 707.2,2827.2 708.0,2827.0 708.8,2827.1 709.7,2827.5 710.5,2828.1 711.3,2828.8 712.2,2829.3 713.0,2829.6 713.8,2829.6 714.7,2829.2 715.5,2828.6 716.3,2828.0 717.2,2827.4 718.0,2827.1 718.8,2827.0 719.7,2827.3 720.5,2827.8 721.3,2828.4 722.2,2829.0 723.0,2829.5 723.8,2829.6 724.7,2829.4 725.5,2829.0 726.3,2828.4 727.2,2827.7 728.0,2827.2 728.8,2827.0 729.7,2827.1 730.5,2827.5 731.3,2828.1 732.2,2828.7 733.0,2829.2 733.8,2829.5 734.7,2829.5 735.5,2829.2 736.3,2828.7 737.2,2828.1 738.0,2827.5 738.8,2827.1 739.7,2827.0 740.5,2827.3 741.3,2827.7 742.2,2828.3 743.0,2828.9 743.8,2829.4 744.7,2829.6 745.5,2829.4 746.4,2829.0 747.2,2828.4 748.0,2827.8 748.9,2827.3 749.7,2827.1 750.5,2827.1 751.4,2827.4 752.2,2828.0 753.0,2828.6 753.9,2829.1 754.7,2829.5 755.5,2829.5 756.4,2829.3 757.2,2828.8 758.0,2828.2 758.9,2827.6 759.7,2827.2 760.5,2827.1 761.4,2827.2 762.2,2827.7 763.0,2828.3 763.9,2828.8 764.7,2829.3 765.5,2829.5 766.4,2829.4 767.2,2829.1 768.0,2828.5 768.9,2827.9 769.7,2827.4 770.5,2827.1 771.4,2827.1 772.2,2827.4 773.0,2827.9 773.9,2828.5 774.7,2829.1 775.5,2829.4 776.4,2829.5 777.2,2829.3 778.0,2828.8 778.9,2828.3 779.7,2827.7 780.5,2827.3 781.4,2827.1 782.2,2827.2 783.0,2827.6 783.9,2828.2 784.7,2828.8 785.5,2829.2 786.4,2829.5 787.2,2829.4 788.0,2829.1 788.9,2828.6 789.7,2828.0 790.5,2827.5 791.4,2827.2 792.2,2827.2 793.1,2827.4 793.9,2827.9 794.7,2828.4 795.6,2829.0 796.4,2829.3 797.2,2829.4 798.1,2829.3 798.9,2828.9 799.7,2828.3 800.6,2827.8 801.4,2827.4 802.2,2827.2 803.1,2827.3 803.9,2827.6 804.7,2828.1 805.6,2828.7 806.4,2829.1 807.2,2829.4 808.1,2829.4 808.9,2829.1 809.7,2828.6 810.6,2828.1 811.4,2827.6 812.2,2827.3 813.1,2827.2 813.9,2827.4 814.7,2827.8 815.6,2828.4 816.4,2828.9 817.2,2829.2 818.1,2829.4 818.9,2829.3 819.7,2828.9 820.6,2828.4 821.4,2827.9 822.2,2827.4 823.1,2827.2 823.9,2827.3 824.7,2827.6 825.6,2828.1 826.4,2828.6 827.2,2829.0 828.1,2829.3 828.9,2829.3 829.7,2829.1 830.6,2828.7 831.4,2828.2 832.2,2827.7 833.1,2827.4 833.9,2827.3 834.7,2827.4 835.6,2827.8 836.4,2828.3 837.3,2828.8 838.1,2829.2 838.9,2829.3 839.8,2829.2 840.6,2828.9 841.4,2828.5 842.3,2828.0 843.1,2827.5 843.9,2827.3 844.8,2827.3 845.6,2827.6 846.4,2828.0 847.3,2828.5 848.1,2829.0 848.9,2829.2 849.8,2829.3 850.6,2829.1 851.4,2828.7 852.3,2828.2 853.1,2827.8 853.9,2827.4 854.8,2827.3 855.6,2827.4 856.4,2827.8 857.3,2828.2 858.1,2828.7 858.9,2829.1 859.8,2829.3 860.6,2829.2 861.4,2829.0 862.3,2828.5 863.1,2828.0 863.9,2827.6 864.8,2827.4 865.6,2827.4 866.4,2827.6 867.3,2828.0 868.1,2828.4 868.9,2828.9 869.8,2829.2 870.6,2829.3 871.4,2829.1 872.3,2828.8 873.1,2828.3 873.9,2827.9 874.8,2827.5 875.6,2827.4 876.4,2827.4 877.3,2827.7 878.1,2828.2 878.9,2828.6 879.8,2829.0 880.6,2829.2 881.5,2829.2 882.3,2829.0 883.1,2828.6 884.0,2828.1 884.8,2827.7 885.6,2827.4 886.5,2827.4 887.3,2827.6 888.1,2827.9 889.0,2828.4 889.8,2828.8 890.6,2829.1 891.5,2829.2 892.3,2829.1 893.1,2828.8 894.0,2828.4 894.8,2827.9 895.6,2827.6 896.5,2827.4 897.3,2827.5 898.1,2827.7 899.0,2828.1 899.8,2828.5 900.6,2828.9 901.5,2829.1 902.3,2829.2 903.1,2829.0 904.0,2828.6 904.8,2828.2 905.6,2827.8 906.5,2827.5 907.3,2827.4 908.1,2827.6 909.0,2827.9 909.8,2828.3 910.6,2828.7 911.5,2829.0 912.3,2829.1 913.1,2829.1 914.0,2828.8 914.8,2828.4 915.6,2828.0 916.5,2827.7 917.3,2827.5 918.1,2827.5 919.0,2827.7 919.8,2828.1 920.6,2828.5 921.5,2828.8 922.3,2829.1 923.1,2829.1 924.0,2828.9 924.8,2828.6 925.6,2828.2 926.5,2827.9 927.3,2827.6 928.2,2827.5 929.0,2827.6 929.8,2827.9 930.7,2828.2 931.5,2828.6 932.3,2828.9 933.2,2829.1 934.0,2829.0 934.8,2828.8 935.7,2828.5 936.5,2828.1 937.3,2827.8 938.2,2827.6 939.0,2827.6 939.8,2827.7 940.7,2828.0 941.5,2828.4 942.3,2828.8 943.2,2829.0 944.0,2829.1 944.8,2828.9 945.7,2828.7 946.5,2828.3 947.3,2827.9 948.2,2827.7 949.0,2827.6 949.8,2827.6 950.7,2827.9 951.5,2828.2 952.3,2828.6 953.2,2828.9 954.0,2829.0 954.8,2829.0 955.7,2828.8 956.5,2828.5 957.3,2828.1 958.2,2827.8 959.0,2827.6 959.8,2827.6 960.7,2827.7 961.5,2828.0 962.3,2828.4 963.2,2828.7 964.0,2828.9 964.8,2829.0 965.7,2828.9 966.5,2828.7 967.3,2828.3 968.2,2828.0 969.0,2827.7 969.8,2827.6 970.7,2827.7 971.5,2827.9 972.4,2828.2 973.2,2828.5 974.0,2828.8 974.9,2828.9 975.7,2828.9 976.5,2828.8 977.4,2828.5 978.2,2828.2 979.0,2827.9 979.9,2827.7 980.7,2827.7 981.5,2827.8 982.4,2828.0 983.2,2828.3 984.0,2828.6 984.9,2828.8 985.7,2828.9 986.5,2828.9 987.4,2828.7 988.2,2828.4 989.0,2828.1 989.9,2827.8 990.7,2827.7 991.5,2827.7 992.4,2827.9 993.2,2828.1 994.0,2828.4 994.9,2828.7 995.7,2828.9 996.5,2828.9 997.4,2828.8 998.2,2828.5 999.0,2828.2 999.9,2828.0 1000.7,2827.8 1001.5,2827.7 1002.4,2827.8 1003.2,2828.0 1004.0,2828.3 1004.9,2828.6 1005.7,2828.8 1006.5,2828.9 1007.4,2828.8 1008.2,2828.7 1009.0,2828.4 1009.9,2828.1 1010.7,2827.9 1011.5,2827.8 1012.4,2827.8 1013.2,2827.9 1014.0,2828.1 1014.9,2828.4 1015.7,2828.6 1016.6,2828.8 1017.4,2828.8 1018.2,2828.7 1019.1,2828.5 1019.9,2828.3 1020.7,2828.0 1021.6,2827.9 1022.4,2827.8 1023.2,2827.8 1024.1,2828.0 1024.9,2828.2 1025.7,2828.5 1026.6,2828.7 1027.4,2828.8 1028.2,2828.8 1029.1,2828.6 1029.9,2828.4 1030.7,2828.2 1031.6,2828.0 1032.4,2827.8 1033.2,2827.8 1034.1,2827.9 1034.9,2828.1 1035.7,2828.3 1036.6,2828.6 1037.4,2828.7 1038.2,2828.8 1039.1,2828.7 1039.9,2828.5 1040.7,2828.3 1041.6,2828.1 1042.4,2827.9 1043.2,2827.8 1044.1,2827.9 1044.9,2828.0 1045.7,2828.2 1046.6,2828.4 1047.4,2828.6 1048.2,2828.7 1049.1,2828.7 1049.9,2828.6 1050.7,2828.4 1051.6,2828.2 1052.4,2828.0 1053.2,2827.9 1054.1,2827.9 1054.9,2828.0 1055.7,2828.1 1056.6,2828.3 1057.4,2828.5 1058.2,2828.7 1059.1,2828.7 1059.9,2828.7 1060.7,2828.5 1061.6,2828.3 1062.4,2828.1 1063.3,2828.0 1064.1,2827.9 1064.9,2827.9 1065.8,2828.0 1066.6,2828.2 1067.4,2828.4 1068.3,2828.6 1069.1,2828.7 1069.9,2828.7 1070.8,2828.6 1071.6,2828.4 1072.4,2828.3 1073.3,2828.1 1074.1,2828.0 1074.9,2827.9 1075.8,2828.0 1076.6,2828.1 1077.4,2828.3 1078.3,2828.5 1079.1,2828.6 1079.9,2828.6 1080.8,2828.6 1081.6,2828.5 1082.4,2828.4 1083.3,2828.2 1084.1,2828.1 1084.9,2828.0 1085.8,2828.0 1086.6,2828.1 1087.4,2828.2 1088.3,2828.4 1089.1,2828.5 1089.9,2828.6 1090.8,2828.6 1091.6,2828.6 1092.4,2828.4 1093.3,2828.3 1094.1,2828.1 1094.9,2828.0 1095.8,2828.0 1096.6,2828.0 1097.4,2828.1 1098.3,2828.3 1099.1,2828.4 1099.9,2828.5 1100.8,2828.6 1101.6,2828.6 1102.4,2828.5 1103.3,2828.4 1104.1,2828.2 1104.9,2828.1 1105.8,2828.0 1106.6,2828.0 1107.5,2828.1 1108.3,2828.2 1109.1,2828.3 1110.0,2828.4 1110.8,2828.5 1111.6,2828.5 1112.5,2828.5 1113.3,2828.4 1114.1,2828.3 1115.0,2828.2 1115.8,2828.1 1116.6,2828.1 1117.5,2828.1 1118.3,2828.2 1119.1,2828.3 1120.0,2828.4 1120.8,2828.5 1121.6,2828.5 1122.5,2828.5 1123.3,2828.5 1124.1,2828.4 1125.0,2828.3 1125.8,2828.2 1126.6,2828.1 1127.5,2828.1 1128.3,2828.1 1129.1,2828.2 1130.0,2828.3 1130.8,2828.4 1131.6,2828.5 1132.5,2828.5 1133.3,2828.5 1134.1,2828.4 1135.0,2828.3 1135.8,2828.2 1136.6,2828.2 1137.5,2828.1 1138.3,2828.1 1139.1,2828.2 1140.0,2828.3 1140.8,2828.3 1141.6,2828.4 1142.5,2828.4 1143.3,2828.4 1144.1,2828.4 1145.0,2828.4 1145.8,2828.3 1146.6,2828.2 1147.5,2828.2 1148.3,2828.2 1149.1,2828.2 1150.0,2828.2 1150.8,2828.3 1151.7,2828.4 1152.5,2828.4 1153.3,2828.4 1154.2,2828.4 1155.0,2828.4 1155.8,2828.3 1156.7,2828.3 1157.5,2828.2 1158.3,2828.2 1159.2,2828.2 1160.0,2828.2 1160.8,2828.3 1161.7,2828.3 1162.5,2828.4 1163.3,2828.4 1164.2,2828.4 1165.0,2828.4 1165.8,2828.3 1166.7,2828.3 1167.5,2828.3 1168.3,2828.2 1169.2,2828.2 1170.0,2828.2 1170.8,2828.3 1171.7,2828.3 1172.5,2828.3 1173.3,2828.3 1174.2,2828.3 1175.0,2828.3 1175.8,2828.3 1176.7,2828.3 1177.5,2828.3 1178.3,2828.3 1179.2,2828.3 1180.0,2828.3 1180.8,2828.3 1181.7,2828.3 1182.5,2828.3 1183.3,2828.3 1184.2,2828.3 1185.0,2828.3 1185.8,2828.3 1186.7,2828.3 1187.5,2828.3 1188.3,2828.3 1189.2,2828.3 1190.0,2828.3 1190.8,2828.3 1191.7,2828.3 1192.5,2828.3 1193.3,2828.3 1194.2,2828.3 1195.0,2828.3 1195.8,2828.3 1196.7,2828.3 1197.5,2828.3 1198.4,2828.3 1199.2,2828.3 1200.0,2828.3 1200.9,2828.3 1201.7,2828.3 1202.5,2828.3 1203.4,2828.3 1204.2,2828.3 1205.0,2828.3 1205.9,2828.3 1206.7,2828.3 1207.5,2828.3 1208.4,2828.3 1209.2,2828.3 1210.0,2828.4 1210.9,2828.4 1211.7,2828.4 1212.5,2828.3 1213.4,2828.3 1214.2,2828.3 1215.0,2828.2 1215.9,2828.2 1216.7,2828.2 1217.5,2828.2 1218.4,2828.3 1219.2,2828.3 1220.0,2828.4 1220.9,2828.4 1221.7,2828.4 1222.5,2828.4 1223.4,2828.3 1224.2,2828.3 1225.0,2828.2 1225.9,2828.2 1226.7,2828.2 1227.5,2828.2 1228.4,2828.2 1229.2,2828.3 1230.0,2828.3 1230.9,2828.4 1231.7,2828.4 1232.5,2828.4 1233.4,2828.4 1234.2,2828.3 1235.0,2828.3 1235.9,2828.2 1236.7,2828.2 1237.5,2828.2 1238.4,2828.2 1239.2,2828.2 1240.0,2828.3 1240.9,2828.4 1241.7,2828.4 1242.6,2828.5 1243.4,2828.4 1244.2,2828.4 1245.1,2828.3 1245.9,2828.2 1246.7,2828.2 1247.6,2828.1 1248.4,2828.1 1249.2,2828.2 1250.1,2828.3 1250.9,2828.4 1251.7,2828.4 1252.6,2828.5 1253.4,2828.5 1254.2,2828.5 1255.1,2828.4 1255.9,2828.3 1256.7,2828.2 1257.6,2828.1 1258.4,2828.1 1259.2,2828.1 1260.1,2828.2 1260.9,2828.3 1261.7,2828.4 1262.6,2828.5 1263.4,2828.5 1264.2,2828.5 1265.1,2828.4 1265.9,2828.3 1266.7,2828.2 1267.6,2828.1 1268.4,2828.1 1269.2,2828.1 1270.1,2828.1 1270.9,2828.2 1271.7,2828.4 1272.6,2828.5 1273.4,2828.5 1274.2,2828.6 1275.1,2828.5 1275.9,2828.4 1276.7,2828.3 1277.6,2828.1 1278.4,2828.1 1279.2,2828.0 1280.1,2828.1 1280.9,2828.1 1281.7,2828.3 1282.6,2828.4 1283.4,2828.5 1284.2,2828.6 1285.1,2828.6 1285.9,2828.5 1286.7,2828.4 1287.6,2828.2 1288.4,2828.1 1289.3,2828.0 1290.1,2828.0 1290.9,2828.1 1291.8,2828.2 1292.6,2828.4 1293.4,2828.5 1294.3,2828.6 1295.1,2828.6 1295.9,2828.6 1296.8,2828.5 1297.6,2828.3 1298.4,2828.1 1299.3,2828.0 1300.1,2828.0 1300.9,2828.0 1301.8,2828.1 1302.6,2828.3 1303.4,2828.4 1304.3,2828.6 1305.1,2828.7 1305.9,2828.6 1306.8,2828.6 1307.6,2828.4 1308.4,2828.2 1309.3,2828.0 1310.1,2827.9 1310.9,2827.9 1311.8,2828.0 1312.6,2828.1 1313.4,2828.3 1314.3,2828.5 1315.1,2828.6 1315.9,2828.7 1316.8,2828.6 1317.6,2828.5 1318.4,2828.3 1319.3,2828.1 1320.1,2828.0 1320.9,2827.9 1321.8,2827.9 1322.6,2828.0 1323.4,2828.2 1324.3,2828.4 1325.1,2828.6 1325.9,2828.7 1326.8,2828.7 1327.6,2828.6 1328.4,2828.4 1329.3,2828.2 1330.1,2828.0 1330.9,2827.9 1331.8,2827.9 1332.6,2827.9 1333.5,2828.1 1334.3,2828.3 1335.1,2828.5 1336.0,2828.7 1336.8,2828.8 1337.6,2828.7 1338.5,2828.6 1339.3,2828.4 1340.1,2828.1 1341.0,2827.9 1341.8,2827.8 1342.6,2827.8 1343.5,2828.0 1344.3,2828.2 1345.1,2828.4 1346.0,2828.6 1346.8,2828.8 1347.6,2828.8 1348.5,2828.7 1349.3,2828.5 1350.1,2828.2 1351.0,2828.0 1351.8,2827.8 1352.6,2827.8 1353.5,2827.9 1354.3,2828.0 1355.1,2828.3 1356.0,2828.5 1356.8,2828.7 1357.6,2828.8 1358.5,2828.8 1359.3,2828.6 1360.1,2828.4 1361.0,2828.1 1361.8,2827.9 1362.6,2827.8 1363.5,2827.8 1364.3,2827.9 1365.1,2828.1 1366.0,2828.4 1366.8,2828.6 1367.6,2828.8 1368.5,2828.9 1369.3,2828.8 1370.1,2828.5 1371.0,2828.3 1371.8,2828.0 1372.6,2827.8 1373.5,2827.7 1374.3,2827.8 1375.1,2828.0 1376.0,2828.2 1376.8,2828.5 1377.7,2828.8 1378.5,2828.9 1379.3,2828.9 1380.2,2828.7 1381.0,2828.4 1381.8,2828.1 1382.7,2827.9 1383.5,2827.7 1384.3,2827.7 1385.2,2827.8 1386.0,2828.1 1386.8,2828.4 1387.7,2828.7 1388.5,2828.9 1389.3,2828.9 1390.2,2828.8 1391.0,2828.6 1391.8,2828.3 1392.7,2828.0 1393.5,2827.8 1394.3,2827.7 1395.2,2827.7 1396.0,2827.9 1396.8,2828.2 1397.7,2828.5 1398.5,2828.8 1399.3,2828.9 1400.2,2828.9 1401.0,2828.8 1401.8,2828.5 1402.7,2828.2 1403.5,2827.9 1404.3,2827.7 1405.2,2827.6 1406.0,2827.8 1406.8,2828.0 1407.7,2828.3 1408.5,2828.7 1409.3,2828.9 1410.2,2829.0 1411.0,2828.9 1411.8,2828.7 1412.7,2828.4 1413.5,2828.0 1414.3,2827.8 1415.2,2827.6 1416.0,2827.6 1416.8,2827.8 1417.7,2828.1 1418.5,2828.5 1419.3,2828.8 1420.2,2829.0 1421.0,2829.0 1421.8,2828.8 1422.7,2828.6 1423.5,2828.2 1424.4,2827.9 1425.2,2827.6 1426.0,2827.6 1426.9,2827.7 1427.7,2827.9 1428.5,2828.3 1429.4,2828.6 1430.2,2828.9 1431.0,2829.0 1431.9,2829.0 1432.7,2828.8 1433.5,2828.4 1434.4,2828.1 1435.2,2827.7 1436.0,2827.6 1436.9,2827.6 1437.7,2827.8 1438.5,2828.1 1439.4,2828.5 1440.2,2828.8 1441.0,2829.0 1441.9,2829.1 1442.7,2828.9 1443.5,2828.6 1444.4,2828.3 1445.2,2827.9 1446.0,2827.6 1446.9,2827.5 1447.7,2827.6 1448.5,2827.9 1449.4,2828.2 1450.2,2828.6 1451.0,2828.9 1451.9,2829.1 1452.7,2829.1 1453.5,2828.8 1454.4,2828.5 1455.2,2828.1 1456.0,2827.7 1456.9,2827.5 1457.7,2827.5 1458.5,2827.7 1459.4,2828.0 1460.2,2828.4 1461.0,2828.8 1461.9,2829.0 1462.7,2829.1 1463.5,2829.0 1464.4,2828.7 1465.2,2828.3 1466.0,2827.9 1466.9,2827.6 1467.7,2827.5 1468.6,2827.5 1469.4,2827.8 1470.2,2828.2 1471.1,2828.6 1471.9,2828.9 1472.7,2829.1 1473.6,2829.1 1474.4,2828.9 1475.2,2828.5 1476.1,2828.1 1476.9,2827.7 1477.7,2827.5 1478.6,2827.4 1479.4,2827.6 1480.2,2827.9 1481.1,2828.4 1481.9,2828.8 1482.7,2829.1 1483.6,2829.2 1484.4,2829.1 1485.2,2828.8 1486.1,2828.4 1486.9,2827.9 1487.7,2827.6 1488.6,2827.4 1489.4,2827.5 1490.2,2827.7 1491.1,2828.1 1491.9,2828.6 1492.7,2828.9 1493.6,2829.2 1494.4,2829.2 1495.2,2829.0 1496.1,2828.6 1496.9,2828.2 1497.7,2827.7 1498.6,2827.5 1499.4,2827.4 1500.2,2827.5 1501.1,2827.9 1501.9,2828.3 1502.7,2828.7 1503.6,2829.1 1504.4,2829.2 1505.2,2829.2 1506.1,2828.9 1506.9,2828.4 1507.7,2828.0 1508.6,2827.6 1509.4,2827.4 1510.2,2827.4 1511.1,2827.6 1511.9,2828.0 1512.8,2828.5 1513.6,2828.9 1514.4,2829.2 1515.3,2829.3 1516.1,2829.1 1516.9,2828.7 1517.8,2828.2 1518.6,2827.8 1519.4,2827.4 1520.3,2827.3 1521.1,2827.4 1521.9,2827.8 1522.8,2828.2 1523.6,2828.7 1524.4,2829.1 1525.3,2829.3 1526.1,2829.2 1526.9,2829.0 1527.8,2828.5 1528.6,2828.0 1529.4,2827.6 1530.3,2827.3 1531.1,2827.3 1531.9,2827.5 1532.8,2828.0 1533.6,2828.5 1534.4,2828.9 1535.3,2829.2 1536.1,2829.3 1536.9,2829.2 1537.8,2828.8 1538.6,2828.3 1539.4,2827.8 1540.3,2827.4 1541.1,2827.3 1541.9,2827.4 1542.8,2827.7 1543.6,2828.2 1544.4,2828.7 1545.3,2829.1 1546.1,2829.3 1546.9,2829.3 1547.8,2829.0 1548.6,2828.6 1549.4,2828.1 1550.3,2827.6 1551.1,2827.3 1551.9,2827.2 1552.8,2827.5 1553.6,2827.9 1554.4,2828.4 1555.3,2828.9 1556.1,2829.3 1556.9,2829.4 1557.8,2829.2 1558.6,2828.9 1559.5,2828.4 1560.3,2827.8 1561.1,2827.4 1562.0,2827.2 1562.8,2827.3 1563.6,2827.6 1564.5,2828.1 1565.3,2828.6 1566.1,2829.1 1567.0,2829.4 1567.8,2829.4 1568.6,2829.1 1569.5,2828.7 1570.3,2828.1 1571.1,2827.6 1572.0,2827.3 1572.8,2827.2 1573.6,2827.4 1574.5,2827.8 1575.3,2828.3 1576.1,2828.9 1577.0,2829.3 1577.8,2829.4 1578.6,2829.3 1579.5,2829.0 1580.3,2828.4 1581.1,2827.9 1582.0,2827.4 1582.8,2827.2 1583.6,2827.2 1584.5,2827.5 1585.3,2828.0 1586.1,2828.6 1587.0,2829.1 1587.8,2829.4 1588.6,2829.4 1589.5,2829.2 1590.3,2828.8 1591.1,2828.2 1592.0,2827.7 1592.8,2827.3 1593.6,2827.1 1594.5,2827.3 1595.3,2827.7 1596.1,2828.2 1597.0,2828.8 1597.8,2829.3 1598.6,2829.5 1599.5,2829.4 1600.3,2829.1 1601.1,2828.5 1602.0,2827.9 1602.8,2827.4 1603.7,2827.1 1604.5,2827.1 1605.3,2827.4 1606.2,2827.9 1607.0,2828.5 1607.8,2829.0 1608.7,2829.4 1609.5,2829.5 1610.3,2829.3 1611.2,2828.9 1612.0,2828.3 1612.8,2827.7 1613.7,2827.3 1614.5,2827.1 1615.3,2827.2 1616.2,2827.6 1617.0,2828.2 1617.8,2828.8 1618.7,2829.2 1619.5,2829.5 1620.3,2829.5 1621.2,2829.1 1622.0,2828.6 1622.8,2828.0 1623.7,2827.5 1624.5,2827.1 1625.3,2827.1 1626.2,2827.3 1627.0,2827.8 1627.8,2828.4 1628.7,2829.0 1629.5,2829.4 1630.3,2829.6 1631.2,2829.4 1632.0,2828.9 1632.8,2828.3 1633.7,2827.7 1634.5,2827.3 1635.3,2827.0 1636.2,2827.1 1637.0,2827.5 1637.8,2828.1 1638.7,2828.7 1639.5,2829.2 1640.3,2829.5 1641.2,2829.5 1642.0,2829.2 1642.8,2828.7 1643.7,2828.1 1644.5,2827.5 1645.3,2827.1 1646.2,2827.0 1647.0,2827.2 1647.9,2827.7 1648.7,2828.3 1649.5,2829.0 1650.4,2829.4 1651.2,2829.6 1652.0,2829.5 1652.9,2829.0 1653.7,2828.4 1654.5,2827.8 1655.4,2827.3 1656.2,2827.0 1657.0,2827.1 1657.9,2827.4 1658.7,2828.0 1659.5,2828.6 1660.4,2829.2 1661.2,2829.6 1662.0,2829.6 1662.9,2829.3 1663.7,2828.8 1664.5,2828.2 1665.4,2827.5 1666.2,2827.1 1667.0,2827.0 1667.9,2827.2 1668.7,2827.6 1669.5,2828.3 1670.4,2828.9 1671.2,2829.4 1672.0,2829.6 1672.9,2829.5 1673.7,2829.1 1674.5,2828.5 1675.4,2827.9 1676.2,2827.3 1677.0,2827.0 1677.9,2827.0 1678.7,2827.3 1679.5,2827.9 1680.4,2828.6 1681.2,2829.2 1682.0,2829.6 1682.9,2829.7 1683.7,2829.4 1684.5,2828.9 1685.4,2828.2 1686.2,2827.6 1687.0,2827.1 1687.9,2826.9 1688.7,2827.1 1689.5,2827.5 1690.4,2828.2 1691.2,2828.8 1692.0,2829.4 1692.9,2829.7 1693.7,2829.6 1694.6,2829.2 1695.4,2828.6 1696.2,2827.9 1697.1,2827.3 1697.9,2827.0 1698.7,2826.9 1699.6,2827.2 1700.4,2827.8 1701.2,2828.5 1702.1,2829.1 1702.9,2829.6 1703.7,2829.7 1704.6,2829.5 1705.4,2829.0 1706.2,2828.3 1707.1,2827.7 1707.9,2827.1 1708.7,2826.9 1709.6,2827.0 1710.4,2827.4 1711.2,2828.1 1712.1,2828.8 1712.9,2829.4 1713.7,2829.7 1714.6,2829.7 1715.4,2829.3 1716.2,2828.7 1717.1,2828.0 1717.9,2827.4 1718.7,2827.0 1719.6,2826.9 1720.4,2827.1 1721.2,2827.7 1722.1,2828.4 1722.9,2829.1 1723.7,2829.6 1724.6,2829.7 1725.4,2829.6 1726.2,2829.1 1727.1,2828.4 1727.9,2827.7 1728.7,2827.2 1729.6,2826.9 1730.4,2826.9 1731.2,2827.3 1732.1,2828.0 1732.9,2828.7 1733.7,2829.3 1734.6,2829.7 1735.4,2829.7 1736.2,2829.4 1737.1,2828.8 1737.9,2828.1 1738.8,2827.4 1739.6,2827.0 1740.4,2826.8 1741.3,2827.1 1742.1,2827.6 1742.9,2828.3 1743.8,2829.0 1744.6,2829.5 1745.4,2829.8 1746.3,2829.7 1747.1,2829.2 1747.9,2828.5 1748.8,2827.8 1749.6,2827.2 1750.4,2826.9 1751.3,2826.9 1752.1,2827.2 1752.9,2827.9 1753.8,2828.6 1754.6,2829.3 1755.4,2829.7 1756.3,2829.8 1757.1,2829.5 1757.9,2828.9 1758.8,2828.2 1759.6,2827.5 1760.4,2827.0 1761.3,2826.8 1762.1,2827.0 1762.9,2827.5 1763.8,2828.2 1764.6,2828.9 1765.4,2829.5 1766.3,2829.8 1767.1,2829.7 1767.9,2829.3 1768.8,2828.6 1769.6,2827.9 1770.4,2827.2 1771.3,2826.8 1772.1,2826.8 1772.9,2827.1 1773.8,2827.8 1774.6,2828.5 1775.4,2829.2 1776.3,2829.7 1777.1,2829.8 1777.9,2829.6 1778.8,2829.0 1779.6,2828.3 1780.4,2827.6 1781.3,2827.0 1782.1,2826.8 1783.0,2826.9 1783.8,2827.4 1784.6,2828.1 1785.5,2828.8 1786.3,2829.5 1787.1,2829.8 1788.0,2829.8 1788.8,2829.4 1789.6,2828.7 1790.5,2828.0 1791.3,2827.3 1792.1,2826.8 1793.0,2826.8 1793.8,2827.1 1794.6,2827.7 1795.5,2828.4 1796.3,2829.1 1797.1,2829.7 1798.0,2829.9 1798.8,2829.7 1799.6,2829.1 1800.5,2828.4 1801.3,2827.6 1802.1,2827.0 1803.0,2826.7 1803.8,2826.8 1804.6,2827.3 1805.5,2828.0 1806.3,2828.7 1807.1,2829.4 1808.0,2829.8 1808.8,2829.8 1809.6,2829.5 1810.5,2828.8 1811.3,2828.1 1812.1,2827.3 1813.0,2826.9 1813.8,2826.7 1814.6,2827.0 1815.5,2827.5 1816.3,2828.3 1817.1,2829.1 1818.0,2829.6 1818.8,2829.9 1819.6,2829.7 1820.5,2829.2 1821.3,2828.5 1822.1,2827.7 1823.0,2827.1 1823.8,2826.7 1824.6,2826.8 1825.5,2827.2 1826.3,2827.9 1827.1,2828.7 1828.0,2829.4 1828.8,2829.8 1829.7,2829.9 1830.5,2829.6 1831.3,2829.0 1832.2,2828.2 1833.0,2827.4 1833.8,2826.9 1834.7,2826.7 1835.5,2826.9 1836.3,2827.4 1837.2,2828.2 1838.0,2829.0 1838.8,2829.6 1839.7,2829.9 1840.5,2829.8 1841.3,2829.3 1842.2,2828.6 1843.0,2827.8 1843.8,2827.1 1844.7,2826.7 1845.5,2826.7 1846.3,2827.1 1847.2,2827.7 1848.0,2828.6 1848.8,2829.3 1849.7,2829.8 1850.5,2829.9 1851.3,2829.7 1852.2,2829.1 1853.0,2828.3 1853.8,2827.5 1854.7,2826.9 1855.5,2826.7 1856.3,2826.8 1857.2,2827.3 1858.0,2828.1 1858.8,2828.9 1859.7,2829.6 1860.5,2829.9 1861.3,2829.9 1862.2,2829.4 1863.0,2828.7 1863.8,2827.9 1864.7,2827.2 1865.5,2826.7 1866.3,2826.7 1867.2,2827.0 1868.0,2827.6 1868.8,2828.4 1869.7,2829.2 1870.5,2829.8 1871.3,2830.0 1872.2,2829.7 1873.0,2829.2 1873.9,2828.4 1874.7,2827.6 1875.5,2827.0 1876.4,2826.7 1877.2,2826.8 1878.0,2827.2 1878.9,2828.0 1879.7,2828.8 1880.5,2829.5 1881.4,2829.9 1882.2,2829.9 1883.0,2829.5 1883.9,2828.8 1884.7,2828.0 1885.5,2827.3 1886.4,2826.8 1887.2,2826.6 1888.0,2826.9 1888.9,2827.5 1889.7,2828.3 1890.5,2829.1 1891.4,2829.7 1892.2,2830.0 1893.0,2829.8 1893.9,2829.3 1894.7,2828.5 1895.5,2827.7 1896.4,2827.0 1897.2,2826.7 1898.0,2826.7 1898.9,2827.1 1899.7,2827.9 1900.5,2828.7 1901.4,2829.4 1902.2,2829.9 1903.0,2830.0 1903.9,2829.6 1904.7,2829.0 1905.5,2828.1 1906.4,2827.4 1907.2,2826.8 1908.0,2826.6 1908.9,2826.8 1909.7,2827.4 1910.5,2828.2 1911.4,2829.0 1912.2,2829.7 1913.0,2830.0 1913.9,2829.9 1914.7,2829.4 1915.5,2828.6 1916.4,2827.8 1917.2,2827.1 1918.1,2826.7 1918.9,2826.7 1919.7,2827.0 1920.6,2827.8 1921.4,2828.6 1922.2,2829.4 1923.1,2829.9 1923.9,2830.0 1924.7,2829.7 1925.6,2829.1 1926.4,2828.2 1927.2,2827.4 1928.1,2826.8 1928.9,2826.6 1929.7,2826.8 1930.6,2827.3 1931.4,2828.1 1932.2,2828.9 1933.1,2829.6 1933.9,2830.0 1934.7,2829.9 1935.6,2829.5 1936.4,2828.7 1937.2,2827.9 1938.1,2827.1 1938.9,2826.7 1939.7,2826.6 1940.6,2827.0 1941.4,2827.6 1942.2,2828.5 1943.1,2829.3 1943.9,2829.8 1944.7,2830.0 1945.6,2829.8 1946.4,2829.2 1947.2,2828.4 1948.1,2827.5 1948.9,2826.9 1949.7,2826.6 1950.6,2826.7 1951.4,2827.2 1952.2,2828.0 1953.1,2828.8 1953.9,2829.6 1954.7,2830.0 1955.6,2830.0 1956.4,2829.6 1957.2,2828.8 1958.1,2828.0 1958.9,2827.2 1959.7,2826.7 1960.6,2826.6 1961.4,2826.9 1962.2,2827.5 1963.1,2828.4 1963.9,2829.2 1964.8,2829.8 1965.6,2830.0 1966.4,2829.8 1967.3,2829.3 1968.1,2828.5 1968.9,2827.6 1969.8,2826.9 1970.6,2826.6 1971.4,2826.7 1972.3,2827.1 1973.1,2827.9 1973.9,2828.7 1974.8,2829.5 1975.6,2830.0 1976.4,2830.0 1977.3,2829.6 1978.1,2829.0 1978.9,2828.1 1979.8,2827.3 1980.6,2826.7 1981.4,2826.6 1982.3,2826.8 1983.1,2827.4 1983.9,2828.3 1984.8,2829.1 1985.6,2829.7"/>
<rect x="1448" y="1734" width="512" height="369" fill="#fff" stroke="#000" stroke-width="4.6"/>
<line x1="1461.7" y1="1795.3" x2="1633.9" y2="1795.3" stroke="#D633FF" stroke-width="3"/>
<line x1="1463" y1="1915.8" x2="1628" y2="1915.8" stroke="#FF8000" stroke-width="6.4" stroke-linecap="round" stroke-dasharray="28.8 39.2"/>
<line x1="1463.4" y1="2036.3" x2="1632.5" y2="2036.3" stroke="#808000" stroke-width="7.2" stroke-linecap="round"/>
<text transform="translate(1653.9,1821.0) scale(1,1.045)" font-size="75.0">Re[</text>
<text x="1771.7" y="1821.0" font-size="75.0" class="sf">&#947;</text>
<text transform="translate(1805.4,1790.4) scale(1,1.045)" font-size="51.0">(2)</text>
<text transform="translate(1802.8,1841.0) scale(1,1.045)" font-size="51.0">G,AT</text>
<text transform="translate(1927.8,1821.0) scale(1,1.045)" font-size="75.0">]</text>
<text x="1653.3" y="1941.3" font-size="77.0" class="sf">&#947;</text>
<text transform="translate(1688.2,1910.4) scale(1,1.045)" font-size="51.0">(3)</text>
<text transform="translate(1684.2,1961.3) scale(1,1.045)" font-size="51.0">G,AT</text>
<text x="1653.3" y="2061.9" font-size="77.0" class="sf">&#947;</text>
<text transform="translate(1688.2,2031.0) scale(1,1.045)" font-size="51.0">(4)</text>
<text transform="translate(1684.2,2081.9) scale(1,1.045)" font-size="51.0">G,AT</text>
</svg></body></html>
